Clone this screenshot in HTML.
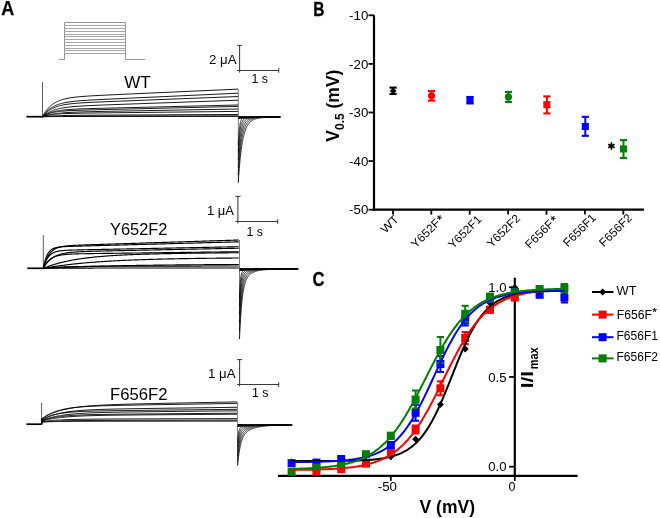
<!DOCTYPE html>
<html><head><meta charset="utf-8"><style>
html,body{margin:0;padding:0;background:#fff;}
svg{display:block;font-family:"Liberation Sans", sans-serif;will-change:transform;}
</style></head><body>
<svg width="660" height="518" viewBox="0 0 660 518">
<text x="1.30" y="15.30" font-size="19.5" font-weight="bold" textLength="13.00" lengthAdjust="spacingAndGlyphs" stroke="#000" stroke-width="0.25">A</text>
<path d="M59.00,59.50 L64.50,59.50 L64.50,22.50 L125.50,22.50 L125.50,59.50 L145.00,59.50" fill="none" stroke="#959595" stroke-width="1.0" />
<line x1="64.50" y1="25.50" x2="125.50" y2="25.50" stroke="#a8a8a8" stroke-width="1.0" />
<line x1="64.50" y1="28.50" x2="125.50" y2="28.50" stroke="#a8a8a8" stroke-width="1.0" />
<line x1="64.50" y1="31.50" x2="125.50" y2="31.50" stroke="#a8a8a8" stroke-width="1.0" />
<line x1="64.50" y1="34.50" x2="125.50" y2="34.50" stroke="#a8a8a8" stroke-width="1.0" />
<line x1="64.50" y1="36.50" x2="125.50" y2="36.50" stroke="#a8a8a8" stroke-width="1.0" />
<line x1="64.50" y1="39.50" x2="125.50" y2="39.50" stroke="#a8a8a8" stroke-width="1.0" />
<line x1="64.50" y1="42.50" x2="125.50" y2="42.50" stroke="#a8a8a8" stroke-width="1.0" />
<line x1="64.50" y1="45.50" x2="125.50" y2="45.50" stroke="#a8a8a8" stroke-width="1.0" />
<line x1="64.50" y1="48.50" x2="125.50" y2="48.50" stroke="#a8a8a8" stroke-width="1.0" />
<line x1="64.50" y1="50.50" x2="125.50" y2="50.50" stroke="#a8a8a8" stroke-width="1.0" />
<line x1="64.50" y1="53.50" x2="125.50" y2="53.50" stroke="#a8a8a8" stroke-width="1.0" />
<line x1="26.40" y1="116.70" x2="43.00" y2="116.70" stroke="#000" stroke-width="1.7" />
<line x1="42.50" y1="117.50" x2="42.50" y2="82.20" stroke="#333" stroke-width="0.8" />
<path d="M42.50,116.70 L42.50,116.70 L43.00,115.76 L43.50,114.87 L44.00,114.02 L44.50,113.21 L45.00,112.44 L45.50,111.70 L46.00,111.00 L46.50,110.33 L47.00,109.70 L47.50,109.09 L48.00,108.51 L48.50,107.96 L49.00,107.44 L49.50,106.94 L50.00,106.46 L50.50,106.00 L51.00,105.57 L51.50,105.16 L52.00,104.76 L52.50,104.39 L53.00,104.03 L53.50,103.68 L54.00,103.36 L54.50,103.04 L55.00,102.75 L55.50,102.46 L56.00,102.19 L56.50,101.93 L57.00,101.68 L57.50,101.44 L58.00,101.22 L58.50,101.00 L59.00,100.79 L59.50,100.59 L60.00,100.40 L60.50,100.22 L61.00,100.05 L61.50,99.88 L62.00,99.72 L62.50,99.57 L63.00,99.42 L64.00,99.15 L65.00,98.90 L66.00,98.66 L67.00,98.45 L68.00,98.25 L69.00,98.06 L70.00,97.89 L71.00,97.73 L72.00,97.58 L73.00,97.45 L74.00,97.32 L75.00,97.19 L76.00,97.08 L77.00,96.97 L78.00,96.87 L79.00,96.77 L80.00,96.68 L81.00,96.59 L82.00,96.51 L83.00,96.43 L84.00,96.36 L85.00,96.28 L86.00,96.21 L87.00,96.14 L88.00,96.08 L89.00,96.01 L90.00,95.95 L91.00,95.89 L92.00,95.83 L93.00,95.77 L94.00,95.72 L95.00,95.66 L96.00,95.61 L97.00,95.55 L98.00,95.50 L99.00,95.45 L100.00,95.40 L101.00,95.35 L102.00,95.30 L103.00,95.25 L104.00,95.20 L105.00,95.15 L106.00,95.10 L107.00,95.05 L108.00,95.00 L109.00,94.96 L110.00,94.91 L111.00,94.86 L112.00,94.82 L113.00,94.77 L114.00,94.72 L115.00,94.68 L116.00,94.63 L117.00,94.58 L118.00,94.54 L119.00,94.49 L120.00,94.44 L121.00,94.40 L122.00,94.35 L123.00,94.31 L124.00,94.26 L125.00,94.22 L126.00,94.17 L127.00,94.12 L128.00,94.08 L129.00,94.03 L130.00,93.99 L131.00,93.94 L132.00,93.90 L133.00,93.85 L134.00,93.81 L135.00,93.76 L136.00,93.72 L137.00,93.67 L138.00,93.63 L139.00,93.58 L140.00,93.54 L141.00,93.49 L142.00,93.44 L143.00,93.40 L144.00,93.35 L145.00,93.31 L146.00,93.26 L147.00,93.22 L148.00,93.17 L149.00,93.13 L150.00,93.08 L151.00,93.04 L152.00,92.99 L153.00,92.95 L154.00,92.90 L155.00,92.86 L156.00,92.81 L157.00,92.77 L158.00,92.72 L159.00,92.68 L160.00,92.63 L161.00,92.59 L162.00,92.54 L163.00,92.50 L164.00,92.45 L165.00,92.41 L166.00,92.36 L167.00,92.32 L168.00,92.27 L169.00,92.23 L170.00,92.18 L171.00,92.14 L172.00,92.09 L173.00,92.05 L174.00,92.00 L175.00,91.96 L176.00,91.91 L177.00,91.87 L178.00,91.82 L179.00,91.77 L180.00,91.73 L181.00,91.68 L182.00,91.64 L183.00,91.59 L184.00,91.55 L185.00,91.50 L186.00,91.46 L187.00,91.41 L188.00,91.37 L189.00,91.32 L190.00,91.28 L191.00,91.23 L192.00,91.19 L193.00,91.14 L194.00,91.10 L195.00,91.05 L196.00,91.01 L197.00,90.96 L198.00,90.92 L199.00,90.87 L200.00,90.83 L201.00,90.78 L202.00,90.74 L203.00,90.69 L204.00,90.65 L205.00,90.60 L206.00,90.56 L207.00,90.51 L208.00,90.47 L209.00,90.42 L210.00,90.38 L211.00,90.33 L212.00,90.29 L213.00,90.24 L214.00,90.20 L215.00,90.15 L216.00,90.11 L217.00,90.06 L218.00,90.02 L219.00,89.97 L220.00,89.93 L221.00,89.88 L222.00,89.84 L223.00,89.79 L224.00,89.75 L225.00,89.70 L226.00,89.65 L227.00,89.61 L228.00,89.56 L229.00,89.52 L230.00,89.47 L231.00,89.43 L232.00,89.38 L233.00,89.34 L234.00,89.29 L235.00,89.25 L236.00,89.20 L237.00,89.16 L238.00,89.11" fill="none" stroke="#000" stroke-width="0.9" />
<path d="M42.50,116.70 L42.50,116.70 L43.00,115.97 L43.50,115.27 L44.00,114.60 L44.50,113.97 L45.00,113.36 L45.50,112.79 L46.00,112.24 L46.50,111.71 L47.00,111.22 L47.50,110.74 L48.00,110.29 L48.50,109.85 L49.00,109.44 L49.50,109.05 L50.00,108.67 L50.50,108.31 L51.00,107.97 L51.50,107.64 L52.00,107.33 L52.50,107.03 L53.00,106.75 L53.50,106.48 L54.00,106.22 L54.50,105.97 L55.00,105.73 L55.50,105.51 L56.00,105.29 L56.50,105.08 L57.00,104.89 L57.50,104.70 L58.00,104.52 L58.50,104.34 L59.00,104.18 L59.50,104.02 L60.00,103.86 L60.50,103.72 L61.00,103.58 L61.50,103.44 L62.00,103.31 L62.50,103.19 L63.00,103.07 L64.00,102.85 L65.00,102.64 L66.00,102.45 L67.00,102.27 L68.00,102.10 L69.00,101.95 L70.00,101.81 L71.00,101.67 L72.00,101.55 L73.00,101.43 L74.00,101.32 L75.00,101.21 L76.00,101.11 L77.00,101.02 L78.00,100.93 L79.00,100.84 L80.00,100.76 L81.00,100.68 L82.00,100.61 L83.00,100.54 L84.00,100.47 L85.00,100.40 L86.00,100.33 L87.00,100.27 L88.00,100.21 L89.00,100.15 L90.00,100.09 L91.00,100.03 L92.00,99.98 L93.00,99.92 L94.00,99.87 L95.00,99.81 L96.00,99.76 L97.00,99.71 L98.00,99.66 L99.00,99.60 L100.00,99.55 L101.00,99.50 L102.00,99.45 L103.00,99.41 L104.00,99.36 L105.00,99.31 L106.00,99.26 L107.00,99.21 L108.00,99.16 L109.00,99.12 L110.00,99.07 L111.00,99.02 L112.00,98.97 L113.00,98.93 L114.00,98.88 L115.00,98.83 L116.00,98.79 L117.00,98.74 L118.00,98.69 L119.00,98.65 L120.00,98.60 L121.00,98.56 L122.00,98.51 L123.00,98.46 L124.00,98.42 L125.00,98.37 L126.00,98.33 L127.00,98.28 L128.00,98.23 L129.00,98.19 L130.00,98.14 L131.00,98.10 L132.00,98.05 L133.00,98.00 L134.00,97.96 L135.00,97.91 L136.00,97.87 L137.00,97.82 L138.00,97.78 L139.00,97.73 L140.00,97.68 L141.00,97.64 L142.00,97.59 L143.00,97.55 L144.00,97.50 L145.00,97.46 L146.00,97.41 L147.00,97.36 L148.00,97.32 L149.00,97.27 L150.00,97.23 L151.00,97.18 L152.00,97.14 L153.00,97.09 L154.00,97.04 L155.00,97.00 L156.00,96.95 L157.00,96.91 L158.00,96.86 L159.00,96.82 L160.00,96.77 L161.00,96.73 L162.00,96.68 L163.00,96.63 L164.00,96.59 L165.00,96.54 L166.00,96.50 L167.00,96.45 L168.00,96.41 L169.00,96.36 L170.00,96.32 L171.00,96.27 L172.00,96.22 L173.00,96.18 L174.00,96.13 L175.00,96.09 L176.00,96.04 L177.00,96.00 L178.00,95.95 L179.00,95.90 L180.00,95.86 L181.00,95.81 L182.00,95.77 L183.00,95.72 L184.00,95.68 L185.00,95.63 L186.00,95.59 L187.00,95.54 L188.00,95.49 L189.00,95.45 L190.00,95.40 L191.00,95.36 L192.00,95.31 L193.00,95.27 L194.00,95.22 L195.00,95.17 L196.00,95.13 L197.00,95.08 L198.00,95.04 L199.00,94.99 L200.00,94.95 L201.00,94.90 L202.00,94.86 L203.00,94.81 L204.00,94.76 L205.00,94.72 L206.00,94.67 L207.00,94.63 L208.00,94.58 L209.00,94.54 L210.00,94.49 L211.00,94.45 L212.00,94.40 L213.00,94.35 L214.00,94.31 L215.00,94.26 L216.00,94.22 L217.00,94.17 L218.00,94.13 L219.00,94.08 L220.00,94.03 L221.00,93.99 L222.00,93.94 L223.00,93.90 L224.00,93.85 L225.00,93.81 L226.00,93.76 L227.00,93.72 L228.00,93.67 L229.00,93.62 L230.00,93.58 L231.00,93.53 L232.00,93.49 L233.00,93.44 L234.00,93.40 L235.00,93.35 L236.00,93.30 L237.00,93.26 L238.00,93.21" fill="none" stroke="#000" stroke-width="0.9" />
<path d="M42.50,116.70 L42.50,116.70 L43.00,116.07 L43.50,115.47 L44.00,114.90 L44.50,114.35 L45.00,113.83 L45.50,113.34 L46.00,112.86 L46.50,112.41 L47.00,111.99 L47.50,111.58 L48.00,111.19 L48.50,110.81 L49.00,110.46 L49.50,110.12 L50.00,109.80 L50.50,109.49 L51.00,109.20 L51.50,108.92 L52.00,108.65 L52.50,108.39 L53.00,108.15 L53.50,107.91 L54.00,107.69 L54.50,107.48 L55.00,107.27 L55.50,107.08 L56.00,106.89 L56.50,106.72 L57.00,106.55 L57.50,106.38 L58.00,106.23 L58.50,106.08 L59.00,105.93 L59.50,105.80 L60.00,105.67 L60.50,105.54 L61.00,105.42 L61.50,105.30 L62.00,105.19 L62.50,105.09 L63.00,104.98 L64.00,104.79 L65.00,104.61 L66.00,104.45 L67.00,104.30 L68.00,104.15 L69.00,104.02 L70.00,103.90 L71.00,103.78 L72.00,103.68 L73.00,103.57 L74.00,103.48 L75.00,103.39 L76.00,103.30 L77.00,103.22 L78.00,103.14 L79.00,103.07 L80.00,103.00 L81.00,102.93 L82.00,102.87 L83.00,102.81 L84.00,102.75 L85.00,102.69 L86.00,102.63 L87.00,102.58 L88.00,102.52 L89.00,102.47 L90.00,102.42 L91.00,102.37 L92.00,102.32 L93.00,102.28 L94.00,102.23 L95.00,102.18 L96.00,102.14 L97.00,102.09 L98.00,102.05 L99.00,102.01 L100.00,101.96 L101.00,101.92 L102.00,101.88 L103.00,101.83 L104.00,101.79 L105.00,101.75 L106.00,101.71 L107.00,101.67 L108.00,101.63 L109.00,101.59 L110.00,101.54 L111.00,101.50 L112.00,101.46 L113.00,101.42 L114.00,101.38 L115.00,101.34 L116.00,101.30 L117.00,101.26 L118.00,101.22 L119.00,101.18 L120.00,101.14 L121.00,101.10 L122.00,101.06 L123.00,101.02 L124.00,100.98 L125.00,100.95 L126.00,100.91 L127.00,100.87 L128.00,100.83 L129.00,100.79 L130.00,100.75 L131.00,100.71 L132.00,100.67 L133.00,100.63 L134.00,100.59 L135.00,100.55 L136.00,100.51 L137.00,100.47 L138.00,100.43 L139.00,100.39 L140.00,100.35 L141.00,100.32 L142.00,100.28 L143.00,100.24 L144.00,100.20 L145.00,100.16 L146.00,100.12 L147.00,100.08 L148.00,100.04 L149.00,100.00 L150.00,99.96 L151.00,99.92 L152.00,99.88 L153.00,99.84 L154.00,99.81 L155.00,99.77 L156.00,99.73 L157.00,99.69 L158.00,99.65 L159.00,99.61 L160.00,99.57 L161.00,99.53 L162.00,99.49 L163.00,99.45 L164.00,99.41 L165.00,99.37 L166.00,99.33 L167.00,99.30 L168.00,99.26 L169.00,99.22 L170.00,99.18 L171.00,99.14 L172.00,99.10 L173.00,99.06 L174.00,99.02 L175.00,98.98 L176.00,98.94 L177.00,98.90 L178.00,98.86 L179.00,98.82 L180.00,98.79 L181.00,98.75 L182.00,98.71 L183.00,98.67 L184.00,98.63 L185.00,98.59 L186.00,98.55 L187.00,98.51 L188.00,98.47 L189.00,98.43 L190.00,98.39 L191.00,98.35 L192.00,98.32 L193.00,98.28 L194.00,98.24 L195.00,98.20 L196.00,98.16 L197.00,98.12 L198.00,98.08 L199.00,98.04 L200.00,98.00 L201.00,97.96 L202.00,97.92 L203.00,97.88 L204.00,97.84 L205.00,97.81 L206.00,97.77 L207.00,97.73 L208.00,97.69 L209.00,97.65 L210.00,97.61 L211.00,97.57 L212.00,97.53 L213.00,97.49 L214.00,97.45 L215.00,97.41 L216.00,97.37 L217.00,97.34 L218.00,97.30 L219.00,97.26 L220.00,97.22 L221.00,97.18 L222.00,97.14 L223.00,97.10 L224.00,97.06 L225.00,97.02 L226.00,96.98 L227.00,96.94 L228.00,96.90 L229.00,96.86 L230.00,96.83 L231.00,96.79 L232.00,96.75 L233.00,96.71 L234.00,96.67 L235.00,96.63 L236.00,96.59 L237.00,96.55 L238.00,96.51" fill="none" stroke="#000" stroke-width="0.9" />
<path d="M42.50,116.70 L42.50,116.70 L43.00,116.26 L43.50,115.83 L44.00,115.43 L44.50,115.04 L45.00,114.67 L45.50,114.31 L46.00,113.97 L46.50,113.64 L47.00,113.33 L47.50,113.03 L48.00,112.74 L48.50,112.46 L49.00,112.20 L49.50,111.95 L50.00,111.70 L50.50,111.47 L51.00,111.25 L51.50,111.03 L52.00,110.83 L52.50,110.63 L53.00,110.44 L53.50,110.26 L54.00,110.09 L54.50,109.92 L55.00,109.76 L55.50,109.61 L56.00,109.46 L56.50,109.31 L57.00,109.18 L57.50,109.05 L58.00,108.92 L58.50,108.80 L59.00,108.68 L59.50,108.57 L60.00,108.46 L60.50,108.36 L61.00,108.26 L61.50,108.16 L62.00,108.07 L62.50,107.98 L63.00,107.89 L64.00,107.72 L65.00,107.57 L66.00,107.43 L67.00,107.29 L68.00,107.17 L69.00,107.05 L70.00,106.94 L71.00,106.84 L72.00,106.74 L73.00,106.65 L74.00,106.56 L75.00,106.48 L76.00,106.40 L77.00,106.32 L78.00,106.25 L79.00,106.18 L80.00,106.12 L81.00,106.06 L82.00,106.00 L83.00,105.94 L84.00,105.88 L85.00,105.83 L86.00,105.77 L87.00,105.72 L88.00,105.67 L89.00,105.62 L90.00,105.58 L91.00,105.53 L92.00,105.48 L93.00,105.44 L94.00,105.40 L95.00,105.35 L96.00,105.31 L97.00,105.27 L98.00,105.23 L99.00,105.19 L100.00,105.15 L101.00,105.11 L102.00,105.07 L103.00,105.03 L104.00,104.99 L105.00,104.95 L106.00,104.91 L107.00,104.87 L108.00,104.84 L109.00,104.80 L110.00,104.76 L111.00,104.72 L112.00,104.69 L113.00,104.65 L114.00,104.61 L115.00,104.58 L116.00,104.54 L117.00,104.50 L118.00,104.47 L119.00,104.43 L120.00,104.40 L121.00,104.36 L122.00,104.32 L123.00,104.29 L124.00,104.25 L125.00,104.22 L126.00,104.18 L127.00,104.14 L128.00,104.11 L129.00,104.07 L130.00,104.04 L131.00,104.00 L132.00,103.97 L133.00,103.93 L134.00,103.89 L135.00,103.86 L136.00,103.82 L137.00,103.79 L138.00,103.75 L139.00,103.72 L140.00,103.68 L141.00,103.64 L142.00,103.61 L143.00,103.57 L144.00,103.54 L145.00,103.50 L146.00,103.47 L147.00,103.43 L148.00,103.40 L149.00,103.36 L150.00,103.33 L151.00,103.29 L152.00,103.25 L153.00,103.22 L154.00,103.18 L155.00,103.15 L156.00,103.11 L157.00,103.08 L158.00,103.04 L159.00,103.01 L160.00,102.97 L161.00,102.94 L162.00,102.90 L163.00,102.87 L164.00,102.83 L165.00,102.79 L166.00,102.76 L167.00,102.72 L168.00,102.69 L169.00,102.65 L170.00,102.62 L171.00,102.58 L172.00,102.55 L173.00,102.51 L174.00,102.48 L175.00,102.44 L176.00,102.41 L177.00,102.37 L178.00,102.33 L179.00,102.30 L180.00,102.26 L181.00,102.23 L182.00,102.19 L183.00,102.16 L184.00,102.12 L185.00,102.09 L186.00,102.05 L187.00,102.02 L188.00,101.98 L189.00,101.94 L190.00,101.91 L191.00,101.87 L192.00,101.84 L193.00,101.80 L194.00,101.77 L195.00,101.73 L196.00,101.70 L197.00,101.66 L198.00,101.63 L199.00,101.59 L200.00,101.56 L201.00,101.52 L202.00,101.48 L203.00,101.45 L204.00,101.41 L205.00,101.38 L206.00,101.34 L207.00,101.31 L208.00,101.27 L209.00,101.24 L210.00,101.20 L211.00,101.17 L212.00,101.13 L213.00,101.10 L214.00,101.06 L215.00,101.02 L216.00,100.99 L217.00,100.95 L218.00,100.92 L219.00,100.88 L220.00,100.85 L221.00,100.81 L222.00,100.78 L223.00,100.74 L224.00,100.71 L225.00,100.67 L226.00,100.64 L227.00,100.60 L228.00,100.56 L229.00,100.53 L230.00,100.49 L231.00,100.46 L232.00,100.42 L233.00,100.39 L234.00,100.35 L235.00,100.32 L236.00,100.28 L237.00,100.25 L238.00,100.21" fill="none" stroke="#000" stroke-width="0.9" />
<path d="M42.50,116.70 L42.50,116.70 L43.00,116.35 L43.50,116.01 L44.00,115.69 L44.50,115.38 L45.00,115.09 L45.50,114.81 L46.00,114.54 L46.50,114.29 L47.00,114.05 L47.50,113.82 L48.00,113.60 L48.50,113.39 L49.00,113.19 L49.50,113.00 L50.00,112.82 L50.50,112.64 L51.00,112.48 L51.50,112.32 L52.00,112.17 L52.50,112.02 L53.00,111.89 L53.50,111.75 L54.00,111.63 L54.50,111.51 L55.00,111.39 L55.50,111.28 L56.00,111.18 L56.50,111.08 L57.00,110.98 L57.50,110.89 L58.00,110.80 L58.50,110.71 L59.00,110.63 L59.50,110.56 L60.00,110.48 L60.50,110.41 L61.00,110.34 L61.50,110.28 L62.00,110.21 L62.50,110.15 L63.00,110.09 L64.00,109.98 L65.00,109.88 L66.00,109.79 L67.00,109.70 L68.00,109.62 L69.00,109.54 L70.00,109.47 L71.00,109.40 L72.00,109.34 L73.00,109.28 L74.00,109.23 L75.00,109.18 L76.00,109.13 L77.00,109.08 L78.00,109.03 L79.00,108.99 L80.00,108.95 L81.00,108.91 L82.00,108.87 L83.00,108.83 L84.00,108.80 L85.00,108.76 L86.00,108.73 L87.00,108.70 L88.00,108.67 L89.00,108.64 L90.00,108.61 L91.00,108.58 L92.00,108.55 L93.00,108.52 L94.00,108.49 L95.00,108.46 L96.00,108.43 L97.00,108.41 L98.00,108.38 L99.00,108.35 L100.00,108.33 L101.00,108.30 L102.00,108.28 L103.00,108.25 L104.00,108.23 L105.00,108.20 L106.00,108.17 L107.00,108.15 L108.00,108.12 L109.00,108.10 L110.00,108.07 L111.00,108.05 L112.00,108.03 L113.00,108.00 L114.00,107.98 L115.00,107.95 L116.00,107.93 L117.00,107.90 L118.00,107.88 L119.00,107.85 L120.00,107.83 L121.00,107.81 L122.00,107.78 L123.00,107.76 L124.00,107.73 L125.00,107.71 L126.00,107.69 L127.00,107.66 L128.00,107.64 L129.00,107.61 L130.00,107.59 L131.00,107.57 L132.00,107.54 L133.00,107.52 L134.00,107.49 L135.00,107.47 L136.00,107.45 L137.00,107.42 L138.00,107.40 L139.00,107.37 L140.00,107.35 L141.00,107.33 L142.00,107.30 L143.00,107.28 L144.00,107.25 L145.00,107.23 L146.00,107.21 L147.00,107.18 L148.00,107.16 L149.00,107.13 L150.00,107.11 L151.00,107.09 L152.00,107.06 L153.00,107.04 L154.00,107.02 L155.00,106.99 L156.00,106.97 L157.00,106.94 L158.00,106.92 L159.00,106.90 L160.00,106.87 L161.00,106.85 L162.00,106.82 L163.00,106.80 L164.00,106.78 L165.00,106.75 L166.00,106.73 L167.00,106.70 L168.00,106.68 L169.00,106.66 L170.00,106.63 L171.00,106.61 L172.00,106.58 L173.00,106.56 L174.00,106.54 L175.00,106.51 L176.00,106.49 L177.00,106.47 L178.00,106.44 L179.00,106.42 L180.00,106.39 L181.00,106.37 L182.00,106.35 L183.00,106.32 L184.00,106.30 L185.00,106.27 L186.00,106.25 L187.00,106.23 L188.00,106.20 L189.00,106.18 L190.00,106.15 L191.00,106.13 L192.00,106.11 L193.00,106.08 L194.00,106.06 L195.00,106.03 L196.00,106.01 L197.00,105.99 L198.00,105.96 L199.00,105.94 L200.00,105.92 L201.00,105.89 L202.00,105.87 L203.00,105.84 L204.00,105.82 L205.00,105.80 L206.00,105.77 L207.00,105.75 L208.00,105.72 L209.00,105.70 L210.00,105.68 L211.00,105.65 L212.00,105.63 L213.00,105.60 L214.00,105.58 L215.00,105.56 L216.00,105.53 L217.00,105.51 L218.00,105.49 L219.00,105.46 L220.00,105.44 L221.00,105.41 L222.00,105.39 L223.00,105.37 L224.00,105.34 L225.00,105.32 L226.00,105.29 L227.00,105.27 L228.00,105.25 L229.00,105.22 L230.00,105.20 L231.00,105.17 L232.00,105.15 L233.00,105.13 L234.00,105.10 L235.00,105.08 L236.00,105.05 L237.00,105.03 L238.00,105.01" fill="none" stroke="#000" stroke-width="0.9" />
<path d="M42.50,116.70 L42.50,116.70 L43.00,116.38 L43.50,116.08 L44.00,115.79 L44.50,115.52 L45.00,115.27 L45.50,115.02 L46.00,114.79 L46.50,114.57 L47.00,114.36 L47.50,114.17 L48.00,113.98 L48.50,113.80 L49.00,113.63 L49.50,113.47 L50.00,113.32 L50.50,113.17 L51.00,113.04 L51.50,112.91 L52.00,112.78 L52.50,112.66 L53.00,112.55 L53.50,112.44 L54.00,112.34 L54.50,112.24 L55.00,112.15 L55.50,112.06 L56.00,111.98 L56.50,111.90 L57.00,111.82 L57.50,111.75 L58.00,111.68 L58.50,111.61 L59.00,111.55 L59.50,111.49 L60.00,111.43 L60.50,111.38 L61.00,111.32 L61.50,111.27 L62.00,111.22 L62.50,111.18 L63.00,111.13 L64.00,111.05 L65.00,110.97 L66.00,110.89 L67.00,110.83 L68.00,110.76 L69.00,110.71 L70.00,110.65 L71.00,110.60 L72.00,110.55 L73.00,110.50 L74.00,110.46 L75.00,110.42 L76.00,110.38 L77.00,110.34 L78.00,110.30 L79.00,110.27 L80.00,110.24 L81.00,110.20 L82.00,110.17 L83.00,110.14 L84.00,110.11 L85.00,110.08 L86.00,110.05 L87.00,110.02 L88.00,109.99 L89.00,109.97 L90.00,109.94 L91.00,109.91 L92.00,109.89 L93.00,109.86 L94.00,109.83 L95.00,109.81 L96.00,109.78 L97.00,109.76 L98.00,109.73 L99.00,109.71 L100.00,109.68 L101.00,109.66 L102.00,109.63 L103.00,109.61 L104.00,109.59 L105.00,109.56 L106.00,109.54 L107.00,109.51 L108.00,109.49 L109.00,109.46 L110.00,109.44 L111.00,109.42 L112.00,109.39 L113.00,109.37 L114.00,109.34 L115.00,109.32 L116.00,109.30 L117.00,109.27 L118.00,109.25 L119.00,109.23 L120.00,109.20 L121.00,109.18 L122.00,109.15 L123.00,109.13 L124.00,109.11 L125.00,109.08 L126.00,109.06 L127.00,109.04 L128.00,109.01 L129.00,108.99 L130.00,108.96 L131.00,108.94 L132.00,108.92 L133.00,108.89 L134.00,108.87 L135.00,108.85 L136.00,108.82 L137.00,108.80 L138.00,108.77 L139.00,108.75 L140.00,108.73 L141.00,108.70 L142.00,108.68 L143.00,108.66 L144.00,108.63 L145.00,108.61 L146.00,108.58 L147.00,108.56 L148.00,108.54 L149.00,108.51 L150.00,108.49 L151.00,108.47 L152.00,108.44 L153.00,108.42 L154.00,108.40 L155.00,108.37 L156.00,108.35 L157.00,108.32 L158.00,108.30 L159.00,108.28 L160.00,108.25 L161.00,108.23 L162.00,108.21 L163.00,108.18 L164.00,108.16 L165.00,108.14 L166.00,108.11 L167.00,108.09 L168.00,108.06 L169.00,108.04 L170.00,108.02 L171.00,107.99 L172.00,107.97 L173.00,107.95 L174.00,107.92 L175.00,107.90 L176.00,107.87 L177.00,107.85 L178.00,107.83 L179.00,107.80 L180.00,107.78 L181.00,107.76 L182.00,107.73 L183.00,107.71 L184.00,107.69 L185.00,107.66 L186.00,107.64 L187.00,107.61 L188.00,107.59 L189.00,107.57 L190.00,107.54 L191.00,107.52 L192.00,107.50 L193.00,107.47 L194.00,107.45 L195.00,107.43 L196.00,107.40 L197.00,107.38 L198.00,107.35 L199.00,107.33 L200.00,107.31 L201.00,107.28 L202.00,107.26 L203.00,107.24 L204.00,107.21 L205.00,107.19 L206.00,107.16 L207.00,107.14 L208.00,107.12 L209.00,107.09 L210.00,107.07 L211.00,107.05 L212.00,107.02 L213.00,107.00 L214.00,106.98 L215.00,106.95 L216.00,106.93 L217.00,106.90 L218.00,106.88 L219.00,106.86 L220.00,106.83 L221.00,106.81 L222.00,106.79 L223.00,106.76 L224.00,106.74 L225.00,106.71 L226.00,106.69 L227.00,106.67 L228.00,106.64 L229.00,106.62 L230.00,106.60 L231.00,106.57 L232.00,106.55 L233.00,106.53 L234.00,106.50 L235.00,106.48 L236.00,106.45 L237.00,106.43 L238.00,106.41" fill="none" stroke="#000" stroke-width="0.9" />
<path d="M42.50,116.70 L42.50,116.70 L43.00,116.52 L43.50,116.34 L44.00,116.18 L44.50,116.01 L45.00,115.86 L45.50,115.71 L46.00,115.57 L46.50,115.43 L47.00,115.30 L47.50,115.17 L48.00,115.05 L48.50,114.93 L49.00,114.81 L49.50,114.70 L50.00,114.60 L50.50,114.50 L51.00,114.40 L51.50,114.31 L52.00,114.22 L52.50,114.13 L53.00,114.04 L53.50,113.96 L54.00,113.89 L54.50,113.81 L55.00,113.74 L55.50,113.67 L56.00,113.60 L56.50,113.54 L57.00,113.47 L57.50,113.41 L58.00,113.35 L58.50,113.30 L59.00,113.24 L59.50,113.19 L60.00,113.14 L60.50,113.09 L61.00,113.04 L61.50,113.00 L62.00,112.95 L62.50,112.91 L63.00,112.87 L64.00,112.79 L65.00,112.72 L66.00,112.65 L67.00,112.58 L68.00,112.52 L69.00,112.46 L70.00,112.41 L71.00,112.35 L72.00,112.31 L73.00,112.26 L74.00,112.21 L75.00,112.17 L76.00,112.13 L77.00,112.09 L78.00,112.06 L79.00,112.02 L80.00,111.99 L81.00,111.95 L82.00,111.92 L83.00,111.89 L84.00,111.86 L85.00,111.84 L86.00,111.81 L87.00,111.78 L88.00,111.76 L89.00,111.73 L90.00,111.71 L91.00,111.68 L92.00,111.66 L93.00,111.63 L94.00,111.61 L95.00,111.59 L96.00,111.57 L97.00,111.55 L98.00,111.52 L99.00,111.50 L100.00,111.48 L101.00,111.46 L102.00,111.44 L103.00,111.42 L104.00,111.40 L105.00,111.38 L106.00,111.36 L107.00,111.34 L108.00,111.32 L109.00,111.30 L110.00,111.29 L111.00,111.27 L112.00,111.25 L113.00,111.23 L114.00,111.21 L115.00,111.19 L116.00,111.17 L117.00,111.16 L118.00,111.14 L119.00,111.12 L120.00,111.10 L121.00,111.08 L122.00,111.06 L123.00,111.05 L124.00,111.03 L125.00,111.01 L126.00,110.99 L127.00,110.97 L128.00,110.96 L129.00,110.94 L130.00,110.92 L131.00,110.90 L132.00,110.88 L133.00,110.87 L134.00,110.85 L135.00,110.83 L136.00,110.81 L137.00,110.79 L138.00,110.78 L139.00,110.76 L140.00,110.74 L141.00,110.72 L142.00,110.71 L143.00,110.69 L144.00,110.67 L145.00,110.65 L146.00,110.63 L147.00,110.62 L148.00,110.60 L149.00,110.58 L150.00,110.56 L151.00,110.55 L152.00,110.53 L153.00,110.51 L154.00,110.49 L155.00,110.47 L156.00,110.46 L157.00,110.44 L158.00,110.42 L159.00,110.40 L160.00,110.39 L161.00,110.37 L162.00,110.35 L163.00,110.33 L164.00,110.32 L165.00,110.30 L166.00,110.28 L167.00,110.26 L168.00,110.24 L169.00,110.23 L170.00,110.21 L171.00,110.19 L172.00,110.17 L173.00,110.16 L174.00,110.14 L175.00,110.12 L176.00,110.10 L177.00,110.08 L178.00,110.07 L179.00,110.05 L180.00,110.03 L181.00,110.01 L182.00,110.00 L183.00,109.98 L184.00,109.96 L185.00,109.94 L186.00,109.93 L187.00,109.91 L188.00,109.89 L189.00,109.87 L190.00,109.85 L191.00,109.84 L192.00,109.82 L193.00,109.80 L194.00,109.78 L195.00,109.77 L196.00,109.75 L197.00,109.73 L198.00,109.71 L199.00,109.70 L200.00,109.68 L201.00,109.66 L202.00,109.64 L203.00,109.62 L204.00,109.61 L205.00,109.59 L206.00,109.57 L207.00,109.55 L208.00,109.54 L209.00,109.52 L210.00,109.50 L211.00,109.48 L212.00,109.47 L213.00,109.45 L214.00,109.43 L215.00,109.41 L216.00,109.39 L217.00,109.38 L218.00,109.36 L219.00,109.34 L220.00,109.32 L221.00,109.31 L222.00,109.29 L223.00,109.27 L224.00,109.25 L225.00,109.24 L226.00,109.22 L227.00,109.20 L228.00,109.18 L229.00,109.16 L230.00,109.15 L231.00,109.13 L232.00,109.11 L233.00,109.09 L234.00,109.08 L235.00,109.06 L236.00,109.04 L237.00,109.02 L238.00,109.01" fill="none" stroke="#000" stroke-width="0.9" />
<path d="M42.50,116.70 L42.50,116.70 L43.00,116.54 L43.50,116.39 L44.00,116.24 L44.50,116.10 L45.00,115.97 L45.50,115.84 L46.00,115.72 L46.50,115.61 L47.00,115.50 L47.50,115.39 L48.00,115.30 L48.50,115.20 L49.00,115.11 L49.50,115.02 L50.00,114.94 L50.50,114.86 L51.00,114.79 L51.50,114.72 L52.00,114.65 L52.50,114.58 L53.00,114.52 L53.50,114.46 L54.00,114.40 L54.50,114.35 L55.00,114.30 L55.50,114.25 L56.00,114.20 L56.50,114.15 L57.00,114.11 L57.50,114.07 L58.00,114.03 L58.50,113.99 L59.00,113.95 L59.50,113.92 L60.00,113.88 L60.50,113.85 L61.00,113.82 L61.50,113.79 L62.00,113.76 L62.50,113.73 L63.00,113.71 L64.00,113.66 L65.00,113.61 L66.00,113.57 L67.00,113.53 L68.00,113.49 L69.00,113.46 L70.00,113.43 L71.00,113.40 L72.00,113.37 L73.00,113.34 L74.00,113.32 L75.00,113.29 L76.00,113.27 L77.00,113.25 L78.00,113.23 L79.00,113.21 L80.00,113.19 L81.00,113.17 L82.00,113.15 L83.00,113.14 L84.00,113.12 L85.00,113.11 L86.00,113.09 L87.00,113.08 L88.00,113.06 L89.00,113.05 L90.00,113.03 L91.00,113.02 L92.00,113.01 L93.00,112.99 L94.00,112.98 L95.00,112.97 L96.00,112.96 L97.00,112.94 L98.00,112.93 L99.00,112.92 L100.00,112.91 L101.00,112.90 L102.00,112.88 L103.00,112.87 L104.00,112.86 L105.00,112.85 L106.00,112.84 L107.00,112.83 L108.00,112.82 L109.00,112.80 L110.00,112.79 L111.00,112.78 L112.00,112.77 L113.00,112.76 L114.00,112.75 L115.00,112.74 L116.00,112.73 L117.00,112.72 L118.00,112.70 L119.00,112.69 L120.00,112.68 L121.00,112.67 L122.00,112.66 L123.00,112.65 L124.00,112.64 L125.00,112.63 L126.00,112.62 L127.00,112.61 L128.00,112.59 L129.00,112.58 L130.00,112.57 L131.00,112.56 L132.00,112.55 L133.00,112.54 L134.00,112.53 L135.00,112.52 L136.00,112.51 L137.00,112.50 L138.00,112.49 L139.00,112.48 L140.00,112.46 L141.00,112.45 L142.00,112.44 L143.00,112.43 L144.00,112.42 L145.00,112.41 L146.00,112.40 L147.00,112.39 L148.00,112.38 L149.00,112.37 L150.00,112.36 L151.00,112.35 L152.00,112.33 L153.00,112.32 L154.00,112.31 L155.00,112.30 L156.00,112.29 L157.00,112.28 L158.00,112.27 L159.00,112.26 L160.00,112.25 L161.00,112.24 L162.00,112.23 L163.00,112.22 L164.00,112.20 L165.00,112.19 L166.00,112.18 L167.00,112.17 L168.00,112.16 L169.00,112.15 L170.00,112.14 L171.00,112.13 L172.00,112.12 L173.00,112.11 L174.00,112.10 L175.00,112.09 L176.00,112.07 L177.00,112.06 L178.00,112.05 L179.00,112.04 L180.00,112.03 L181.00,112.02 L182.00,112.01 L183.00,112.00 L184.00,111.99 L185.00,111.98 L186.00,111.97 L187.00,111.96 L188.00,111.94 L189.00,111.93 L190.00,111.92 L191.00,111.91 L192.00,111.90 L193.00,111.89 L194.00,111.88 L195.00,111.87 L196.00,111.86 L197.00,111.85 L198.00,111.84 L199.00,111.83 L200.00,111.81 L201.00,111.80 L202.00,111.79 L203.00,111.78 L204.00,111.77 L205.00,111.76 L206.00,111.75 L207.00,111.74 L208.00,111.73 L209.00,111.72 L210.00,111.71 L211.00,111.70 L212.00,111.68 L213.00,111.67 L214.00,111.66 L215.00,111.65 L216.00,111.64 L217.00,111.63 L218.00,111.62 L219.00,111.61 L220.00,111.60 L221.00,111.59 L222.00,111.58 L223.00,111.57 L224.00,111.55 L225.00,111.54 L226.00,111.53 L227.00,111.52 L228.00,111.51 L229.00,111.50 L230.00,111.49 L231.00,111.48 L232.00,111.47 L233.00,111.46 L234.00,111.45 L235.00,111.44 L236.00,111.42 L237.00,111.41 L238.00,111.40" fill="none" stroke="#000" stroke-width="0.9" />
<path d="M42.50,116.70 L42.50,116.70 L43.00,116.64 L43.50,116.59 L44.00,116.54 L44.50,116.49 L45.00,116.44 L45.50,116.39 L46.00,116.35 L46.50,116.31 L47.00,116.27 L47.50,116.23 L48.00,116.19 L48.50,116.15 L49.00,116.12 L49.50,116.09 L50.00,116.05 L50.50,116.02 L51.00,115.99 L51.50,115.96 L52.00,115.94 L52.50,115.91 L53.00,115.88 L53.50,115.86 L54.00,115.83 L54.50,115.81 L55.00,115.79 L55.50,115.77 L56.00,115.75 L56.50,115.73 L57.00,115.71 L57.50,115.69 L58.00,115.67 L58.50,115.66 L59.00,115.64 L59.50,115.62 L60.00,115.61 L60.50,115.59 L61.00,115.58 L61.50,115.57 L62.00,115.55 L62.50,115.54 L63.00,115.53 L64.00,115.50 L65.00,115.48 L66.00,115.46 L67.00,115.44 L68.00,115.42 L69.00,115.41 L70.00,115.39 L71.00,115.37 L72.00,115.36 L73.00,115.35 L74.00,115.33 L75.00,115.32 L76.00,115.31 L77.00,115.30 L78.00,115.29 L79.00,115.28 L80.00,115.27 L81.00,115.26 L82.00,115.25 L83.00,115.24 L84.00,115.24 L85.00,115.23 L86.00,115.22 L87.00,115.21 L88.00,115.21 L89.00,115.20 L90.00,115.19 L91.00,115.19 L92.00,115.18 L93.00,115.17 L94.00,115.17 L95.00,115.16 L96.00,115.15 L97.00,115.15 L98.00,115.14 L99.00,115.14 L100.00,115.13 L101.00,115.13 L102.00,115.12 L103.00,115.12 L104.00,115.11 L105.00,115.11 L106.00,115.10 L107.00,115.10 L108.00,115.09 L109.00,115.09 L110.00,115.08 L111.00,115.08 L112.00,115.07 L113.00,115.07 L114.00,115.06 L115.00,115.06 L116.00,115.05 L117.00,115.05 L118.00,115.04 L119.00,115.04 L120.00,115.03 L121.00,115.03 L122.00,115.02 L123.00,115.02 L124.00,115.02 L125.00,115.01 L126.00,115.01 L127.00,115.00 L128.00,115.00 L129.00,114.99 L130.00,114.99 L131.00,114.98 L132.00,114.98 L133.00,114.97 L134.00,114.97 L135.00,114.96 L136.00,114.96 L137.00,114.96 L138.00,114.95 L139.00,114.95 L140.00,114.94 L141.00,114.94 L142.00,114.93 L143.00,114.93 L144.00,114.92 L145.00,114.92 L146.00,114.92 L147.00,114.91 L148.00,114.91 L149.00,114.90 L150.00,114.90 L151.00,114.89 L152.00,114.89 L153.00,114.88 L154.00,114.88 L155.00,114.87 L156.00,114.87 L157.00,114.87 L158.00,114.86 L159.00,114.86 L160.00,114.85 L161.00,114.85 L162.00,114.84 L163.00,114.84 L164.00,114.83 L165.00,114.83 L166.00,114.82 L167.00,114.82 L168.00,114.82 L169.00,114.81 L170.00,114.81 L171.00,114.80 L172.00,114.80 L173.00,114.79 L174.00,114.79 L175.00,114.78 L176.00,114.78 L177.00,114.78 L178.00,114.77 L179.00,114.77 L180.00,114.76 L181.00,114.76 L182.00,114.75 L183.00,114.75 L184.00,114.74 L185.00,114.74 L186.00,114.74 L187.00,114.73 L188.00,114.73 L189.00,114.72 L190.00,114.72 L191.00,114.71 L192.00,114.71 L193.00,114.70 L194.00,114.70 L195.00,114.69 L196.00,114.69 L197.00,114.69 L198.00,114.68 L199.00,114.68 L200.00,114.67 L201.00,114.67 L202.00,114.66 L203.00,114.66 L204.00,114.65 L205.00,114.65 L206.00,114.65 L207.00,114.64 L208.00,114.64 L209.00,114.63 L210.00,114.63 L211.00,114.62 L212.00,114.62 L213.00,114.61 L214.00,114.61 L215.00,114.60 L216.00,114.60 L217.00,114.60 L218.00,114.59 L219.00,114.59 L220.00,114.58 L221.00,114.58 L222.00,114.57 L223.00,114.57 L224.00,114.56 L225.00,114.56 L226.00,114.56 L227.00,114.55 L228.00,114.55 L229.00,114.54 L230.00,114.54 L231.00,114.53 L232.00,114.53 L233.00,114.52 L234.00,114.52 L235.00,114.51 L236.00,114.51 L237.00,114.51 L238.00,114.50" fill="none" stroke="#000" stroke-width="0.9" />
<path d="M42.50,116.70 L42.50,116.70 L43.00,116.68 L43.50,116.66 L44.00,116.64 L44.50,116.63 L45.00,116.61 L45.50,116.59 L46.00,116.58 L46.50,116.56 L47.00,116.55 L47.50,116.54 L48.00,116.52 L48.50,116.51 L49.00,116.50 L49.50,116.48 L50.00,116.47 L50.50,116.46 L51.00,116.45 L51.50,116.44 L52.00,116.43 L52.50,116.42 L53.00,116.41 L53.50,116.40 L54.00,116.39 L54.50,116.38 L55.00,116.37 L55.50,116.36 L56.00,116.35 L56.50,116.34 L57.00,116.34 L57.50,116.33 L58.00,116.32 L58.50,116.31 L59.00,116.31 L59.50,116.30 L60.00,116.29 L60.50,116.29 L61.00,116.28 L61.50,116.27 L62.00,116.27 L62.50,116.26 L63.00,116.26 L64.00,116.25 L65.00,116.24 L66.00,116.23 L67.00,116.22 L68.00,116.21 L69.00,116.20 L70.00,116.20 L71.00,116.19 L72.00,116.18 L73.00,116.18 L74.00,116.17 L75.00,116.16 L76.00,116.16 L77.00,116.15 L78.00,116.15 L79.00,116.14 L80.00,116.14 L81.00,116.14 L82.00,116.13 L83.00,116.13 L84.00,116.12 L85.00,116.12 L86.00,116.12 L87.00,116.11 L88.00,116.11 L89.00,116.11 L90.00,116.11 L91.00,116.10 L92.00,116.10 L93.00,116.10 L94.00,116.09 L95.00,116.09 L96.00,116.09 L97.00,116.09 L98.00,116.09 L99.00,116.08 L100.00,116.08 L101.00,116.08 L102.00,116.08 L103.00,116.08 L104.00,116.07 L105.00,116.07 L106.00,116.07 L107.00,116.07 L108.00,116.07 L109.00,116.07 L110.00,116.06 L111.00,116.06 L112.00,116.06 L113.00,116.06 L114.00,116.06 L115.00,116.06 L116.00,116.05 L117.00,116.05 L118.00,116.05 L119.00,116.05 L120.00,116.05 L121.00,116.05 L122.00,116.05 L123.00,116.04 L124.00,116.04 L125.00,116.04 L126.00,116.04 L127.00,116.04 L128.00,116.04 L129.00,116.04 L130.00,116.03 L131.00,116.03 L132.00,116.03 L133.00,116.03 L134.00,116.03 L135.00,116.03 L136.00,116.03 L137.00,116.03 L138.00,116.02 L139.00,116.02 L140.00,116.02 L141.00,116.02 L142.00,116.02 L143.00,116.02 L144.00,116.02 L145.00,116.01 L146.00,116.01 L147.00,116.01 L148.00,116.01 L149.00,116.01 L150.00,116.01 L151.00,116.01 L152.00,116.01 L153.00,116.00 L154.00,116.00 L155.00,116.00 L156.00,116.00 L157.00,116.00 L158.00,116.00 L159.00,116.00 L160.00,116.00 L161.00,115.99 L162.00,115.99 L163.00,115.99 L164.00,115.99 L165.00,115.99 L166.00,115.99 L167.00,115.99 L168.00,115.99 L169.00,115.99 L170.00,115.98 L171.00,115.98 L172.00,115.98 L173.00,115.98 L174.00,115.98 L175.00,115.98 L176.00,115.98 L177.00,115.98 L178.00,115.97 L179.00,115.97 L180.00,115.97 L181.00,115.97 L182.00,115.97 L183.00,115.97 L184.00,115.97 L185.00,115.97 L186.00,115.96 L187.00,115.96 L188.00,115.96 L189.00,115.96 L190.00,115.96 L191.00,115.96 L192.00,115.96 L193.00,115.96 L194.00,115.95 L195.00,115.95 L196.00,115.95 L197.00,115.95 L198.00,115.95 L199.00,115.95 L200.00,115.95 L201.00,115.95 L202.00,115.94 L203.00,115.94 L204.00,115.94 L205.00,115.94 L206.00,115.94 L207.00,115.94 L208.00,115.94 L209.00,115.94 L210.00,115.93 L211.00,115.93 L212.00,115.93 L213.00,115.93 L214.00,115.93 L215.00,115.93 L216.00,115.93 L217.00,115.93 L218.00,115.92 L219.00,115.92 L220.00,115.92 L221.00,115.92 L222.00,115.92 L223.00,115.92 L224.00,115.92 L225.00,115.92 L226.00,115.92 L227.00,115.91 L228.00,115.91 L229.00,115.91 L230.00,115.91 L231.00,115.91 L232.00,115.91 L233.00,115.91 L234.00,115.91 L235.00,115.90 L236.00,115.90 L237.00,115.90 L238.00,115.90" fill="none" stroke="#000" stroke-width="0.9" />
<path d="M42.50,116.70 L42.50,116.70 L43.00,116.69 L43.50,116.69 L44.00,116.68 L44.50,116.67 L45.00,116.67 L45.50,116.66 L46.00,116.66 L46.50,116.65 L47.00,116.64 L47.50,116.64 L48.00,116.63 L48.50,116.63 L49.00,116.62 L49.50,116.62 L50.00,116.61 L50.50,116.61 L51.00,116.61 L51.50,116.60 L52.00,116.60 L52.50,116.59 L53.00,116.59 L53.50,116.58 L54.00,116.58 L54.50,116.58 L55.00,116.57 L55.50,116.57 L56.00,116.57 L56.50,116.56 L57.00,116.56 L57.50,116.56 L58.00,116.55 L58.50,116.55 L59.00,116.55 L59.50,116.54 L60.00,116.54 L60.50,116.54 L61.00,116.53 L61.50,116.53 L62.00,116.53 L62.50,116.53 L63.00,116.52 L64.00,116.52 L65.00,116.51 L66.00,116.51 L67.00,116.51 L68.00,116.50 L69.00,116.50 L70.00,116.49 L71.00,116.49 L72.00,116.49 L73.00,116.48 L74.00,116.48 L75.00,116.48 L76.00,116.48 L77.00,116.47 L78.00,116.47 L79.00,116.47 L80.00,116.47 L81.00,116.46 L82.00,116.46 L83.00,116.46 L84.00,116.46 L85.00,116.46 L86.00,116.45 L87.00,116.45 L88.00,116.45 L89.00,116.45 L90.00,116.45 L91.00,116.45 L92.00,116.45 L93.00,116.44 L94.00,116.44 L95.00,116.44 L96.00,116.44 L97.00,116.44 L98.00,116.44 L99.00,116.44 L100.00,116.44 L101.00,116.44 L102.00,116.43 L103.00,116.43 L104.00,116.43 L105.00,116.43 L106.00,116.43 L107.00,116.43 L108.00,116.43 L109.00,116.43 L110.00,116.43 L111.00,116.43 L112.00,116.43 L113.00,116.43 L114.00,116.43 L115.00,116.43 L116.00,116.43 L117.00,116.43 L118.00,116.42 L119.00,116.42 L120.00,116.42 L121.00,116.42 L122.00,116.42 L123.00,116.42 L124.00,116.42 L125.00,116.42 L126.00,116.42 L127.00,116.42 L128.00,116.42 L129.00,116.42 L130.00,116.42 L131.00,116.42 L132.00,116.42 L133.00,116.42 L134.00,116.42 L135.00,116.42 L136.00,116.42 L137.00,116.42 L138.00,116.42 L139.00,116.42 L140.00,116.42 L141.00,116.42 L142.00,116.42 L143.00,116.42 L144.00,116.42 L145.00,116.42 L146.00,116.42 L147.00,116.42 L148.00,116.42 L149.00,116.41 L150.00,116.41 L151.00,116.41 L152.00,116.41 L153.00,116.41 L154.00,116.41 L155.00,116.41 L156.00,116.41 L157.00,116.41 L158.00,116.41 L159.00,116.41 L160.00,116.41 L161.00,116.41 L162.00,116.41 L163.00,116.41 L164.00,116.41 L165.00,116.41 L166.00,116.41 L167.00,116.41 L168.00,116.41 L169.00,116.41 L170.00,116.41 L171.00,116.41 L172.00,116.41 L173.00,116.41 L174.00,116.41 L175.00,116.41 L176.00,116.41 L177.00,116.41 L178.00,116.41 L179.00,116.41 L180.00,116.41 L181.00,116.41 L182.00,116.41 L183.00,116.41 L184.00,116.41 L185.00,116.41 L186.00,116.41 L187.00,116.41 L188.00,116.41 L189.00,116.41 L190.00,116.41 L191.00,116.41 L192.00,116.41 L193.00,116.41 L194.00,116.41 L195.00,116.41 L196.00,116.41 L197.00,116.41 L198.00,116.41 L199.00,116.41 L200.00,116.41 L201.00,116.41 L202.00,116.41 L203.00,116.41 L204.00,116.41 L205.00,116.41 L206.00,116.41 L207.00,116.40 L208.00,116.40 L209.00,116.40 L210.00,116.40 L211.00,116.40 L212.00,116.40 L213.00,116.40 L214.00,116.40 L215.00,116.40 L216.00,116.40 L217.00,116.40 L218.00,116.40 L219.00,116.40 L220.00,116.40 L221.00,116.40 L222.00,116.40 L223.00,116.40 L224.00,116.40 L225.00,116.40 L226.00,116.40 L227.00,116.40 L228.00,116.40 L229.00,116.40 L230.00,116.40 L231.00,116.40 L232.00,116.40 L233.00,116.40 L234.00,116.40 L235.00,116.40 L236.00,116.40 L237.00,116.40 L238.00,116.40" fill="none" stroke="#000" stroke-width="0.9" />
<line x1="238.30" y1="89.10" x2="238.30" y2="182.50" stroke="#444" stroke-width="0.7" />
<path d="M238.30,145.11 L238.50,140.95 L238.70,137.43 L238.90,134.45 L239.10,131.93 L239.30,129.79 L239.50,127.98 L239.70,126.44 L239.90,125.13 L240.10,124.02 L240.30,123.07 L240.50,122.25 L240.70,121.56 L240.90,120.97 L241.10,120.46 L241.30,120.02 L241.50,119.64 L241.70,119.32 L241.90,119.03 L242.10,118.79 L242.30,118.58 L242.50,118.40 L242.70,118.23 L242.90,118.09 L243.10,117.97 L243.30,117.86 L243.50,117.77 L243.70,117.68 L243.90,117.61 L244.10,117.54 L244.30,117.48 L244.80,117.36 L245.30,117.27 L245.80,117.20 L246.30,117.14 L246.80,117.10 L247.30,117.06 L247.80,117.03 L248.30,117.01 L248.80,116.99 L249.30,116.97 L249.80,116.96 L250.30,116.95 L250.80,116.94 L251.30,116.93 L251.80,116.93 L252.30,116.92 L252.80,116.92 L253.30,116.92 L253.80,116.91 L254.30,116.91 L254.80,116.91 L255.30,116.91 L255.80,116.91 L256.30,116.91 L256.80,116.90 L257.30,116.90 L257.80,116.90 L258.30,116.90 L260.30,116.90 L262.30,116.90 L264.30,116.90 L266.30,116.90 L268.30,116.90 L270.30,116.90 L272.30,116.90 L274.30,116.90 L276.30,116.90 L278.30,116.90 L280.30,116.90" fill="none" stroke="#000" stroke-width="0.8" />
<path d="M238.30,152.59 L238.50,148.90 L238.70,145.62 L238.90,142.69 L239.10,140.07 L239.30,137.74 L239.50,135.65 L239.70,133.79 L239.90,132.12 L240.10,130.63 L240.30,129.30 L240.50,128.11 L240.70,127.04 L240.90,126.08 L241.10,125.22 L241.30,124.45 L241.50,123.76 L241.70,123.14 L241.90,122.58 L242.10,122.08 L242.30,121.62 L242.50,121.21 L242.70,120.85 L242.90,120.51 L243.10,120.21 L243.30,119.94 L243.50,119.69 L243.70,119.47 L243.90,119.27 L244.10,119.08 L244.30,118.91 L244.80,118.56 L245.30,118.27 L245.80,118.05 L246.30,117.86 L246.80,117.71 L247.30,117.59 L247.80,117.49 L248.30,117.41 L248.80,117.33 L249.30,117.27 L249.80,117.22 L250.30,117.18 L250.80,117.15 L251.30,117.11 L251.80,117.09 L252.30,117.06 L252.80,117.04 L253.30,117.03 L253.80,117.01 L254.30,117.00 L254.80,116.98 L255.30,116.97 L255.80,116.97 L256.30,116.96 L256.80,116.95 L257.30,116.94 L257.80,116.94 L258.30,116.93 L260.30,116.92 L262.30,116.91 L264.30,116.91 L266.30,116.90 L268.30,116.90 L270.30,116.90 L272.30,116.90 L274.30,116.90 L276.30,116.90 L278.30,116.90 L280.30,116.90" fill="none" stroke="#000" stroke-width="0.8" />
<path d="M238.30,160.06 L238.50,156.64 L238.70,153.50 L238.90,150.62 L239.10,147.98 L239.30,145.55 L239.50,143.33 L239.70,141.29 L239.90,139.42 L240.10,137.70 L240.30,136.12 L240.50,134.67 L240.70,133.34 L240.90,132.11 L241.10,130.99 L241.30,129.95 L241.50,129.00 L241.70,128.12 L241.90,127.31 L242.10,126.57 L242.30,125.88 L242.50,125.25 L242.70,124.67 L242.90,124.13 L243.10,123.64 L243.30,123.18 L243.50,122.76 L243.70,122.37 L243.90,122.01 L244.10,121.67 L244.30,121.36 L244.80,120.69 L245.30,120.13 L245.80,119.66 L246.30,119.27 L246.80,118.95 L247.30,118.67 L247.80,118.44 L248.30,118.25 L248.80,118.08 L249.30,117.94 L249.80,117.81 L250.30,117.71 L250.80,117.62 L251.30,117.54 L251.80,117.47 L252.30,117.41 L252.80,117.35 L253.30,117.31 L253.80,117.26 L254.30,117.23 L254.80,117.20 L255.30,117.17 L255.80,117.14 L256.30,117.12 L256.80,117.10 L257.30,117.08 L257.80,117.06 L258.30,117.04 L260.30,117.00 L262.30,116.97 L264.30,116.94 L266.30,116.93 L268.30,116.92 L270.30,116.91 L272.30,116.91 L274.30,116.91 L276.30,116.90 L278.30,116.90 L280.30,116.90" fill="none" stroke="#000" stroke-width="0.8" />
<path d="M238.30,167.54 L238.50,164.28 L238.70,161.23 L238.90,158.39 L239.10,155.75 L239.30,153.28 L239.50,150.97 L239.70,148.83 L239.90,146.82 L240.10,144.95 L240.30,143.20 L240.50,141.57 L240.70,140.05 L240.90,138.63 L241.10,137.30 L241.30,136.06 L241.50,134.90 L241.70,133.82 L241.90,132.81 L242.10,131.86 L242.30,130.97 L242.50,130.15 L242.70,129.37 L242.90,128.65 L243.10,127.97 L243.30,127.33 L243.50,126.74 L243.70,126.18 L243.90,125.66 L244.10,125.17 L244.30,124.71 L244.80,123.69 L245.30,122.81 L245.80,122.06 L246.30,121.42 L246.80,120.87 L247.30,120.40 L247.80,119.99 L248.30,119.64 L248.80,119.33 L249.30,119.06 L249.80,118.83 L250.30,118.63 L250.80,118.45 L251.30,118.29 L251.80,118.16 L252.30,118.03 L252.80,117.93 L253.30,117.83 L253.80,117.74 L254.30,117.67 L254.80,117.60 L255.30,117.54 L255.80,117.48 L256.30,117.43 L256.80,117.39 L257.30,117.35 L257.80,117.31 L258.30,117.28 L260.30,117.17 L262.30,117.09 L264.30,117.04 L266.30,117.00 L268.30,116.97 L270.30,116.95 L272.30,116.94 L274.30,116.93 L276.30,116.92 L278.30,116.92 L280.30,116.91" fill="none" stroke="#000" stroke-width="0.8" />
<path d="M238.30,175.02 L238.50,171.87 L238.70,168.89 L238.90,166.08 L239.10,163.44 L239.30,160.94 L239.50,158.59 L239.70,156.36 L239.90,154.27 L240.10,152.29 L240.30,150.42 L240.50,148.66 L240.70,147.00 L240.90,145.43 L241.10,143.94 L241.30,142.54 L241.50,141.22 L241.70,139.97 L241.90,138.79 L242.10,137.68 L242.30,136.63 L242.50,135.63 L242.70,134.69 L242.90,133.80 L243.10,132.96 L243.30,132.17 L243.50,131.42 L243.70,130.70 L243.90,130.03 L244.10,129.40 L244.30,128.79 L244.80,127.42 L245.30,126.23 L245.80,125.19 L246.30,124.27 L246.80,123.47 L247.30,122.77 L247.80,122.15 L248.30,121.61 L248.80,121.13 L249.30,120.71 L249.80,120.34 L250.30,120.01 L250.80,119.71 L251.30,119.45 L251.80,119.22 L252.30,119.01 L252.80,118.82 L253.30,118.66 L253.80,118.51 L254.30,118.37 L254.80,118.25 L255.30,118.14 L255.80,118.04 L256.30,117.95 L256.80,117.87 L257.30,117.80 L257.80,117.73 L258.30,117.67 L260.30,117.47 L262.30,117.32 L264.30,117.22 L266.30,117.14 L268.30,117.09 L270.30,117.04 L272.30,117.01 L274.30,116.98 L276.30,116.96 L278.30,116.95 L280.30,116.94" fill="none" stroke="#000" stroke-width="0.8" />
<path d="M238.30,182.50 L238.50,179.42 L238.70,176.50 L238.90,173.72 L239.10,171.08 L239.30,168.56 L239.50,166.17 L239.70,163.90 L239.90,161.74 L240.10,159.68 L240.30,157.72 L240.50,155.86 L240.70,154.09 L240.90,152.40 L241.10,150.80 L241.30,149.27 L241.50,147.82 L241.70,146.43 L241.90,145.12 L242.10,143.86 L242.30,142.67 L242.50,141.53 L242.70,140.45 L242.90,139.42 L243.10,138.44 L243.30,137.50 L243.50,136.61 L243.70,135.76 L243.90,134.96 L244.10,134.18 L244.30,133.45 L244.80,131.76 L245.30,130.26 L245.80,128.92 L246.30,127.74 L246.80,126.68 L247.30,125.74 L247.80,124.90 L248.30,124.15 L248.80,123.48 L249.30,122.88 L249.80,122.35 L250.30,121.86 L250.80,121.43 L251.30,121.04 L251.80,120.69 L252.30,120.38 L252.80,120.09 L253.30,119.84 L253.80,119.60 L254.30,119.39 L254.80,119.20 L255.30,119.02 L255.80,118.87 L256.30,118.72 L256.80,118.59 L257.30,118.47 L257.80,118.36 L258.30,118.26 L260.30,117.92 L262.30,117.68 L264.30,117.51 L266.30,117.37 L268.30,117.27 L270.30,117.19 L272.30,117.13 L274.30,117.08 L276.30,117.05 L278.30,117.02 L280.30,116.99" fill="none" stroke="#000" stroke-width="0.8" />
<path d="M238.30,116.10 L280.40,116.20 L280.40,117.60 L263.30,117.70 L246.30,118.40 L238.30,118.90 Z" fill="#000"/>
<line x1="239.60" y1="45.40" x2="239.60" y2="72.50" stroke="#3a3a3a" stroke-width="1.05" />
<line x1="237.10" y1="70.50" x2="278.70" y2="70.50" stroke="#3a3a3a" stroke-width="1.05" />
<line x1="237.10" y1="45.40" x2="242.10" y2="45.40" stroke="#3a3a3a" stroke-width="1.05" />
<line x1="278.70" y1="68.20" x2="278.70" y2="72.80" stroke="#3a3a3a" stroke-width="1.05" />
<text x="124.20" y="87.90" font-size="16.5" textLength="26.50" lengthAdjust="spacingAndGlyphs" >WT</text>
<text x="209.00" y="64.00" font-size="12.5" textLength="27.50" lengthAdjust="spacingAndGlyphs" >2 μA</text>
<text x="251.50" y="82.70" font-size="12.5" textLength="16.50" lengthAdjust="spacingAndGlyphs" >1 s</text>
<line x1="27.30" y1="268.30" x2="43.80" y2="268.30" stroke="#000" stroke-width="1.7" />
<line x1="43.30" y1="269.10" x2="43.30" y2="235.10" stroke="#333" stroke-width="0.8" />
<path d="M43.30,268.30 L43.30,268.30 L43.80,266.52 L44.30,264.88 L44.80,263.37 L45.30,261.98 L45.80,260.70 L46.30,259.52 L46.80,258.43 L47.30,257.43 L47.80,256.51 L48.30,255.66 L48.80,254.88 L49.30,254.16 L49.80,253.49 L50.30,252.88 L50.80,252.31 L51.30,251.79 L51.80,251.31 L52.30,250.87 L52.80,250.46 L53.30,250.08 L53.80,249.73 L54.30,249.41 L54.80,249.11 L55.30,248.83 L55.80,248.58 L56.30,248.34 L56.80,248.12 L57.30,247.92 L57.80,247.74 L58.30,247.56 L58.80,247.40 L59.30,247.25 L59.80,247.11 L60.30,246.98 L60.80,246.87 L61.30,246.75 L61.80,246.65 L62.30,246.55 L62.80,246.46 L63.30,246.38 L63.80,246.30 L64.80,246.16 L65.80,246.03 L66.80,245.92 L67.80,245.82 L68.80,245.73 L69.80,245.65 L70.80,245.58 L71.80,245.51 L72.80,245.45 L73.80,245.39 L74.80,245.34 L75.80,245.29 L76.80,245.25 L77.80,245.20 L78.80,245.16 L79.80,245.12 L80.80,245.08 L81.80,245.04 L82.80,245.00 L83.80,244.97 L84.80,244.93 L85.80,244.90 L86.80,244.86 L87.80,244.83 L88.80,244.79 L89.80,244.76 L90.80,244.73 L91.80,244.69 L92.80,244.66 L93.80,244.63 L94.80,244.60 L95.80,244.56 L96.80,244.53 L97.80,244.50 L98.80,244.47 L99.80,244.43 L100.80,244.40 L101.80,244.37 L102.80,244.34 L103.80,244.31 L104.80,244.28 L105.80,244.24 L106.80,244.21 L107.80,244.18 L108.80,244.15 L109.80,244.12 L110.80,244.08 L111.80,244.05 L112.80,244.02 L113.80,243.99 L114.80,243.96 L115.80,243.93 L116.80,243.89 L117.80,243.86 L118.80,243.83 L119.80,243.80 L120.80,243.77 L121.80,243.74 L122.80,243.70 L123.80,243.67 L124.80,243.64 L125.80,243.61 L126.80,243.58 L127.80,243.54 L128.80,243.51 L129.80,243.48 L130.80,243.45 L131.80,243.42 L132.80,243.39 L133.80,243.35 L134.80,243.32 L135.80,243.29 L136.80,243.26 L137.80,243.23 L138.80,243.20 L139.80,243.16 L140.80,243.13 L141.80,243.10 L142.80,243.07 L143.80,243.04 L144.80,243.01 L145.80,242.97 L146.80,242.94 L147.80,242.91 L148.80,242.88 L149.80,242.85 L150.80,242.81 L151.80,242.78 L152.80,242.75 L153.80,242.72 L154.80,242.69 L155.80,242.66 L156.80,242.62 L157.80,242.59 L158.80,242.56 L159.80,242.53 L160.80,242.50 L161.80,242.47 L162.80,242.43 L163.80,242.40 L164.80,242.37 L165.80,242.34 L166.80,242.31 L167.80,242.28 L168.80,242.24 L169.80,242.21 L170.80,242.18 L171.80,242.15 L172.80,242.12 L173.80,242.08 L174.80,242.05 L175.80,242.02 L176.80,241.99 L177.80,241.96 L178.80,241.93 L179.80,241.89 L180.80,241.86 L181.80,241.83 L182.80,241.80 L183.80,241.77 L184.80,241.74 L185.80,241.70 L186.80,241.67 L187.80,241.64 L188.80,241.61 L189.80,241.58 L190.80,241.55 L191.80,241.51 L192.80,241.48 L193.80,241.45 L194.80,241.42 L195.80,241.39 L196.80,241.35 L197.80,241.32 L198.80,241.29 L199.80,241.26 L200.80,241.23 L201.80,241.20 L202.80,241.16 L203.80,241.13 L204.80,241.10 L205.80,241.07 L206.80,241.04 L207.80,241.01 L208.80,240.97 L209.80,240.94 L210.80,240.91 L211.80,240.88 L212.80,240.85 L213.80,240.82 L214.80,240.78 L215.80,240.75 L216.80,240.72 L217.80,240.69 L218.80,240.66 L219.80,240.63 L220.80,240.59 L221.80,240.56 L222.80,240.53 L223.80,240.50 L224.80,240.47 L225.80,240.43 L226.80,240.40 L227.80,240.37 L228.80,240.34 L229.80,240.31 L230.80,240.28 L231.80,240.24 L232.80,240.21 L233.80,240.18 L234.80,240.15 L235.80,240.12 L236.80,240.09 L237.80,240.05 L238.80,240.02" fill="none" stroke="#000" stroke-width="1.15" />
<path d="M43.30,268.30 L43.30,268.30 L43.80,265.80 L44.30,263.58 L44.80,261.63 L45.30,259.90 L45.80,258.38 L46.30,257.03 L46.80,255.84 L47.30,254.79 L47.80,253.86 L48.30,253.04 L48.80,252.31 L49.30,251.67 L49.80,251.10 L50.30,250.59 L50.80,250.15 L51.30,249.75 L51.80,249.40 L52.30,249.09 L52.80,248.82 L53.30,248.57 L53.80,248.35 L54.30,248.16 L54.80,247.99 L55.30,247.83 L55.80,247.69 L56.30,247.57 L56.80,247.46 L57.30,247.36 L57.80,247.27 L58.30,247.19 L58.80,247.12 L59.30,247.06 L59.80,247.00 L60.30,246.94 L60.80,246.89 L61.30,246.85 L61.80,246.81 L62.30,246.77 L62.80,246.74 L63.30,246.70 L63.80,246.67 L64.80,246.62 L65.80,246.57 L66.80,246.52 L67.80,246.48 L68.80,246.45 L69.80,246.41 L70.80,246.38 L71.80,246.35 L72.80,246.32 L73.80,246.29 L74.80,246.26 L75.80,246.23 L76.80,246.20 L77.80,246.17 L78.80,246.14 L79.80,246.12 L80.80,246.09 L81.80,246.06 L82.80,246.03 L83.80,246.01 L84.80,245.98 L85.80,245.95 L86.80,245.93 L87.80,245.90 L88.80,245.87 L89.80,245.84 L90.80,245.82 L91.80,245.79 L92.80,245.76 L93.80,245.74 L94.80,245.71 L95.80,245.68 L96.80,245.65 L97.80,245.63 L98.80,245.60 L99.80,245.57 L100.80,245.55 L101.80,245.52 L102.80,245.49 L103.80,245.47 L104.80,245.44 L105.80,245.41 L106.80,245.38 L107.80,245.36 L108.80,245.33 L109.80,245.30 L110.80,245.28 L111.80,245.25 L112.80,245.22 L113.80,245.20 L114.80,245.17 L115.80,245.14 L116.80,245.11 L117.80,245.09 L118.80,245.06 L119.80,245.03 L120.80,245.01 L121.80,244.98 L122.80,244.95 L123.80,244.93 L124.80,244.90 L125.80,244.87 L126.80,244.84 L127.80,244.82 L128.80,244.79 L129.80,244.76 L130.80,244.74 L131.80,244.71 L132.80,244.68 L133.80,244.66 L134.80,244.63 L135.80,244.60 L136.80,244.57 L137.80,244.55 L138.80,244.52 L139.80,244.49 L140.80,244.47 L141.80,244.44 L142.80,244.41 L143.80,244.39 L144.80,244.36 L145.80,244.33 L146.80,244.30 L147.80,244.28 L148.80,244.25 L149.80,244.22 L150.80,244.20 L151.80,244.17 L152.80,244.14 L153.80,244.12 L154.80,244.09 L155.80,244.06 L156.80,244.03 L157.80,244.01 L158.80,243.98 L159.80,243.95 L160.80,243.93 L161.80,243.90 L162.80,243.87 L163.80,243.84 L164.80,243.82 L165.80,243.79 L166.80,243.76 L167.80,243.74 L168.80,243.71 L169.80,243.68 L170.80,243.66 L171.80,243.63 L172.80,243.60 L173.80,243.57 L174.80,243.55 L175.80,243.52 L176.80,243.49 L177.80,243.47 L178.80,243.44 L179.80,243.41 L180.80,243.39 L181.80,243.36 L182.80,243.33 L183.80,243.30 L184.80,243.28 L185.80,243.25 L186.80,243.22 L187.80,243.20 L188.80,243.17 L189.80,243.14 L190.80,243.12 L191.80,243.09 L192.80,243.06 L193.80,243.03 L194.80,243.01 L195.80,242.98 L196.80,242.95 L197.80,242.93 L198.80,242.90 L199.80,242.87 L200.80,242.85 L201.80,242.82 L202.80,242.79 L203.80,242.76 L204.80,242.74 L205.80,242.71 L206.80,242.68 L207.80,242.66 L208.80,242.63 L209.80,242.60 L210.80,242.58 L211.80,242.55 L212.80,242.52 L213.80,242.49 L214.80,242.47 L215.80,242.44 L216.80,242.41 L217.80,242.39 L218.80,242.36 L219.80,242.33 L220.80,242.31 L221.80,242.28 L222.80,242.25 L223.80,242.22 L224.80,242.20 L225.80,242.17 L226.80,242.14 L227.80,242.12 L228.80,242.09 L229.80,242.06 L230.80,242.04 L231.80,242.01 L232.80,241.98 L233.80,241.95 L234.80,241.93 L235.80,241.90 L236.80,241.87 L237.80,241.85 L238.80,241.82" fill="none" stroke="#000" stroke-width="1.15" />
<path d="M43.30,268.30 L43.30,268.30 L43.80,266.60 L44.30,265.07 L44.80,263.68 L45.30,262.42 L45.80,261.28 L46.30,260.25 L46.80,259.31 L47.30,258.47 L47.80,257.70 L48.30,257.00 L48.80,256.37 L49.30,255.80 L49.80,255.29 L50.30,254.82 L50.80,254.39 L51.30,254.01 L51.80,253.66 L52.30,253.34 L52.80,253.05 L53.30,252.79 L53.80,252.55 L54.30,252.33 L54.80,252.14 L55.30,251.96 L55.80,251.79 L56.30,251.65 L56.80,251.51 L57.30,251.39 L57.80,251.28 L58.30,251.17 L58.80,251.08 L59.30,250.99 L59.80,250.91 L60.30,250.84 L60.80,250.78 L61.30,250.72 L61.80,250.66 L62.30,250.61 L62.80,250.56 L63.30,250.52 L63.80,250.48 L64.80,250.40 L65.80,250.34 L66.80,250.28 L67.80,250.23 L68.80,250.19 L69.80,250.15 L70.80,250.12 L71.80,250.08 L72.80,250.05 L73.80,250.02 L74.80,250.00 L75.80,249.97 L76.80,249.95 L77.80,249.92 L78.80,249.90 L79.80,249.88 L80.80,249.85 L81.80,249.83 L82.80,249.81 L83.80,249.79 L84.80,249.77 L85.80,249.75 L86.80,249.73 L87.80,249.71 L88.80,249.69 L89.80,249.67 L90.80,249.65 L91.80,249.63 L92.80,249.61 L93.80,249.59 L94.80,249.57 L95.80,249.55 L96.80,249.53 L97.80,249.51 L98.80,249.49 L99.80,249.47 L100.80,249.45 L101.80,249.43 L102.80,249.41 L103.80,249.39 L104.80,249.37 L105.80,249.35 L106.80,249.33 L107.80,249.31 L108.80,249.29 L109.80,249.27 L110.80,249.25 L111.80,249.23 L112.80,249.21 L113.80,249.19 L114.80,249.17 L115.80,249.15 L116.80,249.13 L117.80,249.11 L118.80,249.09 L119.80,249.07 L120.80,249.05 L121.80,249.03 L122.80,249.01 L123.80,248.99 L124.80,248.97 L125.80,248.95 L126.80,248.93 L127.80,248.91 L128.80,248.89 L129.80,248.87 L130.80,248.85 L131.80,248.83 L132.80,248.81 L133.80,248.79 L134.80,248.77 L135.80,248.75 L136.80,248.74 L137.80,248.72 L138.80,248.70 L139.80,248.68 L140.80,248.66 L141.80,248.64 L142.80,248.62 L143.80,248.60 L144.80,248.58 L145.80,248.56 L146.80,248.54 L147.80,248.52 L148.80,248.50 L149.80,248.48 L150.80,248.46 L151.80,248.44 L152.80,248.42 L153.80,248.40 L154.80,248.38 L155.80,248.36 L156.80,248.34 L157.80,248.32 L158.80,248.30 L159.80,248.28 L160.80,248.26 L161.80,248.24 L162.80,248.22 L163.80,248.20 L164.80,248.18 L165.80,248.16 L166.80,248.14 L167.80,248.12 L168.80,248.10 L169.80,248.08 L170.80,248.06 L171.80,248.04 L172.80,248.02 L173.80,248.00 L174.80,247.98 L175.80,247.96 L176.80,247.94 L177.80,247.92 L178.80,247.90 L179.80,247.88 L180.80,247.86 L181.80,247.84 L182.80,247.82 L183.80,247.80 L184.80,247.78 L185.80,247.76 L186.80,247.74 L187.80,247.72 L188.80,247.70 L189.80,247.68 L190.80,247.67 L191.80,247.65 L192.80,247.63 L193.80,247.61 L194.80,247.59 L195.80,247.57 L196.80,247.55 L197.80,247.53 L198.80,247.51 L199.80,247.49 L200.80,247.47 L201.80,247.45 L202.80,247.43 L203.80,247.41 L204.80,247.39 L205.80,247.37 L206.80,247.35 L207.80,247.33 L208.80,247.31 L209.80,247.29 L210.80,247.27 L211.80,247.25 L212.80,247.23 L213.80,247.21 L214.80,247.19 L215.80,247.17 L216.80,247.15 L217.80,247.13 L218.80,247.11 L219.80,247.09 L220.80,247.07 L221.80,247.05 L222.80,247.03 L223.80,247.01 L224.80,246.99 L225.80,246.97 L226.80,246.95 L227.80,246.93 L228.80,246.91 L229.80,246.89 L230.80,246.87 L231.80,246.85 L232.80,246.83 L233.80,246.81 L234.80,246.79 L235.80,246.77 L236.80,246.75 L237.80,246.73 L238.80,246.71" fill="none" stroke="#000" stroke-width="1.15" />
<path d="M43.30,268.30 L43.30,268.30 L43.80,267.42 L44.30,266.59 L44.80,265.80 L45.30,265.05 L45.80,264.35 L46.30,263.68 L46.80,263.05 L47.30,262.45 L47.80,261.88 L48.30,261.34 L48.80,260.83 L49.30,260.35 L49.80,259.90 L50.30,259.46 L50.80,259.05 L51.30,258.67 L51.80,258.30 L52.30,257.95 L52.80,257.62 L53.30,257.31 L53.80,257.01 L54.30,256.73 L54.80,256.47 L55.30,256.21 L55.80,255.97 L56.30,255.75 L56.80,255.53 L57.30,255.33 L57.80,255.13 L58.30,254.95 L58.80,254.78 L59.30,254.61 L59.80,254.45 L60.30,254.30 L60.80,254.16 L61.30,254.03 L61.80,253.90 L62.30,253.78 L62.80,253.66 L63.30,253.55 L63.80,253.45 L64.80,253.25 L65.80,253.08 L66.80,252.92 L67.80,252.77 L68.80,252.64 L69.80,252.52 L70.80,252.41 L71.80,252.31 L72.80,252.22 L73.80,252.14 L74.80,252.06 L75.80,251.99 L76.80,251.92 L77.80,251.86 L78.80,251.80 L79.80,251.75 L80.80,251.70 L81.80,251.65 L82.80,251.61 L83.80,251.57 L84.80,251.53 L85.80,251.49 L86.80,251.46 L87.80,251.42 L88.80,251.39 L89.80,251.36 L90.80,251.33 L91.80,251.30 L92.80,251.27 L93.80,251.24 L94.80,251.22 L95.80,251.19 L96.80,251.17 L97.80,251.14 L98.80,251.12 L99.80,251.09 L100.80,251.07 L101.80,251.05 L102.80,251.02 L103.80,251.00 L104.80,250.98 L105.80,250.95 L106.80,250.93 L107.80,250.91 L108.80,250.89 L109.80,250.87 L110.80,250.85 L111.80,250.82 L112.80,250.80 L113.80,250.78 L114.80,250.76 L115.80,250.74 L116.80,250.72 L117.80,250.70 L118.80,250.68 L119.80,250.66 L120.80,250.64 L121.80,250.61 L122.80,250.59 L123.80,250.57 L124.80,250.55 L125.80,250.53 L126.80,250.51 L127.80,250.49 L128.80,250.47 L129.80,250.45 L130.80,250.43 L131.80,250.41 L132.80,250.39 L133.80,250.37 L134.80,250.35 L135.80,250.33 L136.80,250.30 L137.80,250.28 L138.80,250.26 L139.80,250.24 L140.80,250.22 L141.80,250.20 L142.80,250.18 L143.80,250.16 L144.80,250.14 L145.80,250.12 L146.80,250.10 L147.80,250.08 L148.80,250.06 L149.80,250.04 L150.80,250.02 L151.80,250.00 L152.80,249.98 L153.80,249.96 L154.80,249.94 L155.80,249.92 L156.80,249.89 L157.80,249.87 L158.80,249.85 L159.80,249.83 L160.80,249.81 L161.80,249.79 L162.80,249.77 L163.80,249.75 L164.80,249.73 L165.80,249.71 L166.80,249.69 L167.80,249.67 L168.80,249.65 L169.80,249.63 L170.80,249.61 L171.80,249.59 L172.80,249.57 L173.80,249.55 L174.80,249.53 L175.80,249.51 L176.80,249.48 L177.80,249.46 L178.80,249.44 L179.80,249.42 L180.80,249.40 L181.80,249.38 L182.80,249.36 L183.80,249.34 L184.80,249.32 L185.80,249.30 L186.80,249.28 L187.80,249.26 L188.80,249.24 L189.80,249.22 L190.80,249.20 L191.80,249.18 L192.80,249.16 L193.80,249.14 L194.80,249.12 L195.80,249.10 L196.80,249.07 L197.80,249.05 L198.80,249.03 L199.80,249.01 L200.80,248.99 L201.80,248.97 L202.80,248.95 L203.80,248.93 L204.80,248.91 L205.80,248.89 L206.80,248.87 L207.80,248.85 L208.80,248.83 L209.80,248.81 L210.80,248.79 L211.80,248.77 L212.80,248.75 L213.80,248.73 L214.80,248.71 L215.80,248.69 L216.80,248.67 L217.80,248.64 L218.80,248.62 L219.80,248.60 L220.80,248.58 L221.80,248.56 L222.80,248.54 L223.80,248.52 L224.80,248.50 L225.80,248.48 L226.80,248.46 L227.80,248.44 L228.80,248.42 L229.80,248.40 L230.80,248.38 L231.80,248.36 L232.80,248.34 L233.80,248.32 L234.80,248.30 L235.80,248.28 L236.80,248.26 L237.80,248.23 L238.80,248.21" fill="none" stroke="#000" stroke-width="1.15" />
<path d="M43.30,268.30 L43.30,268.30 L43.80,267.32 L44.30,266.41 L44.80,265.56 L45.30,264.77 L45.80,264.03 L46.30,263.34 L46.80,262.70 L47.30,262.11 L47.80,261.55 L48.30,261.03 L48.80,260.55 L49.30,260.10 L49.80,259.68 L50.30,259.29 L50.80,258.93 L51.30,258.59 L51.80,258.27 L52.30,257.98 L52.80,257.70 L53.30,257.44 L53.80,257.21 L54.30,256.98 L54.80,256.77 L55.30,256.58 L55.80,256.40 L56.30,256.23 L56.80,256.07 L57.30,255.92 L57.80,255.78 L58.30,255.66 L58.80,255.53 L59.30,255.42 L59.80,255.32 L60.30,255.22 L60.80,255.13 L61.30,255.04 L61.80,254.96 L62.30,254.88 L62.80,254.81 L63.30,254.75 L63.80,254.68 L64.80,254.57 L65.80,254.47 L66.80,254.38 L67.80,254.31 L68.80,254.24 L69.80,254.17 L70.80,254.12 L71.80,254.07 L72.80,254.02 L73.80,253.98 L74.80,253.95 L75.80,253.91 L76.80,253.88 L77.80,253.85 L78.80,253.83 L79.80,253.80 L80.80,253.78 L81.80,253.76 L82.80,253.74 L83.80,253.72 L84.80,253.70 L85.80,253.68 L86.80,253.67 L87.80,253.65 L88.80,253.63 L89.80,253.62 L90.80,253.60 L91.80,253.59 L92.80,253.57 L93.80,253.56 L94.80,253.55 L95.80,253.53 L96.80,253.52 L97.80,253.50 L98.80,253.49 L99.80,253.48 L100.80,253.46 L101.80,253.45 L102.80,253.44 L103.80,253.42 L104.80,253.41 L105.80,253.40 L106.80,253.39 L107.80,253.37 L108.80,253.36 L109.80,253.35 L110.80,253.33 L111.80,253.32 L112.80,253.31 L113.80,253.30 L114.80,253.28 L115.80,253.27 L116.80,253.26 L117.80,253.24 L118.80,253.23 L119.80,253.22 L120.80,253.21 L121.80,253.19 L122.80,253.18 L123.80,253.17 L124.80,253.16 L125.80,253.14 L126.80,253.13 L127.80,253.12 L128.80,253.10 L129.80,253.09 L130.80,253.08 L131.80,253.07 L132.80,253.05 L133.80,253.04 L134.80,253.03 L135.80,253.02 L136.80,253.00 L137.80,252.99 L138.80,252.98 L139.80,252.97 L140.80,252.95 L141.80,252.94 L142.80,252.93 L143.80,252.91 L144.80,252.90 L145.80,252.89 L146.80,252.88 L147.80,252.86 L148.80,252.85 L149.80,252.84 L150.80,252.83 L151.80,252.81 L152.80,252.80 L153.80,252.79 L154.80,252.77 L155.80,252.76 L156.80,252.75 L157.80,252.74 L158.80,252.72 L159.80,252.71 L160.80,252.70 L161.80,252.69 L162.80,252.67 L163.80,252.66 L164.80,252.65 L165.80,252.64 L166.80,252.62 L167.80,252.61 L168.80,252.60 L169.80,252.58 L170.80,252.57 L171.80,252.56 L172.80,252.55 L173.80,252.53 L174.80,252.52 L175.80,252.51 L176.80,252.50 L177.80,252.48 L178.80,252.47 L179.80,252.46 L180.80,252.44 L181.80,252.43 L182.80,252.42 L183.80,252.41 L184.80,252.39 L185.80,252.38 L186.80,252.37 L187.80,252.36 L188.80,252.34 L189.80,252.33 L190.80,252.32 L191.80,252.31 L192.80,252.29 L193.80,252.28 L194.80,252.27 L195.80,252.25 L196.80,252.24 L197.80,252.23 L198.80,252.22 L199.80,252.20 L200.80,252.19 L201.80,252.18 L202.80,252.17 L203.80,252.15 L204.80,252.14 L205.80,252.13 L206.80,252.12 L207.80,252.10 L208.80,252.09 L209.80,252.08 L210.80,252.06 L211.80,252.05 L212.80,252.04 L213.80,252.03 L214.80,252.01 L215.80,252.00 L216.80,251.99 L217.80,251.98 L218.80,251.96 L219.80,251.95 L220.80,251.94 L221.80,251.92 L222.80,251.91 L223.80,251.90 L224.80,251.89 L225.80,251.87 L226.80,251.86 L227.80,251.85 L228.80,251.84 L229.80,251.82 L230.80,251.81 L231.80,251.80 L232.80,251.79 L233.80,251.77 L234.80,251.76 L235.80,251.75 L236.80,251.73 L237.80,251.72 L238.80,251.71" fill="none" stroke="#000" stroke-width="1.15" />
<path d="M43.30,268.30 L43.30,268.30 L43.80,268.10 L44.30,267.90 L44.80,267.70 L45.30,267.50 L45.80,267.31 L46.30,267.12 L46.80,266.93 L47.30,266.75 L47.80,266.56 L48.30,266.38 L48.80,266.21 L49.30,266.03 L49.80,265.86 L50.30,265.69 L50.80,265.52 L51.30,265.36 L51.80,265.19 L52.30,265.03 L52.80,264.88 L53.30,264.72 L53.80,264.57 L54.30,264.41 L54.80,264.26 L55.30,264.12 L55.80,263.97 L56.30,263.83 L56.80,263.68 L57.30,263.54 L57.80,263.41 L58.30,263.27 L58.80,263.14 L59.30,263.00 L59.80,262.87 L60.30,262.74 L60.80,262.62 L61.30,262.49 L61.80,262.37 L62.30,262.25 L62.80,262.13 L63.30,262.01 L63.80,261.89 L64.80,261.66 L65.80,261.44 L66.80,261.22 L67.80,261.01 L68.80,260.81 L69.80,260.61 L70.80,260.41 L71.80,260.23 L72.80,260.04 L73.80,259.86 L74.80,259.69 L75.80,259.52 L76.80,259.36 L77.80,259.19 L78.80,259.04 L79.80,258.89 L80.80,258.74 L81.80,258.60 L82.80,258.46 L83.80,258.32 L84.80,258.19 L85.80,258.06 L86.80,257.93 L87.80,257.81 L88.80,257.69 L89.80,257.57 L90.80,257.46 L91.80,257.35 L92.80,257.24 L93.80,257.14 L94.80,257.04 L95.80,256.94 L96.80,256.84 L97.80,256.75 L98.80,256.66 L99.80,256.57 L100.80,256.48 L101.80,256.39 L102.80,256.31 L103.80,256.23 L104.80,256.15 L105.80,256.08 L106.80,256.00 L107.80,255.93 L108.80,255.86 L109.80,255.79 L110.80,255.72 L111.80,255.66 L112.80,255.59 L113.80,255.53 L114.80,255.47 L115.80,255.41 L116.80,255.35 L117.80,255.30 L118.80,255.24 L119.80,255.19 L120.80,255.13 L121.80,255.08 L122.80,255.03 L123.80,254.98 L124.80,254.94 L125.80,254.89 L126.80,254.84 L127.80,254.80 L128.80,254.76 L129.80,254.71 L130.80,254.67 L131.80,254.63 L132.80,254.59 L133.80,254.55 L134.80,254.51 L135.80,254.48 L136.80,254.44 L137.80,254.41 L138.80,254.37 L139.80,254.34 L140.80,254.30 L141.80,254.27 L142.80,254.24 L143.80,254.21 L144.80,254.18 L145.80,254.15 L146.80,254.12 L147.80,254.09 L148.80,254.06 L149.80,254.04 L150.80,254.01 L151.80,253.98 L152.80,253.96 L153.80,253.93 L154.80,253.91 L155.80,253.88 L156.80,253.86 L157.80,253.83 L158.80,253.81 L159.80,253.79 L160.80,253.77 L161.80,253.74 L162.80,253.72 L163.80,253.70 L164.80,253.68 L165.80,253.66 L166.80,253.64 L167.80,253.62 L168.80,253.60 L169.80,253.58 L170.80,253.57 L171.80,253.55 L172.80,253.53 L173.80,253.51 L174.80,253.49 L175.80,253.48 L176.80,253.46 L177.80,253.44 L178.80,253.43 L179.80,253.41 L180.80,253.39 L181.80,253.38 L182.80,253.36 L183.80,253.35 L184.80,253.33 L185.80,253.32 L186.80,253.30 L187.80,253.29 L188.80,253.27 L189.80,253.26 L190.80,253.24 L191.80,253.23 L192.80,253.22 L193.80,253.20 L194.80,253.19 L195.80,253.18 L196.80,253.16 L197.80,253.15 L198.80,253.14 L199.80,253.13 L200.80,253.11 L201.80,253.10 L202.80,253.09 L203.80,253.08 L204.80,253.06 L205.80,253.05 L206.80,253.04 L207.80,253.03 L208.80,253.02 L209.80,253.01 L210.80,252.99 L211.80,252.98 L212.80,252.97 L213.80,252.96 L214.80,252.95 L215.80,252.94 L216.80,252.93 L217.80,252.92 L218.80,252.91 L219.80,252.90 L220.80,252.89 L221.80,252.88 L222.80,252.86 L223.80,252.85 L224.80,252.84 L225.80,252.83 L226.80,252.82 L227.80,252.81 L228.80,252.80 L229.80,252.79 L230.80,252.78 L231.80,252.77 L232.80,252.76 L233.80,252.75 L234.80,252.74 L235.80,252.74 L236.80,252.73 L237.80,252.72 L238.80,252.71" fill="none" stroke="#000" stroke-width="1.15" />
<path d="M43.30,268.30 L43.30,268.30 L43.80,268.21 L44.30,268.12 L44.80,268.04 L45.30,267.95 L45.80,267.86 L46.30,267.78 L46.80,267.69 L47.30,267.61 L47.80,267.53 L48.30,267.44 L48.80,267.36 L49.30,267.28 L49.80,267.20 L50.30,267.12 L50.80,267.04 L51.30,266.96 L51.80,266.89 L52.30,266.81 L52.80,266.73 L53.30,266.66 L53.80,266.58 L54.30,266.51 L54.80,266.43 L55.30,266.36 L55.80,266.29 L56.30,266.21 L56.80,266.14 L57.30,266.07 L57.80,266.00 L58.30,265.93 L58.80,265.86 L59.30,265.79 L59.80,265.73 L60.30,265.66 L60.80,265.59 L61.30,265.52 L61.80,265.46 L62.30,265.39 L62.80,265.33 L63.30,265.26 L63.80,265.20 L64.80,265.08 L65.80,264.95 L66.80,264.83 L67.80,264.71 L68.80,264.59 L69.80,264.48 L70.80,264.36 L71.80,264.25 L72.80,264.14 L73.80,264.03 L74.80,263.93 L75.80,263.82 L76.80,263.72 L77.80,263.62 L78.80,263.52 L79.80,263.42 L80.80,263.32 L81.80,263.23 L82.80,263.14 L83.80,263.04 L84.80,262.95 L85.80,262.87 L86.80,262.78 L87.80,262.69 L88.80,262.61 L89.80,262.53 L90.80,262.44 L91.80,262.36 L92.80,262.29 L93.80,262.21 L94.80,262.13 L95.80,262.06 L96.80,261.98 L97.80,261.91 L98.80,261.84 L99.80,261.77 L100.80,261.70 L101.80,261.63 L102.80,261.56 L103.80,261.50 L104.80,261.43 L105.80,261.37 L106.80,261.31 L107.80,261.25 L108.80,261.19 L109.80,261.13 L110.80,261.07 L111.80,261.01 L112.80,260.96 L113.80,260.90 L114.80,260.84 L115.80,260.79 L116.80,260.74 L117.80,260.69 L118.80,260.64 L119.80,260.58 L120.80,260.54 L121.80,260.49 L122.80,260.44 L123.80,260.39 L124.80,260.35 L125.80,260.30 L126.80,260.26 L127.80,260.21 L128.80,260.17 L129.80,260.13 L130.80,260.08 L131.80,260.04 L132.80,260.00 L133.80,259.96 L134.80,259.92 L135.80,259.88 L136.80,259.85 L137.80,259.81 L138.80,259.77 L139.80,259.74 L140.80,259.70 L141.80,259.67 L142.80,259.63 L143.80,259.60 L144.80,259.57 L145.80,259.53 L146.80,259.50 L147.80,259.47 L148.80,259.44 L149.80,259.41 L150.80,259.38 L151.80,259.35 L152.80,259.32 L153.80,259.29 L154.80,259.26 L155.80,259.24 L156.80,259.21 L157.80,259.18 L158.80,259.15 L159.80,259.13 L160.80,259.10 L161.80,259.08 L162.80,259.05 L163.80,259.03 L164.80,259.01 L165.80,258.98 L166.80,258.96 L167.80,258.94 L168.80,258.92 L169.80,258.89 L170.80,258.87 L171.80,258.85 L172.80,258.83 L173.80,258.81 L174.80,258.79 L175.80,258.77 L176.80,258.75 L177.80,258.73 L178.80,258.71 L179.80,258.69 L180.80,258.68 L181.80,258.66 L182.80,258.64 L183.80,258.62 L184.80,258.61 L185.80,258.59 L186.80,258.57 L187.80,258.56 L188.80,258.54 L189.80,258.52 L190.80,258.51 L191.80,258.49 L192.80,258.48 L193.80,258.46 L194.80,258.45 L195.80,258.44 L196.80,258.42 L197.80,258.41 L198.80,258.39 L199.80,258.38 L200.80,258.37 L201.80,258.36 L202.80,258.34 L203.80,258.33 L204.80,258.32 L205.80,258.31 L206.80,258.29 L207.80,258.28 L208.80,258.27 L209.80,258.26 L210.80,258.25 L211.80,258.24 L212.80,258.23 L213.80,258.22 L214.80,258.21 L215.80,258.20 L216.80,258.19 L217.80,258.18 L218.80,258.17 L219.80,258.16 L220.80,258.15 L221.80,258.14 L222.80,258.13 L223.80,258.12 L224.80,258.11 L225.80,258.10 L226.80,258.10 L227.80,258.09 L228.80,258.08 L229.80,258.07 L230.80,258.06 L231.80,258.06 L232.80,258.05 L233.80,258.04 L234.80,258.03 L235.80,258.03 L236.80,258.02 L237.80,258.01 L238.80,258.00" fill="none" stroke="#000" stroke-width="1.15" />
<path d="M43.30,268.30 L43.30,268.30 L43.80,268.27 L44.30,268.25 L44.80,268.22 L45.30,268.20 L45.80,268.17 L46.30,268.15 L46.80,268.12 L47.30,268.10 L47.80,268.07 L48.30,268.05 L48.80,268.02 L49.30,268.00 L49.80,267.98 L50.30,267.95 L50.80,267.93 L51.30,267.90 L51.80,267.88 L52.30,267.86 L52.80,267.83 L53.30,267.81 L53.80,267.79 L54.30,267.77 L54.80,267.74 L55.30,267.72 L55.80,267.70 L56.30,267.68 L56.80,267.65 L57.30,267.63 L57.80,267.61 L58.30,267.59 L58.80,267.57 L59.30,267.55 L59.80,267.53 L60.30,267.50 L60.80,267.48 L61.30,267.46 L61.80,267.44 L62.30,267.42 L62.80,267.40 L63.30,267.38 L63.80,267.36 L64.80,267.32 L65.80,267.28 L66.80,267.24 L67.80,267.20 L68.80,267.17 L69.80,267.13 L70.80,267.09 L71.80,267.05 L72.80,267.02 L73.80,266.98 L74.80,266.95 L75.80,266.91 L76.80,266.88 L77.80,266.84 L78.80,266.81 L79.80,266.78 L80.80,266.74 L81.80,266.71 L82.80,266.68 L83.80,266.65 L84.80,266.62 L85.80,266.59 L86.80,266.56 L87.80,266.53 L88.80,266.50 L89.80,266.47 L90.80,266.44 L91.80,266.41 L92.80,266.38 L93.80,266.35 L94.80,266.33 L95.80,266.30 L96.80,266.27 L97.80,266.25 L98.80,266.22 L99.80,266.19 L100.80,266.17 L101.80,266.14 L102.80,266.12 L103.80,266.09 L104.80,266.07 L105.80,266.05 L106.80,266.02 L107.80,266.00 L108.80,265.98 L109.80,265.95 L110.80,265.93 L111.80,265.91 L112.80,265.89 L113.80,265.86 L114.80,265.84 L115.80,265.82 L116.80,265.80 L117.80,265.78 L118.80,265.76 L119.80,265.74 L120.80,265.72 L121.80,265.70 L122.80,265.68 L123.80,265.66 L124.80,265.64 L125.80,265.62 L126.80,265.61 L127.80,265.59 L128.80,265.57 L129.80,265.55 L130.80,265.53 L131.80,265.52 L132.80,265.50 L133.80,265.48 L134.80,265.47 L135.80,265.45 L136.80,265.43 L137.80,265.42 L138.80,265.40 L139.80,265.39 L140.80,265.37 L141.80,265.36 L142.80,265.34 L143.80,265.33 L144.80,265.31 L145.80,265.30 L146.80,265.28 L147.80,265.27 L148.80,265.25 L149.80,265.24 L150.80,265.23 L151.80,265.21 L152.80,265.20 L153.80,265.19 L154.80,265.17 L155.80,265.16 L156.80,265.15 L157.80,265.14 L158.80,265.12 L159.80,265.11 L160.80,265.10 L161.80,265.09 L162.80,265.08 L163.80,265.06 L164.80,265.05 L165.80,265.04 L166.80,265.03 L167.80,265.02 L168.80,265.01 L169.80,265.00 L170.80,264.99 L171.80,264.98 L172.80,264.97 L173.80,264.96 L174.80,264.95 L175.80,264.94 L176.80,264.93 L177.80,264.92 L178.80,264.91 L179.80,264.90 L180.80,264.89 L181.80,264.88 L182.80,264.87 L183.80,264.86 L184.80,264.85 L185.80,264.84 L186.80,264.83 L187.80,264.83 L188.80,264.82 L189.80,264.81 L190.80,264.80 L191.80,264.79 L192.80,264.78 L193.80,264.78 L194.80,264.77 L195.80,264.76 L196.80,264.75 L197.80,264.74 L198.80,264.74 L199.80,264.73 L200.80,264.72 L201.80,264.72 L202.80,264.71 L203.80,264.70 L204.80,264.69 L205.80,264.69 L206.80,264.68 L207.80,264.67 L208.80,264.67 L209.80,264.66 L210.80,264.65 L211.80,264.65 L212.80,264.64 L213.80,264.64 L214.80,264.63 L215.80,264.62 L216.80,264.62 L217.80,264.61 L218.80,264.61 L219.80,264.60 L220.80,264.59 L221.80,264.59 L222.80,264.58 L223.80,264.58 L224.80,264.57 L225.80,264.57 L226.80,264.56 L227.80,264.56 L228.80,264.55 L229.80,264.55 L230.80,264.54 L231.80,264.54 L232.80,264.53 L233.80,264.53 L234.80,264.52 L235.80,264.52 L236.80,264.51 L237.80,264.51 L238.80,264.50" fill="none" stroke="#000" stroke-width="1.15" />
<path d="M43.30,268.30 L43.30,268.30 L43.80,268.25 L44.30,268.20 L44.80,268.15 L45.30,268.10 L45.80,268.05 L46.30,268.01 L46.80,267.96 L47.30,267.92 L47.80,267.88 L48.30,267.84 L48.80,267.80 L49.30,267.76 L49.80,267.72 L50.30,267.68 L50.80,267.64 L51.30,267.61 L51.80,267.57 L52.30,267.54 L52.80,267.51 L53.30,267.47 L53.80,267.44 L54.30,267.41 L54.80,267.38 L55.30,267.35 L55.80,267.32 L56.30,267.30 L56.80,267.27 L57.30,267.24 L57.80,267.22 L58.30,267.19 L58.80,267.17 L59.30,267.14 L59.80,267.12 L60.30,267.09 L60.80,267.07 L61.30,267.05 L61.80,267.03 L62.30,267.01 L62.80,266.99 L63.30,266.97 L63.80,266.95 L64.80,266.91 L65.80,266.88 L66.80,266.84 L67.80,266.81 L68.80,266.78 L69.80,266.75 L70.80,266.72 L71.80,266.69 L72.80,266.67 L73.80,266.64 L74.80,266.62 L75.80,266.60 L76.80,266.58 L77.80,266.56 L78.80,266.54 L79.80,266.52 L80.80,266.50 L81.80,266.49 L82.80,266.47 L83.80,266.46 L84.80,266.44 L85.80,266.43 L86.80,266.41 L87.80,266.40 L88.80,266.39 L89.80,266.38 L90.80,266.37 L91.80,266.36 L92.80,266.35 L93.80,266.34 L94.80,266.33 L95.80,266.32 L96.80,266.31 L97.80,266.30 L98.80,266.29 L99.80,266.29 L100.80,266.28 L101.80,266.27 L102.80,266.27 L103.80,266.26 L104.80,266.25 L105.80,266.25 L106.80,266.24 L107.80,266.24 L108.80,266.23 L109.80,266.23 L110.80,266.22 L111.80,266.22 L112.80,266.21 L113.80,266.21 L114.80,266.20 L115.80,266.20 L116.80,266.20 L117.80,266.19 L118.80,266.19 L119.80,266.19 L120.80,266.18 L121.80,266.18 L122.80,266.18 L123.80,266.17 L124.80,266.17 L125.80,266.17 L126.80,266.16 L127.80,266.16 L128.80,266.16 L129.80,266.16 L130.80,266.15 L131.80,266.15 L132.80,266.15 L133.80,266.15 L134.80,266.14 L135.80,266.14 L136.80,266.14 L137.80,266.14 L138.80,266.14 L139.80,266.13 L140.80,266.13 L141.80,266.13 L142.80,266.13 L143.80,266.13 L144.80,266.12 L145.80,266.12 L146.80,266.12 L147.80,266.12 L148.80,266.12 L149.80,266.12 L150.80,266.11 L151.80,266.11 L152.80,266.11 L153.80,266.11 L154.80,266.11 L155.80,266.11 L156.80,266.10 L157.80,266.10 L158.80,266.10 L159.80,266.10 L160.80,266.10 L161.80,266.10 L162.80,266.10 L163.80,266.09 L164.80,266.09 L165.80,266.09 L166.80,266.09 L167.80,266.09 L168.80,266.09 L169.80,266.09 L170.80,266.08 L171.80,266.08 L172.80,266.08 L173.80,266.08 L174.80,266.08 L175.80,266.08 L176.80,266.08 L177.80,266.07 L178.80,266.07 L179.80,266.07 L180.80,266.07 L181.80,266.07 L182.80,266.07 L183.80,266.07 L184.80,266.07 L185.80,266.06 L186.80,266.06 L187.80,266.06 L188.80,266.06 L189.80,266.06 L190.80,266.06 L191.80,266.06 L192.80,266.06 L193.80,266.05 L194.80,266.05 L195.80,266.05 L196.80,266.05 L197.80,266.05 L198.80,266.05 L199.80,266.05 L200.80,266.05 L201.80,266.04 L202.80,266.04 L203.80,266.04 L204.80,266.04 L205.80,266.04 L206.80,266.04 L207.80,266.04 L208.80,266.04 L209.80,266.04 L210.80,266.03 L211.80,266.03 L212.80,266.03 L213.80,266.03 L214.80,266.03 L215.80,266.03 L216.80,266.03 L217.80,266.03 L218.80,266.02 L219.80,266.02 L220.80,266.02 L221.80,266.02 L222.80,266.02 L223.80,266.02 L224.80,266.02 L225.80,266.02 L226.80,266.01 L227.80,266.01 L228.80,266.01 L229.80,266.01 L230.80,266.01 L231.80,266.01 L232.80,266.01 L233.80,266.01 L234.80,266.01 L235.80,266.00 L236.80,266.00 L237.80,266.00 L238.80,266.00" fill="none" stroke="#000" stroke-width="1.15" />
<path d="M43.30,268.30 L43.30,268.30 L43.80,268.29 L44.30,268.29 L44.80,268.28 L45.30,268.27 L45.80,268.27 L46.30,268.26 L46.80,268.26 L47.30,268.25 L47.80,268.24 L48.30,268.24 L48.80,268.23 L49.30,268.23 L49.80,268.22 L50.30,268.22 L50.80,268.21 L51.30,268.21 L51.80,268.21 L52.30,268.20 L52.80,268.20 L53.30,268.19 L53.80,268.19 L54.30,268.18 L54.80,268.18 L55.30,268.18 L55.80,268.17 L56.30,268.17 L56.80,268.17 L57.30,268.16 L57.80,268.16 L58.30,268.16 L58.80,268.15 L59.30,268.15 L59.80,268.15 L60.30,268.14 L60.80,268.14 L61.30,268.14 L61.80,268.13 L62.30,268.13 L62.80,268.13 L63.30,268.13 L63.80,268.12 L64.80,268.12 L65.80,268.11 L66.80,268.11 L67.80,268.11 L68.80,268.10 L69.80,268.10 L70.80,268.09 L71.80,268.09 L72.80,268.09 L73.80,268.08 L74.80,268.08 L75.80,268.08 L76.80,268.08 L77.80,268.07 L78.80,268.07 L79.80,268.07 L80.80,268.07 L81.80,268.06 L82.80,268.06 L83.80,268.06 L84.80,268.06 L85.80,268.06 L86.80,268.05 L87.80,268.05 L88.80,268.05 L89.80,268.05 L90.80,268.05 L91.80,268.05 L92.80,268.05 L93.80,268.04 L94.80,268.04 L95.80,268.04 L96.80,268.04 L97.80,268.04 L98.80,268.04 L99.80,268.04 L100.80,268.04 L101.80,268.04 L102.80,268.03 L103.80,268.03 L104.80,268.03 L105.80,268.03 L106.80,268.03 L107.80,268.03 L108.80,268.03 L109.80,268.03 L110.80,268.03 L111.80,268.03 L112.80,268.03 L113.80,268.03 L114.80,268.03 L115.80,268.03 L116.80,268.03 L117.80,268.03 L118.80,268.02 L119.80,268.02 L120.80,268.02 L121.80,268.02 L122.80,268.02 L123.80,268.02 L124.80,268.02 L125.80,268.02 L126.80,268.02 L127.80,268.02 L128.80,268.02 L129.80,268.02 L130.80,268.02 L131.80,268.02 L132.80,268.02 L133.80,268.02 L134.80,268.02 L135.80,268.02 L136.80,268.02 L137.80,268.02 L138.80,268.02 L139.80,268.02 L140.80,268.02 L141.80,268.02 L142.80,268.02 L143.80,268.02 L144.80,268.02 L145.80,268.02 L146.80,268.02 L147.80,268.02 L148.80,268.02 L149.80,268.02 L150.80,268.01 L151.80,268.01 L152.80,268.01 L153.80,268.01 L154.80,268.01 L155.80,268.01 L156.80,268.01 L157.80,268.01 L158.80,268.01 L159.80,268.01 L160.80,268.01 L161.80,268.01 L162.80,268.01 L163.80,268.01 L164.80,268.01 L165.80,268.01 L166.80,268.01 L167.80,268.01 L168.80,268.01 L169.80,268.01 L170.80,268.01 L171.80,268.01 L172.80,268.01 L173.80,268.01 L174.80,268.01 L175.80,268.01 L176.80,268.01 L177.80,268.01 L178.80,268.01 L179.80,268.01 L180.80,268.01 L181.80,268.01 L182.80,268.01 L183.80,268.01 L184.80,268.01 L185.80,268.01 L186.80,268.01 L187.80,268.01 L188.80,268.01 L189.80,268.01 L190.80,268.01 L191.80,268.01 L192.80,268.01 L193.80,268.01 L194.80,268.01 L195.80,268.01 L196.80,268.01 L197.80,268.01 L198.80,268.01 L199.80,268.01 L200.80,268.01 L201.80,268.01 L202.80,268.01 L203.80,268.01 L204.80,268.01 L205.80,268.01 L206.80,268.01 L207.80,268.00 L208.80,268.00 L209.80,268.00 L210.80,268.00 L211.80,268.00 L212.80,268.00 L213.80,268.00 L214.80,268.00 L215.80,268.00 L216.80,268.00 L217.80,268.00 L218.80,268.00 L219.80,268.00 L220.80,268.00 L221.80,268.00 L222.80,268.00 L223.80,268.00 L224.80,268.00 L225.80,268.00 L226.80,268.00 L227.80,268.00 L228.80,268.00 L229.80,268.00 L230.80,268.00 L231.80,268.00 L232.80,268.00 L233.80,268.00 L234.80,268.00 L235.80,268.00 L236.80,268.00 L237.80,268.00 L238.80,268.00" fill="none" stroke="#000" stroke-width="1.15" />
<line x1="239.50" y1="240.00" x2="239.50" y2="339.00" stroke="#444" stroke-width="0.7" />
<path d="M239.50,299.04 L239.70,293.16 L239.90,288.54 L240.10,284.90 L240.30,282.03 L240.50,279.75 L240.70,277.94 L240.90,276.50 L241.10,275.33 L241.30,274.39 L241.50,273.63 L241.70,273.01 L241.90,272.49 L242.10,272.06 L242.30,271.70 L242.50,271.40 L242.70,271.14 L242.90,270.92 L243.10,270.73 L243.30,270.56 L243.50,270.41 L243.70,270.28 L243.90,270.17 L244.10,270.06 L244.30,269.97 L244.50,269.89 L244.70,269.81 L244.90,269.74 L245.10,269.68 L245.30,269.62 L245.50,269.56 L246.00,269.45 L246.50,269.35 L247.00,269.28 L247.50,269.21 L248.00,269.16 L248.50,269.12 L249.00,269.08 L249.50,269.05 L250.00,269.02 L250.50,269.00 L251.00,268.99 L251.50,268.97 L252.00,268.96 L252.50,268.95 L253.00,268.94 L253.50,268.93 L254.00,268.93 L254.50,268.92 L255.00,268.92 L255.50,268.92 L256.00,268.91 L256.50,268.91 L257.00,268.91 L257.50,268.91 L258.00,268.91 L258.50,268.91 L259.00,268.90 L259.50,268.90 L261.50,268.90 L263.50,268.90 L265.50,268.90 L267.50,268.90 L269.50,268.90 L271.50,268.90 L273.50,268.90 L275.50,268.90 L277.50,268.90 L279.50,268.90 L281.50,268.90 L283.50,268.90 L285.50,268.90 L287.50,268.90 L289.50,268.90 L291.50,268.90 L293.50,268.90 L295.50,268.90 L297.50,268.90" fill="none" stroke="#000" stroke-width="0.8" />
<path d="M239.50,307.03 L239.70,301.77 L239.90,297.30 L240.10,293.51 L240.30,290.29 L240.50,287.55 L240.70,285.22 L240.90,283.23 L241.10,281.53 L241.30,280.07 L241.50,278.81 L241.70,277.73 L241.90,276.80 L242.10,276.00 L242.30,275.30 L242.50,274.69 L242.70,274.16 L242.90,273.69 L243.10,273.28 L243.30,272.92 L243.50,272.60 L243.70,272.32 L243.90,272.06 L244.10,271.83 L244.30,271.63 L244.50,271.44 L244.70,271.28 L244.90,271.12 L245.10,270.98 L245.30,270.85 L245.50,270.74 L246.00,270.48 L246.50,270.27 L247.00,270.09 L247.50,269.94 L248.00,269.81 L248.50,269.70 L249.00,269.60 L249.50,269.52 L250.00,269.44 L250.50,269.38 L251.00,269.32 L251.50,269.27 L252.00,269.23 L252.50,269.19 L253.00,269.15 L253.50,269.12 L254.00,269.10 L254.50,269.07 L255.00,269.05 L255.50,269.03 L256.00,269.02 L256.50,269.00 L257.00,268.99 L257.50,268.98 L258.00,268.97 L258.50,268.96 L259.00,268.96 L259.50,268.95 L261.50,268.93 L263.50,268.92 L265.50,268.91 L267.50,268.91 L269.50,268.90 L271.50,268.90 L273.50,268.90 L275.50,268.90 L277.50,268.90 L279.50,268.90 L281.50,268.90 L283.50,268.90 L285.50,268.90 L287.50,268.90 L289.50,268.90 L291.50,268.90 L293.50,268.90 L295.50,268.90 L297.50,268.90" fill="none" stroke="#000" stroke-width="0.8" />
<path d="M239.50,315.03 L239.70,310.10 L239.90,305.75 L240.10,301.91 L240.30,298.52 L240.50,295.53 L240.70,292.88 L240.90,290.54 L241.10,288.46 L241.30,286.62 L241.50,284.98 L241.70,283.53 L241.90,282.24 L242.10,281.09 L242.30,280.06 L242.50,279.14 L242.70,278.32 L242.90,277.58 L243.10,276.92 L243.30,276.32 L243.50,275.79 L243.70,275.30 L243.90,274.87 L244.10,274.47 L244.30,274.11 L244.50,273.78 L244.70,273.48 L244.90,273.21 L245.10,272.96 L245.30,272.73 L245.50,272.51 L246.00,272.05 L246.50,271.67 L247.00,271.35 L247.50,271.08 L248.00,270.84 L248.50,270.64 L249.00,270.46 L249.50,270.31 L250.00,270.17 L250.50,270.05 L251.00,269.94 L251.50,269.84 L252.00,269.75 L252.50,269.67 L253.00,269.60 L253.50,269.53 L254.00,269.48 L254.50,269.42 L255.00,269.37 L255.50,269.33 L256.00,269.29 L256.50,269.26 L257.00,269.22 L257.50,269.19 L258.00,269.17 L258.50,269.14 L259.00,269.12 L259.50,269.10 L261.50,269.04 L263.50,268.99 L265.50,268.96 L267.50,268.94 L269.50,268.93 L271.50,268.92 L273.50,268.91 L275.50,268.91 L277.50,268.91 L279.50,268.90 L281.50,268.90 L283.50,268.90 L285.50,268.90 L287.50,268.90 L289.50,268.90 L291.50,268.90 L293.50,268.90 L295.50,268.90 L297.50,268.90" fill="none" stroke="#000" stroke-width="0.8" />
<path d="M239.50,323.02 L239.70,318.30 L239.90,314.04 L240.10,310.19 L240.30,306.70 L240.50,303.55 L240.70,300.70 L240.90,298.11 L241.10,295.77 L241.30,293.65 L241.50,291.72 L241.70,289.97 L241.90,288.39 L242.10,286.94 L242.30,285.63 L242.50,284.43 L242.70,283.34 L242.90,282.35 L243.10,281.44 L243.30,280.61 L243.50,279.85 L243.70,279.15 L243.90,278.52 L244.10,277.93 L244.30,277.39 L244.50,276.90 L244.70,276.44 L244.90,276.02 L245.10,275.63 L245.30,275.28 L245.50,274.94 L246.00,274.21 L246.50,273.60 L247.00,273.09 L247.50,272.65 L248.00,272.28 L248.50,271.95 L249.00,271.67 L249.50,271.42 L250.00,271.20 L250.50,271.00 L251.00,270.83 L251.50,270.67 L252.00,270.53 L252.50,270.40 L253.00,270.28 L253.50,270.17 L254.00,270.07 L254.50,269.98 L255.00,269.90 L255.50,269.82 L256.00,269.75 L256.50,269.69 L257.00,269.63 L257.50,269.58 L258.00,269.53 L258.50,269.48 L259.00,269.44 L259.50,269.40 L261.50,269.26 L263.50,269.17 L265.50,269.10 L267.50,269.04 L269.50,269.01 L271.50,268.98 L273.50,268.96 L275.50,268.94 L277.50,268.93 L279.50,268.92 L281.50,268.92 L283.50,268.91 L285.50,268.91 L287.50,268.91 L289.50,268.90 L291.50,268.90 L293.50,268.90 L295.50,268.90 L297.50,268.90" fill="none" stroke="#000" stroke-width="0.8" />
<path d="M239.50,331.01 L239.70,326.44 L239.90,322.24 L240.10,318.39 L240.30,314.84 L240.50,311.59 L240.70,308.59 L240.90,305.83 L241.10,303.29 L241.30,300.96 L241.50,298.81 L241.70,296.82 L241.90,295.00 L242.10,293.31 L242.30,291.75 L242.50,290.32 L242.70,288.99 L242.90,287.77 L243.10,286.63 L243.30,285.58 L243.50,284.61 L243.70,283.71 L243.90,282.88 L244.10,282.11 L244.30,281.39 L244.50,280.72 L244.70,280.10 L244.90,279.52 L245.10,278.99 L245.30,278.48 L245.50,278.02 L246.00,276.98 L246.50,276.10 L247.00,275.35 L247.50,274.71 L248.00,274.15 L248.50,273.67 L249.00,273.25 L249.50,272.88 L250.00,272.55 L250.50,272.26 L251.00,272.00 L251.50,271.77 L252.00,271.56 L252.50,271.36 L253.00,271.19 L253.50,271.03 L254.00,270.88 L254.50,270.75 L255.00,270.63 L255.50,270.51 L256.00,270.40 L256.50,270.31 L257.00,270.21 L257.50,270.13 L258.00,270.05 L258.50,269.98 L259.00,269.91 L259.50,269.84 L261.50,269.63 L263.50,269.46 L265.50,269.33 L267.50,269.23 L269.50,269.16 L271.50,269.10 L273.50,269.05 L275.50,269.02 L277.50,268.99 L279.50,268.97 L281.50,268.95 L283.50,268.94 L285.50,268.93 L287.50,268.93 L289.50,268.92 L291.50,268.92 L293.50,268.91 L295.50,268.91 L297.50,268.91" fill="none" stroke="#000" stroke-width="0.8" />
<path d="M239.50,339.00 L239.70,334.54 L239.90,330.39 L240.10,326.54 L240.30,322.95 L240.50,319.62 L240.70,316.52 L240.90,313.63 L241.10,310.94 L241.30,308.44 L241.50,306.11 L241.70,303.94 L241.90,301.92 L242.10,300.03 L242.30,298.27 L242.50,296.63 L242.70,295.10 L242.90,293.68 L243.10,292.34 L243.30,291.10 L243.50,289.93 L243.70,288.84 L243.90,287.82 L244.10,286.87 L244.30,285.98 L244.50,285.14 L244.70,284.36 L244.90,283.62 L245.10,282.93 L245.30,282.29 L245.50,281.68 L246.00,280.31 L246.50,279.14 L247.00,278.13 L247.50,277.25 L248.00,276.49 L248.50,275.82 L249.00,275.23 L249.50,274.71 L250.00,274.25 L250.50,273.85 L251.00,273.48 L251.50,273.15 L252.00,272.85 L252.50,272.58 L253.00,272.34 L253.50,272.12 L254.00,271.91 L254.50,271.72 L255.00,271.55 L255.50,271.39 L256.00,271.24 L256.50,271.10 L257.00,270.97 L257.50,270.85 L258.00,270.74 L258.50,270.64 L259.00,270.54 L259.50,270.44 L261.50,270.13 L263.50,269.88 L265.50,269.68 L267.50,269.53 L269.50,269.40 L271.50,269.30 L273.50,269.22 L275.50,269.16 L277.50,269.11 L279.50,269.06 L281.50,269.03 L283.50,269.01 L285.50,268.98 L287.50,268.97 L289.50,268.95 L291.50,268.94 L293.50,268.93 L295.50,268.93 L297.50,268.92" fill="none" stroke="#000" stroke-width="0.8" />
<path d="M239.50,268.10 L298.70,268.20 L298.70,269.60 L264.50,269.70 L247.50,270.40 L239.50,270.90 Z" fill="#000"/>
<line x1="237.90" y1="196.40" x2="237.90" y2="223.50" stroke="#3a3a3a" stroke-width="1.05" />
<line x1="235.40" y1="221.50" x2="277.70" y2="221.50" stroke="#3a3a3a" stroke-width="1.05" />
<line x1="235.40" y1="196.40" x2="240.40" y2="196.40" stroke="#3a3a3a" stroke-width="1.05" />
<line x1="277.70" y1="219.20" x2="277.70" y2="223.80" stroke="#3a3a3a" stroke-width="1.05" />
<text x="110.00" y="235.00" font-size="16.5" textLength="57.50" lengthAdjust="spacingAndGlyphs" >Y652F2</text>
<text x="207.00" y="215.20" font-size="12.5" textLength="27.00" lengthAdjust="spacingAndGlyphs" >1 μA</text>
<text x="246.50" y="235.50" font-size="12.5" textLength="16.50" lengthAdjust="spacingAndGlyphs" >1 s</text>
<line x1="26.40" y1="424.20" x2="42.10" y2="424.20" stroke="#000" stroke-width="1.7" />
<line x1="41.60" y1="425.00" x2="41.60" y2="402.90" stroke="#333" stroke-width="0.8" />
<path d="M41.60,424.20 L41.60,419.00 L42.10,418.66 L42.60,418.33 L43.10,418.01 L43.60,417.69 L44.10,417.38 L44.60,417.08 L45.10,416.79 L45.60,416.51 L46.10,416.23 L46.60,415.95 L47.10,415.69 L47.60,415.43 L48.10,415.17 L48.60,414.93 L49.10,414.68 L49.60,414.45 L50.10,414.22 L50.60,413.99 L51.10,413.77 L51.60,413.56 L52.10,413.35 L52.60,413.15 L53.10,412.95 L53.60,412.75 L54.10,412.56 L54.60,412.38 L55.10,412.19 L55.60,412.02 L56.10,411.84 L56.60,411.67 L57.10,411.51 L57.60,411.35 L58.10,411.19 L58.60,411.04 L59.10,410.89 L59.60,410.74 L60.10,410.60 L60.60,410.46 L61.10,410.32 L61.60,410.18 L62.10,410.05 L63.10,409.80 L64.10,409.56 L65.10,409.33 L66.10,409.11 L67.10,408.90 L68.10,408.70 L69.10,408.51 L70.10,408.32 L71.10,408.15 L72.10,407.98 L73.10,407.82 L74.10,407.66 L75.10,407.52 L76.10,407.38 L77.10,407.24 L78.10,407.11 L79.10,406.99 L80.10,406.87 L81.10,406.75 L82.10,406.64 L83.10,406.54 L84.10,406.44 L85.10,406.34 L86.10,406.25 L87.10,406.16 L88.10,406.07 L89.10,405.99 L90.10,405.91 L91.10,405.83 L92.10,405.76 L93.10,405.69 L94.10,405.62 L95.10,405.55 L96.10,405.49 L97.10,405.43 L98.10,405.37 L99.10,405.31 L100.10,405.25 L101.10,405.20 L102.10,405.15 L103.10,405.10 L104.10,405.05 L105.10,405.00 L106.10,404.95 L107.10,404.91 L108.10,404.86 L109.10,404.82 L110.10,404.78 L111.10,404.74 L112.10,404.70 L113.10,404.66 L114.10,404.63 L115.10,404.59 L116.10,404.55 L117.10,404.52 L118.10,404.48 L119.10,404.45 L120.10,404.42 L121.10,404.39 L122.10,404.35 L123.10,404.32 L124.10,404.29 L125.10,404.26 L126.10,404.23 L127.10,404.21 L128.10,404.18 L129.10,404.15 L130.10,404.12 L131.10,404.10 L132.10,404.07 L133.10,404.04 L134.10,404.02 L135.10,403.99 L136.10,403.97 L137.10,403.94 L138.10,403.92 L139.10,403.89 L140.10,403.87 L141.10,403.84 L142.10,403.82 L143.10,403.80 L144.10,403.77 L145.10,403.75 L146.10,403.73 L147.10,403.70 L148.10,403.68 L149.10,403.66 L150.10,403.64 L151.10,403.62 L152.10,403.59 L153.10,403.57 L154.10,403.55 L155.10,403.53 L156.10,403.51 L157.10,403.49 L158.10,403.46 L159.10,403.44 L160.10,403.42 L161.10,403.40 L162.10,403.38 L163.10,403.36 L164.10,403.34 L165.10,403.32 L166.10,403.30 L167.10,403.28 L168.10,403.26 L169.10,403.24 L170.10,403.22 L171.10,403.20 L172.10,403.18 L173.10,403.16 L174.10,403.14 L175.10,403.12 L176.10,403.10 L177.10,403.08 L178.10,403.06 L179.10,403.04 L180.10,403.02 L181.10,403.00 L182.10,402.98 L183.10,402.96 L184.10,402.94 L185.10,402.92 L186.10,402.90 L187.10,402.88 L188.10,402.86 L189.10,402.84 L190.10,402.82 L191.10,402.80 L192.10,402.78 L193.10,402.76 L194.10,402.74 L195.10,402.72 L196.10,402.70 L197.10,402.68 L198.10,402.66 L199.10,402.64 L200.10,402.62 L201.10,402.60 L202.10,402.59 L203.10,402.57 L204.10,402.55 L205.10,402.53 L206.10,402.51 L207.10,402.49 L208.10,402.47 L209.10,402.45 L210.10,402.43 L211.10,402.41 L212.10,402.39 L213.10,402.37 L214.10,402.35 L215.10,402.33 L216.10,402.31 L217.10,402.29 L218.10,402.28 L219.10,402.26 L220.10,402.24 L221.10,402.22 L222.10,402.20 L223.10,402.18 L224.10,402.16 L225.10,402.14 L226.10,402.12 L227.10,402.10 L228.10,402.08 L229.10,402.06 L230.10,402.04 L231.10,402.03 L232.10,402.01 L233.10,401.99 L234.10,401.97 L235.10,401.95 L236.10,401.93 L237.10,401.91" fill="none" stroke="#000" stroke-width="0.95" />
<path d="M41.60,424.20 L41.60,419.00 L42.10,418.61 L42.60,418.23 L43.10,417.86 L43.60,417.50 L44.10,417.15 L44.60,416.82 L45.10,416.49 L45.60,416.18 L46.10,415.87 L46.60,415.57 L47.10,415.28 L47.60,415.00 L48.10,414.73 L48.60,414.47 L49.10,414.21 L49.60,413.96 L50.10,413.72 L50.60,413.49 L51.10,413.26 L51.60,413.04 L52.10,412.83 L52.60,412.62 L53.10,412.42 L53.60,412.22 L54.10,412.03 L54.60,411.85 L55.10,411.67 L55.60,411.50 L56.10,411.33 L56.60,411.17 L57.10,411.01 L57.60,410.86 L58.10,410.71 L58.60,410.56 L59.10,410.42 L59.60,410.29 L60.10,410.15 L60.60,410.02 L61.10,409.90 L61.60,409.78 L62.10,409.66 L63.10,409.43 L64.10,409.22 L65.10,409.02 L66.10,408.83 L67.10,408.65 L68.10,408.48 L69.10,408.32 L70.10,408.17 L71.10,408.02 L72.10,407.89 L73.10,407.76 L74.10,407.64 L75.10,407.52 L76.10,407.42 L77.10,407.31 L78.10,407.21 L79.10,407.12 L80.10,407.03 L81.10,406.95 L82.10,406.87 L83.10,406.79 L84.10,406.72 L85.10,406.65 L86.10,406.58 L87.10,406.52 L88.10,406.46 L89.10,406.40 L90.10,406.35 L91.10,406.30 L92.10,406.25 L93.10,406.20 L94.10,406.15 L95.10,406.11 L96.10,406.07 L97.10,406.03 L98.10,405.99 L99.10,405.95 L100.10,405.91 L101.10,405.88 L102.10,405.84 L103.10,405.81 L104.10,405.78 L105.10,405.74 L106.10,405.71 L107.10,405.69 L108.10,405.66 L109.10,405.63 L110.10,405.60 L111.10,405.58 L112.10,405.55 L113.10,405.52 L114.10,405.50 L115.10,405.48 L116.10,405.45 L117.10,405.43 L118.10,405.41 L119.10,405.38 L120.10,405.36 L121.10,405.34 L122.10,405.32 L123.10,405.30 L124.10,405.28 L125.10,405.26 L126.10,405.24 L127.10,405.22 L128.10,405.20 L129.10,405.18 L130.10,405.16 L131.10,405.14 L132.10,405.12 L133.10,405.10 L134.10,405.09 L135.10,405.07 L136.10,405.05 L137.10,405.03 L138.10,405.01 L139.10,405.00 L140.10,404.98 L141.10,404.96 L142.10,404.94 L143.10,404.93 L144.10,404.91 L145.10,404.89 L146.10,404.87 L147.10,404.86 L148.10,404.84 L149.10,404.82 L150.10,404.81 L151.10,404.79 L152.10,404.77 L153.10,404.76 L154.10,404.74 L155.10,404.72 L156.10,404.71 L157.10,404.69 L158.10,404.67 L159.10,404.66 L160.10,404.64 L161.10,404.62 L162.10,404.61 L163.10,404.59 L164.10,404.58 L165.10,404.56 L166.10,404.54 L167.10,404.53 L168.10,404.51 L169.10,404.49 L170.10,404.48 L171.10,404.46 L172.10,404.45 L173.10,404.43 L174.10,404.41 L175.10,404.40 L176.10,404.38 L177.10,404.37 L178.10,404.35 L179.10,404.33 L180.10,404.32 L181.10,404.30 L182.10,404.29 L183.10,404.27 L184.10,404.25 L185.10,404.24 L186.10,404.22 L187.10,404.21 L188.10,404.19 L189.10,404.17 L190.10,404.16 L191.10,404.14 L192.10,404.13 L193.10,404.11 L194.10,404.09 L195.10,404.08 L196.10,404.06 L197.10,404.05 L198.10,404.03 L199.10,404.01 L200.10,404.00 L201.10,403.98 L202.10,403.97 L203.10,403.95 L204.10,403.93 L205.10,403.92 L206.10,403.90 L207.10,403.89 L208.10,403.87 L209.10,403.85 L210.10,403.84 L211.10,403.82 L212.10,403.81 L213.10,403.79 L214.10,403.77 L215.10,403.76 L216.10,403.74 L217.10,403.73 L218.10,403.71 L219.10,403.69 L220.10,403.68 L221.10,403.66 L222.10,403.65 L223.10,403.63 L224.10,403.61 L225.10,403.60 L226.10,403.58 L227.10,403.57 L228.10,403.55 L229.10,403.54 L230.10,403.52 L231.10,403.50 L232.10,403.49 L233.10,403.47 L234.10,403.46 L235.10,403.44 L236.10,403.42 L237.10,403.41" fill="none" stroke="#000" stroke-width="0.95" />
<path d="M41.60,424.20 L41.60,420.00 L42.10,419.72 L42.60,419.44 L43.10,419.17 L43.60,418.91 L44.10,418.65 L44.60,418.40 L45.10,418.16 L45.60,417.92 L46.10,417.69 L46.60,417.47 L47.10,417.25 L47.60,417.04 L48.10,416.84 L48.60,416.64 L49.10,416.44 L49.60,416.25 L50.10,416.07 L50.60,415.89 L51.10,415.71 L51.60,415.54 L52.10,415.37 L52.60,415.21 L53.10,415.05 L53.60,414.90 L54.10,414.75 L54.60,414.61 L55.10,414.46 L55.60,414.33 L56.10,414.19 L56.60,414.06 L57.10,413.93 L57.60,413.81 L58.10,413.69 L58.60,413.57 L59.10,413.46 L59.60,413.34 L60.10,413.24 L60.60,413.13 L61.10,413.03 L61.60,412.93 L62.10,412.83 L63.10,412.64 L64.10,412.46 L65.10,412.29 L66.10,412.13 L67.10,411.97 L68.10,411.83 L69.10,411.69 L70.10,411.56 L71.10,411.43 L72.10,411.31 L73.10,411.20 L74.10,411.09 L75.10,410.99 L76.10,410.89 L77.10,410.79 L78.10,410.70 L79.10,410.62 L80.10,410.54 L81.10,410.46 L82.10,410.39 L83.10,410.32 L84.10,410.25 L85.10,410.18 L86.10,410.12 L87.10,410.06 L88.10,410.00 L89.10,409.95 L90.10,409.90 L91.10,409.85 L92.10,409.80 L93.10,409.75 L94.10,409.71 L95.10,409.67 L96.10,409.63 L97.10,409.59 L98.10,409.55 L99.10,409.51 L100.10,409.48 L101.10,409.44 L102.10,409.41 L103.10,409.38 L104.10,409.35 L105.10,409.32 L106.10,409.29 L107.10,409.26 L108.10,409.23 L109.10,409.20 L110.10,409.18 L111.10,409.15 L112.10,409.13 L113.10,409.10 L114.10,409.08 L115.10,409.06 L116.10,409.04 L117.10,409.01 L118.10,408.99 L119.10,408.97 L120.10,408.95 L121.10,408.93 L122.10,408.91 L123.10,408.89 L124.10,408.87 L125.10,408.86 L126.10,408.84 L127.10,408.82 L128.10,408.80 L129.10,408.78 L130.10,408.77 L131.10,408.75 L132.10,408.73 L133.10,408.72 L134.10,408.70 L135.10,408.68 L136.10,408.67 L137.10,408.65 L138.10,408.64 L139.10,408.62 L140.10,408.61 L141.10,408.59 L142.10,408.58 L143.10,408.56 L144.10,408.55 L145.10,408.53 L146.10,408.52 L147.10,408.50 L148.10,408.49 L149.10,408.47 L150.10,408.46 L151.10,408.44 L152.10,408.43 L153.10,408.42 L154.10,408.40 L155.10,408.39 L156.10,408.37 L157.10,408.36 L158.10,408.35 L159.10,408.33 L160.10,408.32 L161.10,408.30 L162.10,408.29 L163.10,408.28 L164.10,408.26 L165.10,408.25 L166.10,408.24 L167.10,408.22 L168.10,408.21 L169.10,408.20 L170.10,408.18 L171.10,408.17 L172.10,408.16 L173.10,408.14 L174.10,408.13 L175.10,408.12 L176.10,408.10 L177.10,408.09 L178.10,408.08 L179.10,408.06 L180.10,408.05 L181.10,408.04 L182.10,408.02 L183.10,408.01 L184.10,408.00 L185.10,407.98 L186.10,407.97 L187.10,407.96 L188.10,407.94 L189.10,407.93 L190.10,407.92 L191.10,407.90 L192.10,407.89 L193.10,407.88 L194.10,407.87 L195.10,407.85 L196.10,407.84 L197.10,407.83 L198.10,407.81 L199.10,407.80 L200.10,407.79 L201.10,407.77 L202.10,407.76 L203.10,407.75 L204.10,407.74 L205.10,407.72 L206.10,407.71 L207.10,407.70 L208.10,407.68 L209.10,407.67 L210.10,407.66 L211.10,407.64 L212.10,407.63 L213.10,407.62 L214.10,407.61 L215.10,407.59 L216.10,407.58 L217.10,407.57 L218.10,407.55 L219.10,407.54 L220.10,407.53 L221.10,407.51 L222.10,407.50 L223.10,407.49 L224.10,407.48 L225.10,407.46 L226.10,407.45 L227.10,407.44 L228.10,407.42 L229.10,407.41 L230.10,407.40 L231.10,407.38 L232.10,407.37 L233.10,407.36 L234.10,407.35 L235.10,407.33 L236.10,407.32 L237.10,407.31" fill="none" stroke="#000" stroke-width="0.95" />
<path d="M41.60,424.20 L41.60,420.00 L42.10,419.69 L42.60,419.40 L43.10,419.11 L43.60,418.84 L44.10,418.57 L44.60,418.32 L45.10,418.07 L45.60,417.83 L46.10,417.60 L46.60,417.37 L47.10,417.16 L47.60,416.95 L48.10,416.75 L48.60,416.56 L49.10,416.37 L49.60,416.19 L50.10,416.01 L50.60,415.84 L51.10,415.68 L51.60,415.52 L52.10,415.37 L52.60,415.22 L53.10,415.08 L53.60,414.94 L54.10,414.81 L54.60,414.68 L55.10,414.56 L55.60,414.44 L56.10,414.32 L56.60,414.21 L57.10,414.10 L57.60,414.00 L58.10,413.89 L58.60,413.80 L59.10,413.70 L59.60,413.61 L60.10,413.52 L60.60,413.44 L61.10,413.35 L61.60,413.27 L62.10,413.20 L63.10,413.05 L64.10,412.91 L65.10,412.78 L66.10,412.66 L67.10,412.55 L68.10,412.44 L69.10,412.34 L70.10,412.25 L71.10,412.16 L72.10,412.08 L73.10,412.00 L74.10,411.93 L75.10,411.86 L76.10,411.79 L77.10,411.73 L78.10,411.67 L79.10,411.62 L80.10,411.57 L81.10,411.52 L82.10,411.47 L83.10,411.43 L84.10,411.39 L85.10,411.35 L86.10,411.31 L87.10,411.28 L88.10,411.24 L89.10,411.21 L90.10,411.18 L91.10,411.15 L92.10,411.12 L93.10,411.09 L94.10,411.07 L95.10,411.04 L96.10,411.02 L97.10,411.00 L98.10,410.97 L99.10,410.95 L100.10,410.93 L101.10,410.91 L102.10,410.89 L103.10,410.87 L104.10,410.86 L105.10,410.84 L106.10,410.82 L107.10,410.80 L108.10,410.79 L109.10,410.77 L110.10,410.76 L111.10,410.74 L112.10,410.73 L113.10,410.71 L114.10,410.70 L115.10,410.68 L116.10,410.67 L117.10,410.65 L118.10,410.64 L119.10,410.63 L120.10,410.61 L121.10,410.60 L122.10,410.59 L123.10,410.58 L124.10,410.56 L125.10,410.55 L126.10,410.54 L127.10,410.53 L128.10,410.51 L129.10,410.50 L130.10,410.49 L131.10,410.48 L132.10,410.47 L133.10,410.45 L134.10,410.44 L135.10,410.43 L136.10,410.42 L137.10,410.41 L138.10,410.40 L139.10,410.38 L140.10,410.37 L141.10,410.36 L142.10,410.35 L143.10,410.34 L144.10,410.33 L145.10,410.32 L146.10,410.30 L147.10,410.29 L148.10,410.28 L149.10,410.27 L150.10,410.26 L151.10,410.25 L152.10,410.24 L153.10,410.23 L154.10,410.21 L155.10,410.20 L156.10,410.19 L157.10,410.18 L158.10,410.17 L159.10,410.16 L160.10,410.15 L161.10,410.14 L162.10,410.13 L163.10,410.11 L164.10,410.10 L165.10,410.09 L166.10,410.08 L167.10,410.07 L168.10,410.06 L169.10,410.05 L170.10,410.04 L171.10,410.03 L172.10,410.02 L173.10,410.00 L174.10,409.99 L175.10,409.98 L176.10,409.97 L177.10,409.96 L178.10,409.95 L179.10,409.94 L180.10,409.93 L181.10,409.92 L182.10,409.91 L183.10,409.90 L184.10,409.88 L185.10,409.87 L186.10,409.86 L187.10,409.85 L188.10,409.84 L189.10,409.83 L190.10,409.82 L191.10,409.81 L192.10,409.80 L193.10,409.79 L194.10,409.78 L195.10,409.76 L196.10,409.75 L197.10,409.74 L198.10,409.73 L199.10,409.72 L200.10,409.71 L201.10,409.70 L202.10,409.69 L203.10,409.68 L204.10,409.67 L205.10,409.65 L206.10,409.64 L207.10,409.63 L208.10,409.62 L209.10,409.61 L210.10,409.60 L211.10,409.59 L212.10,409.58 L213.10,409.57 L214.10,409.56 L215.10,409.55 L216.10,409.53 L217.10,409.52 L218.10,409.51 L219.10,409.50 L220.10,409.49 L221.10,409.48 L222.10,409.47 L223.10,409.46 L224.10,409.45 L225.10,409.44 L226.10,409.43 L227.10,409.41 L228.10,409.40 L229.10,409.39 L230.10,409.38 L231.10,409.37 L232.10,409.36 L233.10,409.35 L234.10,409.34 L235.10,409.33 L236.10,409.32 L237.10,409.31" fill="none" stroke="#000" stroke-width="0.95" />
<path d="M41.60,424.20 L41.60,420.50 L42.10,420.30 L42.60,420.11 L43.10,419.92 L43.60,419.74 L44.10,419.56 L44.60,419.39 L45.10,419.22 L45.60,419.05 L46.10,418.89 L46.60,418.73 L47.10,418.58 L47.60,418.43 L48.10,418.28 L48.60,418.14 L49.10,418.00 L49.60,417.86 L50.10,417.73 L50.60,417.60 L51.10,417.47 L51.60,417.35 L52.10,417.23 L52.60,417.11 L53.10,416.99 L53.60,416.88 L54.10,416.77 L54.60,416.66 L55.10,416.56 L55.60,416.45 L56.10,416.35 L56.60,416.26 L57.10,416.16 L57.60,416.07 L58.10,415.98 L58.60,415.89 L59.10,415.80 L59.60,415.72 L60.10,415.63 L60.60,415.55 L61.10,415.47 L61.60,415.40 L62.10,415.32 L63.10,415.18 L64.10,415.04 L65.10,414.90 L66.10,414.78 L67.10,414.66 L68.10,414.54 L69.10,414.43 L70.10,414.32 L71.10,414.22 L72.10,414.13 L73.10,414.03 L74.10,413.95 L75.10,413.86 L76.10,413.78 L77.10,413.70 L78.10,413.63 L79.10,413.56 L80.10,413.49 L81.10,413.43 L82.10,413.36 L83.10,413.30 L84.10,413.25 L85.10,413.19 L86.10,413.14 L87.10,413.09 L88.10,413.04 L89.10,412.99 L90.10,412.95 L91.10,412.90 L92.10,412.86 L93.10,412.82 L94.10,412.78 L95.10,412.74 L96.10,412.71 L97.10,412.67 L98.10,412.64 L99.10,412.61 L100.10,412.58 L101.10,412.55 L102.10,412.52 L103.10,412.49 L104.10,412.46 L105.10,412.44 L106.10,412.41 L107.10,412.38 L108.10,412.36 L109.10,412.34 L110.10,412.31 L111.10,412.29 L112.10,412.27 L113.10,412.25 L114.10,412.23 L115.10,412.21 L116.10,412.19 L117.10,412.17 L118.10,412.15 L119.10,412.13 L120.10,412.12 L121.10,412.10 L122.10,412.08 L123.10,412.06 L124.10,412.05 L125.10,412.03 L126.10,412.02 L127.10,412.00 L128.10,411.99 L129.10,411.97 L130.10,411.96 L131.10,411.94 L132.10,411.93 L133.10,411.91 L134.10,411.90 L135.10,411.89 L136.10,411.87 L137.10,411.86 L138.10,411.85 L139.10,411.83 L140.10,411.82 L141.10,411.81 L142.10,411.80 L143.10,411.78 L144.10,411.77 L145.10,411.76 L146.10,411.75 L147.10,411.74 L148.10,411.72 L149.10,411.71 L150.10,411.70 L151.10,411.69 L152.10,411.68 L153.10,411.67 L154.10,411.65 L155.10,411.64 L156.10,411.63 L157.10,411.62 L158.10,411.61 L159.10,411.60 L160.10,411.59 L161.10,411.58 L162.10,411.57 L163.10,411.55 L164.10,411.54 L165.10,411.53 L166.10,411.52 L167.10,411.51 L168.10,411.50 L169.10,411.49 L170.10,411.48 L171.10,411.47 L172.10,411.46 L173.10,411.45 L174.10,411.44 L175.10,411.43 L176.10,411.42 L177.10,411.41 L178.10,411.40 L179.10,411.39 L180.10,411.38 L181.10,411.37 L182.10,411.36 L183.10,411.35 L184.10,411.34 L185.10,411.33 L186.10,411.31 L187.10,411.30 L188.10,411.29 L189.10,411.28 L190.10,411.27 L191.10,411.26 L192.10,411.25 L193.10,411.24 L194.10,411.23 L195.10,411.22 L196.10,411.21 L197.10,411.20 L198.10,411.19 L199.10,411.18 L200.10,411.17 L201.10,411.16 L202.10,411.15 L203.10,411.14 L204.10,411.13 L205.10,411.12 L206.10,411.11 L207.10,411.10 L208.10,411.09 L209.10,411.08 L210.10,411.07 L211.10,411.06 L212.10,411.05 L213.10,411.04 L214.10,411.03 L215.10,411.02 L216.10,411.01 L217.10,411.00 L218.10,410.99 L219.10,410.98 L220.10,410.97 L221.10,410.96 L222.10,410.95 L223.10,410.94 L224.10,410.93 L225.10,410.92 L226.10,410.91 L227.10,410.90 L228.10,410.89 L229.10,410.88 L230.10,410.87 L231.10,410.86 L232.10,410.85 L233.10,410.84 L234.10,410.83 L235.10,410.82 L236.10,410.81 L237.10,410.80" fill="none" stroke="#000" stroke-width="0.95" />
<path d="M41.60,424.20 L41.60,421.00 L42.10,420.80 L42.60,420.61 L43.10,420.43 L43.60,420.25 L44.10,420.08 L44.60,419.91 L45.10,419.75 L45.60,419.59 L46.10,419.43 L46.60,419.29 L47.10,419.14 L47.60,419.00 L48.10,418.86 L48.60,418.73 L49.10,418.61 L49.60,418.48 L50.10,418.36 L50.60,418.24 L51.10,418.13 L51.60,418.02 L52.10,417.91 L52.60,417.81 L53.10,417.71 L53.60,417.61 L54.10,417.52 L54.60,417.43 L55.10,417.34 L55.60,417.25 L56.10,417.17 L56.60,417.08 L57.10,417.01 L57.60,416.93 L58.10,416.85 L58.60,416.78 L59.10,416.71 L59.60,416.64 L60.10,416.58 L60.60,416.51 L61.10,416.45 L61.60,416.39 L62.10,416.33 L63.10,416.22 L64.10,416.11 L65.10,416.01 L66.10,415.91 L67.10,415.82 L68.10,415.74 L69.10,415.66 L70.10,415.58 L71.10,415.51 L72.10,415.44 L73.10,415.38 L74.10,415.32 L75.10,415.26 L76.10,415.21 L77.10,415.16 L78.10,415.11 L79.10,415.06 L80.10,415.02 L81.10,414.97 L82.10,414.93 L83.10,414.90 L84.10,414.86 L85.10,414.83 L86.10,414.79 L87.10,414.76 L88.10,414.73 L89.10,414.70 L90.10,414.68 L91.10,414.65 L92.10,414.62 L93.10,414.60 L94.10,414.58 L95.10,414.55 L96.10,414.53 L97.10,414.51 L98.10,414.49 L99.10,414.47 L100.10,414.46 L101.10,414.44 L102.10,414.42 L103.10,414.40 L104.10,414.39 L105.10,414.37 L106.10,414.36 L107.10,414.34 L108.10,414.33 L109.10,414.31 L110.10,414.30 L111.10,414.29 L112.10,414.27 L113.10,414.26 L114.10,414.25 L115.10,414.24 L116.10,414.23 L117.10,414.21 L118.10,414.20 L119.10,414.19 L120.10,414.18 L121.10,414.17 L122.10,414.16 L123.10,414.15 L124.10,414.14 L125.10,414.13 L126.10,414.12 L127.10,414.11 L128.10,414.10 L129.10,414.09 L130.10,414.08 L131.10,414.07 L132.10,414.06 L133.10,414.05 L134.10,414.04 L135.10,414.03 L136.10,414.02 L137.10,414.02 L138.10,414.01 L139.10,414.00 L140.10,413.99 L141.10,413.98 L142.10,413.97 L143.10,413.96 L144.10,413.95 L145.10,413.95 L146.10,413.94 L147.10,413.93 L148.10,413.92 L149.10,413.91 L150.10,413.90 L151.10,413.90 L152.10,413.89 L153.10,413.88 L154.10,413.87 L155.10,413.86 L156.10,413.85 L157.10,413.85 L158.10,413.84 L159.10,413.83 L160.10,413.82 L161.10,413.81 L162.10,413.80 L163.10,413.80 L164.10,413.79 L165.10,413.78 L166.10,413.77 L167.10,413.76 L168.10,413.76 L169.10,413.75 L170.10,413.74 L171.10,413.73 L172.10,413.72 L173.10,413.72 L174.10,413.71 L175.10,413.70 L176.10,413.69 L177.10,413.68 L178.10,413.67 L179.10,413.67 L180.10,413.66 L181.10,413.65 L182.10,413.64 L183.10,413.63 L184.10,413.63 L185.10,413.62 L186.10,413.61 L187.10,413.60 L188.10,413.59 L189.10,413.59 L190.10,413.58 L191.10,413.57 L192.10,413.56 L193.10,413.55 L194.10,413.55 L195.10,413.54 L196.10,413.53 L197.10,413.52 L198.10,413.51 L199.10,413.51 L200.10,413.50 L201.10,413.49 L202.10,413.48 L203.10,413.47 L204.10,413.47 L205.10,413.46 L206.10,413.45 L207.10,413.44 L208.10,413.43 L209.10,413.43 L210.10,413.42 L211.10,413.41 L212.10,413.40 L213.10,413.40 L214.10,413.39 L215.10,413.38 L216.10,413.37 L217.10,413.36 L218.10,413.36 L219.10,413.35 L220.10,413.34 L221.10,413.33 L222.10,413.32 L223.10,413.32 L224.10,413.31 L225.10,413.30 L226.10,413.29 L227.10,413.28 L228.10,413.28 L229.10,413.27 L230.10,413.26 L231.10,413.25 L232.10,413.24 L233.10,413.24 L234.10,413.23 L235.10,413.22 L236.10,413.21 L237.10,413.20" fill="none" stroke="#000" stroke-width="0.95" />
<path d="M41.60,424.20 L41.60,421.00 L42.10,420.86 L42.60,420.73 L43.10,420.60 L43.60,420.47 L44.10,420.34 L44.60,420.22 L45.10,420.10 L45.60,419.99 L46.10,419.87 L46.60,419.76 L47.10,419.65 L47.60,419.55 L48.10,419.45 L48.60,419.34 L49.10,419.25 L49.60,419.15 L50.10,419.06 L50.60,418.97 L51.10,418.88 L51.60,418.79 L52.10,418.71 L52.60,418.62 L53.10,418.54 L53.60,418.46 L54.10,418.38 L54.60,418.31 L55.10,418.24 L55.60,418.16 L56.10,418.09 L56.60,418.03 L57.10,417.96 L57.60,417.89 L58.10,417.83 L58.60,417.77 L59.10,417.71 L59.60,417.65 L60.10,417.59 L60.60,417.53 L61.10,417.48 L61.60,417.42 L62.10,417.37 L63.10,417.27 L64.10,417.17 L65.10,417.08 L66.10,416.99 L67.10,416.90 L68.10,416.82 L69.10,416.74 L70.10,416.67 L71.10,416.60 L72.10,416.53 L73.10,416.47 L74.10,416.41 L75.10,416.35 L76.10,416.29 L77.10,416.24 L78.10,416.18 L79.10,416.13 L80.10,416.09 L81.10,416.04 L82.10,416.00 L83.10,415.95 L84.10,415.91 L85.10,415.88 L86.10,415.84 L87.10,415.80 L88.10,415.77 L89.10,415.74 L90.10,415.70 L91.10,415.67 L92.10,415.64 L93.10,415.62 L94.10,415.59 L95.10,415.56 L96.10,415.54 L97.10,415.51 L98.10,415.49 L99.10,415.47 L100.10,415.45 L101.10,415.42 L102.10,415.40 L103.10,415.38 L104.10,415.37 L105.10,415.35 L106.10,415.33 L107.10,415.31 L108.10,415.29 L109.10,415.28 L110.10,415.26 L111.10,415.25 L112.10,415.23 L113.10,415.22 L114.10,415.20 L115.10,415.19 L116.10,415.17 L117.10,415.16 L118.10,415.15 L119.10,415.13 L120.10,415.12 L121.10,415.11 L122.10,415.10 L123.10,415.09 L124.10,415.08 L125.10,415.06 L126.10,415.05 L127.10,415.04 L128.10,415.03 L129.10,415.02 L130.10,415.01 L131.10,415.00 L132.10,414.99 L133.10,414.98 L134.10,414.97 L135.10,414.96 L136.10,414.95 L137.10,414.94 L138.10,414.93 L139.10,414.92 L140.10,414.92 L141.10,414.91 L142.10,414.90 L143.10,414.89 L144.10,414.88 L145.10,414.87 L146.10,414.86 L147.10,414.86 L148.10,414.85 L149.10,414.84 L150.10,414.83 L151.10,414.82 L152.10,414.81 L153.10,414.81 L154.10,414.80 L155.10,414.79 L156.10,414.78 L157.10,414.78 L158.10,414.77 L159.10,414.76 L160.10,414.75 L161.10,414.74 L162.10,414.74 L163.10,414.73 L164.10,414.72 L165.10,414.71 L166.10,414.71 L167.10,414.70 L168.10,414.69 L169.10,414.68 L170.10,414.68 L171.10,414.67 L172.10,414.66 L173.10,414.65 L174.10,414.65 L175.10,414.64 L176.10,414.63 L177.10,414.63 L178.10,414.62 L179.10,414.61 L180.10,414.60 L181.10,414.60 L182.10,414.59 L183.10,414.58 L184.10,414.58 L185.10,414.57 L186.10,414.56 L187.10,414.55 L188.10,414.55 L189.10,414.54 L190.10,414.53 L191.10,414.53 L192.10,414.52 L193.10,414.51 L194.10,414.50 L195.10,414.50 L196.10,414.49 L197.10,414.48 L198.10,414.48 L199.10,414.47 L200.10,414.46 L201.10,414.45 L202.10,414.45 L203.10,414.44 L204.10,414.43 L205.10,414.43 L206.10,414.42 L207.10,414.41 L208.10,414.41 L209.10,414.40 L210.10,414.39 L211.10,414.38 L212.10,414.38 L213.10,414.37 L214.10,414.36 L215.10,414.36 L216.10,414.35 L217.10,414.34 L218.10,414.34 L219.10,414.33 L220.10,414.32 L221.10,414.31 L222.10,414.31 L223.10,414.30 L224.10,414.29 L225.10,414.29 L226.10,414.28 L227.10,414.27 L228.10,414.27 L229.10,414.26 L230.10,414.25 L231.10,414.25 L232.10,414.24 L233.10,414.23 L234.10,414.22 L235.10,414.22 L236.10,414.21 L237.10,414.20" fill="none" stroke="#000" stroke-width="0.95" />
<path d="M41.60,424.20 L41.60,421.50 L42.10,421.43 L42.60,421.37 L43.10,421.31 L43.60,421.25 L44.10,421.19 L44.60,421.13 L45.10,421.08 L45.60,421.03 L46.10,420.97 L46.60,420.92 L47.10,420.87 L47.60,420.82 L48.10,420.78 L48.60,420.73 L49.10,420.69 L49.60,420.64 L50.10,420.60 L50.60,420.56 L51.10,420.52 L51.60,420.48 L52.10,420.44 L52.60,420.41 L53.10,420.37 L53.60,420.34 L54.10,420.30 L54.60,420.27 L55.10,420.24 L55.60,420.20 L56.10,420.17 L56.60,420.14 L57.10,420.11 L57.60,420.09 L58.10,420.06 L58.60,420.03 L59.10,420.01 L59.60,419.98 L60.10,419.96 L60.60,419.93 L61.10,419.91 L61.60,419.88 L62.10,419.86 L63.10,419.82 L64.10,419.78 L65.10,419.74 L66.10,419.70 L67.10,419.67 L68.10,419.63 L69.10,419.60 L70.10,419.57 L71.10,419.54 L72.10,419.52 L73.10,419.49 L74.10,419.47 L75.10,419.44 L76.10,419.42 L77.10,419.40 L78.10,419.38 L79.10,419.36 L80.10,419.34 L81.10,419.32 L82.10,419.30 L83.10,419.29 L84.10,419.27 L85.10,419.26 L86.10,419.24 L87.10,419.23 L88.10,419.22 L89.10,419.21 L90.10,419.19 L91.10,419.18 L92.10,419.17 L93.10,419.16 L94.10,419.15 L95.10,419.14 L96.10,419.13 L97.10,419.12 L98.10,419.11 L99.10,419.10 L100.10,419.10 L101.10,419.09 L102.10,419.08 L103.10,419.07 L104.10,419.07 L105.10,419.06 L106.10,419.05 L107.10,419.05 L108.10,419.04 L109.10,419.03 L110.10,419.03 L111.10,419.02 L112.10,419.02 L113.10,419.01 L114.10,419.01 L115.10,419.00 L116.10,419.00 L117.10,418.99 L118.10,418.99 L119.10,418.98 L120.10,418.98 L121.10,418.97 L122.10,418.97 L123.10,418.96 L124.10,418.96 L125.10,418.96 L126.10,418.95 L127.10,418.95 L128.10,418.94 L129.10,418.94 L130.10,418.94 L131.10,418.93 L132.10,418.93 L133.10,418.92 L134.10,418.92 L135.10,418.92 L136.10,418.91 L137.10,418.91 L138.10,418.91 L139.10,418.90 L140.10,418.90 L141.10,418.89 L142.10,418.89 L143.10,418.89 L144.10,418.88 L145.10,418.88 L146.10,418.88 L147.10,418.87 L148.10,418.87 L149.10,418.87 L150.10,418.86 L151.10,418.86 L152.10,418.86 L153.10,418.85 L154.10,418.85 L155.10,418.85 L156.10,418.85 L157.10,418.84 L158.10,418.84 L159.10,418.84 L160.10,418.83 L161.10,418.83 L162.10,418.83 L163.10,418.82 L164.10,418.82 L165.10,418.82 L166.10,418.81 L167.10,418.81 L168.10,418.81 L169.10,418.80 L170.10,418.80 L171.10,418.80 L172.10,418.80 L173.10,418.79 L174.10,418.79 L175.10,418.79 L176.10,418.78 L177.10,418.78 L178.10,418.78 L179.10,418.77 L180.10,418.77 L181.10,418.77 L182.10,418.77 L183.10,418.76 L184.10,418.76 L185.10,418.76 L186.10,418.75 L187.10,418.75 L188.10,418.75 L189.10,418.74 L190.10,418.74 L191.10,418.74 L192.10,418.74 L193.10,418.73 L194.10,418.73 L195.10,418.73 L196.10,418.72 L197.10,418.72 L198.10,418.72 L199.10,418.71 L200.10,418.71 L201.10,418.71 L202.10,418.71 L203.10,418.70 L204.10,418.70 L205.10,418.70 L206.10,418.69 L207.10,418.69 L208.10,418.69 L209.10,418.68 L210.10,418.68 L211.10,418.68 L212.10,418.68 L213.10,418.67 L214.10,418.67 L215.10,418.67 L216.10,418.66 L217.10,418.66 L218.10,418.66 L219.10,418.65 L220.10,418.65 L221.10,418.65 L222.10,418.65 L223.10,418.64 L224.10,418.64 L225.10,418.64 L226.10,418.63 L227.10,418.63 L228.10,418.63 L229.10,418.63 L230.10,418.62 L231.10,418.62 L232.10,418.62 L233.10,418.61 L234.10,418.61 L235.10,418.61 L236.10,418.60 L237.10,418.60" fill="none" stroke="#000" stroke-width="0.95" />
<path d="M41.60,424.20 L41.60,422.00 L42.10,421.96 L42.60,421.92 L43.10,421.88 L43.60,421.84 L44.10,421.80 L44.60,421.76 L45.10,421.72 L45.60,421.69 L46.10,421.66 L46.60,421.62 L47.10,421.59 L47.60,421.56 L48.10,421.53 L48.60,421.50 L49.10,421.47 L49.60,421.44 L50.10,421.41 L50.60,421.38 L51.10,421.36 L51.60,421.33 L52.10,421.31 L52.60,421.28 L53.10,421.26 L53.60,421.24 L54.10,421.21 L54.60,421.19 L55.10,421.17 L55.60,421.15 L56.10,421.13 L56.60,421.11 L57.10,421.09 L57.60,421.07 L58.10,421.06 L58.60,421.04 L59.10,421.02 L59.60,421.00 L60.10,420.99 L60.60,420.97 L61.10,420.96 L61.60,420.94 L62.10,420.93 L63.10,420.90 L64.10,420.87 L65.10,420.85 L66.10,420.82 L67.10,420.80 L68.10,420.78 L69.10,420.76 L70.10,420.74 L71.10,420.72 L72.10,420.70 L73.10,420.68 L74.10,420.67 L75.10,420.65 L76.10,420.64 L77.10,420.62 L78.10,420.61 L79.10,420.60 L80.10,420.58 L81.10,420.57 L82.10,420.56 L83.10,420.55 L84.10,420.54 L85.10,420.53 L86.10,420.52 L87.10,420.51 L88.10,420.50 L89.10,420.50 L90.10,420.49 L91.10,420.48 L92.10,420.47 L93.10,420.47 L94.10,420.46 L95.10,420.45 L96.10,420.45 L97.10,420.44 L98.10,420.44 L99.10,420.43 L100.10,420.43 L101.10,420.42 L102.10,420.42 L103.10,420.41 L104.10,420.41 L105.10,420.40 L106.10,420.40 L107.10,420.39 L108.10,420.39 L109.10,420.38 L110.10,420.38 L111.10,420.38 L112.10,420.37 L113.10,420.37 L114.10,420.37 L115.10,420.36 L116.10,420.36 L117.10,420.36 L118.10,420.35 L119.10,420.35 L120.10,420.35 L121.10,420.34 L122.10,420.34 L123.10,420.34 L124.10,420.34 L125.10,420.33 L126.10,420.33 L127.10,420.33 L128.10,420.32 L129.10,420.32 L130.10,420.32 L131.10,420.32 L132.10,420.31 L133.10,420.31 L134.10,420.31 L135.10,420.31 L136.10,420.30 L137.10,420.30 L138.10,420.30 L139.10,420.30 L140.10,420.30 L141.10,420.29 L142.10,420.29 L143.10,420.29 L144.10,420.29 L145.10,420.28 L146.10,420.28 L147.10,420.28 L148.10,420.28 L149.10,420.28 L150.10,420.27 L151.10,420.27 L152.10,420.27 L153.10,420.27 L154.10,420.26 L155.10,420.26 L156.10,420.26 L157.10,420.26 L158.10,420.26 L159.10,420.25 L160.10,420.25 L161.10,420.25 L162.10,420.25 L163.10,420.25 L164.10,420.24 L165.10,420.24 L166.10,420.24 L167.10,420.24 L168.10,420.24 L169.10,420.23 L170.10,420.23 L171.10,420.23 L172.10,420.23 L173.10,420.23 L174.10,420.22 L175.10,420.22 L176.10,420.22 L177.10,420.22 L178.10,420.22 L179.10,420.21 L180.10,420.21 L181.10,420.21 L182.10,420.21 L183.10,420.21 L184.10,420.20 L185.10,420.20 L186.10,420.20 L187.10,420.20 L188.10,420.20 L189.10,420.19 L190.10,420.19 L191.10,420.19 L192.10,420.19 L193.10,420.19 L194.10,420.18 L195.10,420.18 L196.10,420.18 L197.10,420.18 L198.10,420.18 L199.10,420.17 L200.10,420.17 L201.10,420.17 L202.10,420.17 L203.10,420.17 L204.10,420.17 L205.10,420.16 L206.10,420.16 L207.10,420.16 L208.10,420.16 L209.10,420.16 L210.10,420.15 L211.10,420.15 L212.10,420.15 L213.10,420.15 L214.10,420.15 L215.10,420.14 L216.10,420.14 L217.10,420.14 L218.10,420.14 L219.10,420.14 L220.10,420.13 L221.10,420.13 L222.10,420.13 L223.10,420.13 L224.10,420.13 L225.10,420.12 L226.10,420.12 L227.10,420.12 L228.10,420.12 L229.10,420.12 L230.10,420.11 L231.10,420.11 L232.10,420.11 L233.10,420.11 L234.10,420.11 L235.10,420.10 L236.10,420.10 L237.10,420.10" fill="none" stroke="#000" stroke-width="0.95" />
<path d="M41.60,424.20 L41.60,422.00 L42.10,421.98 L42.60,421.95 L43.10,421.93 L43.60,421.91 L44.10,421.89 L44.60,421.87 L45.10,421.85 L45.60,421.83 L46.10,421.81 L46.60,421.79 L47.10,421.77 L47.60,421.76 L48.10,421.74 L48.60,421.73 L49.10,421.71 L49.60,421.70 L50.10,421.68 L50.60,421.67 L51.10,421.65 L51.60,421.64 L52.10,421.63 L52.60,421.62 L53.10,421.60 L53.60,421.59 L54.10,421.58 L54.60,421.57 L55.10,421.56 L55.60,421.55 L56.10,421.54 L56.60,421.53 L57.10,421.52 L57.60,421.51 L58.10,421.50 L58.60,421.50 L59.10,421.49 L59.60,421.48 L60.10,421.47 L60.60,421.47 L61.10,421.46 L61.60,421.45 L62.10,421.44 L63.10,421.43 L64.10,421.42 L65.10,421.41 L66.10,421.40 L67.10,421.39 L68.10,421.38 L69.10,421.37 L70.10,421.36 L71.10,421.35 L72.10,421.35 L73.10,421.34 L74.10,421.33 L75.10,421.33 L76.10,421.32 L77.10,421.31 L78.10,421.31 L79.10,421.30 L80.10,421.30 L81.10,421.30 L82.10,421.29 L83.10,421.29 L84.10,421.28 L85.10,421.28 L86.10,421.28 L87.10,421.27 L88.10,421.27 L89.10,421.27 L90.10,421.26 L91.10,421.26 L92.10,421.26 L93.10,421.26 L94.10,421.25 L95.10,421.25 L96.10,421.25 L97.10,421.25 L98.10,421.24 L99.10,421.24 L100.10,421.24 L101.10,421.24 L102.10,421.24 L103.10,421.24 L104.10,421.23 L105.10,421.23 L106.10,421.23 L107.10,421.23 L108.10,421.23 L109.10,421.23 L110.10,421.22 L111.10,421.22 L112.10,421.22 L113.10,421.22 L114.10,421.22 L115.10,421.22 L116.10,421.22 L117.10,421.22 L118.10,421.21 L119.10,421.21 L120.10,421.21 L121.10,421.21 L122.10,421.21 L123.10,421.21 L124.10,421.21 L125.10,421.21 L126.10,421.20 L127.10,421.20 L128.10,421.20 L129.10,421.20 L130.10,421.20 L131.10,421.20 L132.10,421.20 L133.10,421.20 L134.10,421.20 L135.10,421.20 L136.10,421.19 L137.10,421.19 L138.10,421.19 L139.10,421.19 L140.10,421.19 L141.10,421.19 L142.10,421.19 L143.10,421.19 L144.10,421.19 L145.10,421.19 L146.10,421.18 L147.10,421.18 L148.10,421.18 L149.10,421.18 L150.10,421.18 L151.10,421.18 L152.10,421.18 L153.10,421.18 L154.10,421.18 L155.10,421.18 L156.10,421.18 L157.10,421.17 L158.10,421.17 L159.10,421.17 L160.10,421.17 L161.10,421.17 L162.10,421.17 L163.10,421.17 L164.10,421.17 L165.10,421.17 L166.10,421.17 L167.10,421.16 L168.10,421.16 L169.10,421.16 L170.10,421.16 L171.10,421.16 L172.10,421.16 L173.10,421.16 L174.10,421.16 L175.10,421.16 L176.10,421.16 L177.10,421.16 L178.10,421.15 L179.10,421.15 L180.10,421.15 L181.10,421.15 L182.10,421.15 L183.10,421.15 L184.10,421.15 L185.10,421.15 L186.10,421.15 L187.10,421.15 L188.10,421.15 L189.10,421.14 L190.10,421.14 L191.10,421.14 L192.10,421.14 L193.10,421.14 L194.10,421.14 L195.10,421.14 L196.10,421.14 L197.10,421.14 L198.10,421.14 L199.10,421.14 L200.10,421.13 L201.10,421.13 L202.10,421.13 L203.10,421.13 L204.10,421.13 L205.10,421.13 L206.10,421.13 L207.10,421.13 L208.10,421.13 L209.10,421.13 L210.10,421.13 L211.10,421.12 L212.10,421.12 L213.10,421.12 L214.10,421.12 L215.10,421.12 L216.10,421.12 L217.10,421.12 L218.10,421.12 L219.10,421.12 L220.10,421.12 L221.10,421.12 L222.10,421.11 L223.10,421.11 L224.10,421.11 L225.10,421.11 L226.10,421.11 L227.10,421.11 L228.10,421.11 L229.10,421.11 L230.10,421.11 L231.10,421.11 L232.10,421.11 L233.10,421.10 L234.10,421.10 L235.10,421.10 L236.10,421.10 L237.10,421.10" fill="none" stroke="#000" stroke-width="0.95" />
<line x1="237.60" y1="401.90" x2="237.60" y2="465.50" stroke="#444" stroke-width="0.7" />
<path d="M237.60,442.36 L237.80,439.59 L238.00,437.36 L238.20,435.55 L238.40,434.07 L238.60,432.86 L238.80,431.87 L239.00,431.04 L239.20,430.35 L239.40,429.77 L239.60,429.28 L239.80,428.86 L240.00,428.50 L240.20,428.19 L240.40,427.92 L240.60,427.68 L240.80,427.47 L241.00,427.28 L241.20,427.11 L241.40,426.95 L241.60,426.82 L241.80,426.69 L242.00,426.57 L242.20,426.46 L242.40,426.36 L242.60,426.27 L242.80,426.19 L243.00,426.11 L243.20,426.03 L243.40,425.97 L243.60,425.90 L244.10,425.76 L244.60,425.64 L245.10,425.53 L245.60,425.44 L246.10,425.37 L246.60,425.30 L247.10,425.24 L247.60,425.20 L248.10,425.15 L248.60,425.12 L249.10,425.09 L249.60,425.06 L250.10,425.04 L250.60,425.02 L251.10,425.00 L251.60,424.99 L252.10,424.98 L252.60,424.96 L253.10,424.96 L253.60,424.95 L254.10,424.94 L254.60,424.94 L255.10,424.93 L255.60,424.93 L256.10,424.92 L256.60,424.92 L257.10,424.92 L257.60,424.91 L259.60,424.91 L261.60,424.90 L263.60,424.90 L265.60,424.90 L267.60,424.90 L269.60,424.90 L271.60,424.90 L273.60,424.90 L275.60,424.90 L277.60,424.90 L279.60,424.90 L281.60,424.90 L283.60,424.90 L285.60,424.90 L287.60,424.90 L289.60,424.90 L291.60,424.90" fill="none" stroke="#000" stroke-width="0.8" />
<path d="M237.60,446.99 L237.80,444.52 L238.00,442.39 L238.20,440.55 L238.40,438.95 L238.60,437.56 L238.80,436.35 L239.00,435.30 L239.20,434.37 L239.40,433.56 L239.60,432.85 L239.80,432.21 L240.00,431.65 L240.20,431.16 L240.40,430.71 L240.60,430.32 L240.80,429.96 L241.00,429.64 L241.20,429.35 L241.40,429.08 L241.60,428.84 L241.80,428.62 L242.00,428.42 L242.20,428.23 L242.40,428.06 L242.60,427.90 L242.80,427.75 L243.00,427.61 L243.20,427.48 L243.40,427.36 L243.60,427.25 L244.10,426.99 L244.60,426.77 L245.10,426.57 L245.60,426.40 L246.10,426.25 L246.60,426.11 L247.10,425.99 L247.60,425.88 L248.10,425.79 L248.60,425.70 L249.10,425.62 L249.60,425.55 L250.10,425.48 L250.60,425.43 L251.10,425.38 L251.60,425.33 L252.10,425.29 L252.60,425.25 L253.10,425.21 L253.60,425.18 L254.10,425.16 L254.60,425.13 L255.10,425.11 L255.60,425.09 L256.10,425.07 L256.60,425.05 L257.10,425.04 L257.60,425.02 L259.60,424.98 L261.60,424.95 L263.60,424.94 L265.60,424.92 L267.60,424.92 L269.60,424.91 L271.60,424.91 L273.60,424.90 L275.60,424.90 L277.60,424.90 L279.60,424.90 L281.60,424.90 L283.60,424.90 L285.60,424.90 L287.60,424.90 L289.60,424.90 L291.60,424.90" fill="none" stroke="#000" stroke-width="0.8" />
<path d="M237.60,451.61 L237.80,449.31 L238.00,447.26 L238.20,445.41 L238.40,443.76 L238.60,442.27 L238.80,440.94 L239.00,439.74 L239.20,438.66 L239.40,437.68 L239.60,436.80 L239.80,436.00 L240.00,435.28 L240.20,434.62 L240.40,434.03 L240.60,433.48 L240.80,432.98 L241.00,432.53 L241.20,432.11 L241.40,431.73 L241.60,431.37 L241.80,431.05 L242.00,430.75 L242.20,430.47 L242.40,430.21 L242.60,429.97 L242.80,429.74 L243.00,429.54 L243.20,429.34 L243.40,429.16 L243.60,428.98 L244.10,428.59 L244.60,428.25 L245.10,427.96 L245.60,427.69 L246.10,427.46 L246.60,427.25 L247.10,427.06 L247.60,426.89 L248.10,426.73 L248.60,426.59 L249.10,426.46 L249.60,426.34 L250.10,426.23 L250.60,426.12 L251.10,426.03 L251.60,425.95 L252.10,425.87 L252.60,425.79 L253.10,425.72 L253.60,425.66 L254.10,425.60 L254.60,425.55 L255.10,425.50 L255.60,425.46 L256.10,425.41 L256.60,425.38 L257.10,425.34 L257.60,425.31 L259.60,425.20 L261.60,425.12 L263.60,425.06 L265.60,425.02 L267.60,424.98 L269.60,424.96 L271.60,424.95 L273.60,424.93 L275.60,424.92 L277.60,424.92 L279.60,424.91 L281.60,424.91 L283.60,424.91 L285.60,424.91 L287.60,424.90 L289.60,424.90 L291.60,424.90" fill="none" stroke="#000" stroke-width="0.8" />
<path d="M237.60,456.24 L237.80,454.05 L238.00,452.04 L238.20,450.20 L238.40,448.52 L238.60,446.97 L238.80,445.56 L239.00,444.27 L239.20,443.08 L239.40,441.98 L239.60,440.98 L239.80,440.05 L240.00,439.20 L240.20,438.41 L240.40,437.68 L240.60,437.01 L240.80,436.39 L241.00,435.81 L241.20,435.28 L241.40,434.78 L241.60,434.32 L241.80,433.89 L242.00,433.49 L242.20,433.12 L242.40,432.77 L242.60,432.44 L242.80,432.13 L243.00,431.85 L243.20,431.58 L243.40,431.32 L243.60,431.08 L244.10,430.54 L244.60,430.07 L245.10,429.65 L245.60,429.28 L246.10,428.95 L246.60,428.66 L247.10,428.39 L247.60,428.15 L248.10,427.93 L248.60,427.72 L249.10,427.54 L249.60,427.36 L250.10,427.20 L250.60,427.06 L251.10,426.92 L251.60,426.79 L252.10,426.67 L252.60,426.56 L253.10,426.46 L253.60,426.36 L254.10,426.27 L254.60,426.19 L255.10,426.11 L255.60,426.03 L256.10,425.96 L256.60,425.90 L257.10,425.84 L257.60,425.78 L259.60,425.58 L261.60,425.43 L263.60,425.31 L265.60,425.22 L267.60,425.15 L269.60,425.09 L271.60,425.05 L273.60,425.02 L275.60,424.99 L277.60,424.97 L279.60,424.95 L281.60,424.94 L283.60,424.93 L285.60,424.93 L287.60,424.92 L289.60,424.92 L291.60,424.91" fill="none" stroke="#000" stroke-width="0.8" />
<path d="M237.60,460.87 L237.80,458.74 L238.00,456.77 L238.20,454.94 L238.40,453.24 L238.60,451.66 L238.80,450.20 L239.00,448.83 L239.20,447.56 L239.40,446.38 L239.60,445.28 L239.80,444.26 L240.00,443.30 L240.20,442.41 L240.40,441.57 L240.60,440.80 L240.80,440.07 L241.00,439.39 L241.20,438.75 L241.40,438.15 L241.60,437.59 L241.80,437.06 L242.00,436.57 L242.20,436.10 L242.40,435.67 L242.60,435.25 L242.80,434.86 L243.00,434.50 L243.20,434.15 L243.40,433.82 L243.60,433.51 L244.10,432.81 L244.60,432.18 L245.10,431.64 L245.60,431.15 L246.10,430.71 L246.60,430.32 L247.10,429.96 L247.60,429.64 L248.10,429.35 L248.60,429.08 L249.10,428.83 L249.60,428.60 L250.10,428.39 L250.60,428.19 L251.10,428.01 L251.60,427.84 L252.10,427.68 L252.60,427.52 L253.10,427.38 L253.60,427.25 L254.10,427.13 L254.60,427.01 L255.10,426.90 L255.60,426.79 L256.10,426.69 L256.60,426.60 L257.10,426.51 L257.60,426.43 L259.60,426.13 L261.60,425.90 L263.60,425.71 L265.60,425.55 L267.60,425.43 L269.60,425.33 L271.60,425.25 L273.60,425.18 L275.60,425.13 L277.60,425.08 L279.60,425.05 L281.60,425.02 L283.60,425.00 L285.60,424.98 L287.60,424.96 L289.60,424.95 L291.60,424.94" fill="none" stroke="#000" stroke-width="0.8" />
<path d="M237.60,465.50 L237.80,463.42 L238.00,461.48 L238.20,459.66 L238.40,457.94 L238.60,456.34 L238.80,454.83 L239.00,453.42 L239.20,452.09 L239.40,450.84 L239.60,449.67 L239.80,448.56 L240.00,447.52 L240.20,446.55 L240.40,445.62 L240.60,444.76 L240.80,443.94 L241.00,443.17 L241.20,442.44 L241.40,441.75 L241.60,441.10 L241.80,440.49 L242.00,439.91 L242.20,439.36 L242.40,438.84 L242.60,438.34 L242.80,437.88 L243.00,437.43 L243.20,437.01 L243.40,436.61 L243.60,436.23 L244.10,435.36 L244.60,434.59 L245.10,433.90 L245.60,433.28 L246.10,432.73 L246.60,432.23 L247.10,431.78 L247.60,431.37 L248.10,430.99 L248.60,430.65 L249.10,430.33 L249.60,430.04 L250.10,429.77 L250.60,429.51 L251.10,429.28 L251.60,429.06 L252.10,428.85 L252.60,428.66 L253.10,428.48 L253.60,428.31 L254.10,428.14 L254.60,427.99 L255.10,427.85 L255.60,427.71 L256.10,427.58 L256.60,427.46 L257.10,427.34 L257.60,427.23 L259.60,426.83 L261.60,426.51 L263.60,426.24 L265.60,426.02 L267.60,425.83 L269.60,425.68 L271.60,425.55 L273.60,425.44 L275.60,425.35 L277.60,425.27 L279.60,425.21 L281.60,425.16 L283.60,425.12 L285.60,425.08 L287.60,425.05 L289.60,425.03 L291.60,425.00" fill="none" stroke="#000" stroke-width="0.8" />
<path d="M237.60,424.10 L292.50,424.20 L292.50,425.60 L262.60,425.70 L245.60,426.40 L237.60,426.90 Z" fill="#000"/>
<line x1="239.60" y1="359.60" x2="239.60" y2="386.50" stroke="#3a3a3a" stroke-width="1.05" />
<line x1="237.10" y1="384.50" x2="278.70" y2="384.50" stroke="#3a3a3a" stroke-width="1.05" />
<line x1="237.10" y1="359.60" x2="242.10" y2="359.60" stroke="#3a3a3a" stroke-width="1.05" />
<line x1="278.70" y1="382.20" x2="278.70" y2="386.80" stroke="#3a3a3a" stroke-width="1.05" />
<text x="110.00" y="399.90" font-size="16.5" textLength="57.50" lengthAdjust="spacingAndGlyphs" >F656F2</text>
<text x="208.00" y="378.30" font-size="12.5" textLength="27.50" lengthAdjust="spacingAndGlyphs" >1 μA</text>
<text x="252.00" y="396.90" font-size="12.5" textLength="16.50" lengthAdjust="spacingAndGlyphs" >1 s</text>
<text x="313.20" y="15.50" font-size="19.5" font-weight="bold" textLength="11.20" lengthAdjust="spacingAndGlyphs" stroke="#000" stroke-width="0.3">B</text>
<line x1="374.00" y1="15.30" x2="374.00" y2="210.50" stroke="#000" stroke-width="2.2" />
<line x1="372.90" y1="209.60" x2="644.00" y2="209.60" stroke="#000" stroke-width="2.2" />
<line x1="368.50" y1="15.30" x2="374.00" y2="15.30" stroke="#000" stroke-width="1.8" />
<text x="368.30" y="19.90" font-size="12.5" textLength="19.20" lengthAdjust="spacingAndGlyphs" text-anchor="end" >-10</text>
<line x1="368.50" y1="63.90" x2="374.00" y2="63.90" stroke="#000" stroke-width="1.8" />
<text x="368.30" y="68.50" font-size="12.5" textLength="19.20" lengthAdjust="spacingAndGlyphs" text-anchor="end" >-20</text>
<line x1="368.50" y1="112.50" x2="374.00" y2="112.50" stroke="#000" stroke-width="1.8" />
<text x="368.30" y="117.10" font-size="12.5" textLength="19.20" lengthAdjust="spacingAndGlyphs" text-anchor="end" >-30</text>
<line x1="368.50" y1="161.10" x2="374.00" y2="161.10" stroke="#000" stroke-width="1.8" />
<text x="368.30" y="165.70" font-size="12.5" textLength="19.20" lengthAdjust="spacingAndGlyphs" text-anchor="end" >-40</text>
<line x1="368.50" y1="209.70" x2="374.00" y2="209.70" stroke="#000" stroke-width="1.8" />
<text x="368.30" y="214.30" font-size="12.5" textLength="19.20" lengthAdjust="spacingAndGlyphs" text-anchor="end" >-50</text>
<line x1="393.00" y1="209.60" x2="393.00" y2="214.60" stroke="#000" stroke-width="1.8" />
<line x1="431.30" y1="209.60" x2="431.30" y2="214.60" stroke="#000" stroke-width="1.8" />
<line x1="469.70" y1="209.60" x2="469.70" y2="214.60" stroke="#000" stroke-width="1.8" />
<line x1="508.10" y1="209.60" x2="508.10" y2="214.60" stroke="#000" stroke-width="1.8" />
<line x1="546.50" y1="209.60" x2="546.50" y2="214.60" stroke="#000" stroke-width="1.8" />
<line x1="584.90" y1="209.60" x2="584.90" y2="214.60" stroke="#000" stroke-width="1.8" />
<line x1="623.30" y1="209.60" x2="623.30" y2="214.60" stroke="#000" stroke-width="1.8" />
<g transform="translate(399.60,219.90) rotate(-45)"><text x="-20.00" y="0" font-size="11.7" textLength="20.0" lengthAdjust="spacingAndGlyphs">WT</text></g>
<g transform="translate(440.90,223.60) rotate(-45)"><text x="-35.50" y="0" font-size="11.7" textLength="35.5" lengthAdjust="spacingAndGlyphs">Y652F</text><text x="0.9" y="0.8" font-size="12" stroke="#000" stroke-width="0.3">*</text></g>
<g transform="translate(482.30,220.00) rotate(-45)"><text x="-41.50" y="0" font-size="11.7" textLength="41.5" lengthAdjust="spacingAndGlyphs">Y652F1</text></g>
<g transform="translate(521.00,219.00) rotate(-45)"><text x="-41.50" y="0" font-size="11.7" textLength="41.5" lengthAdjust="spacingAndGlyphs">Y652F2</text></g>
<g transform="translate(554.60,224.40) rotate(-45)"><text x="-35.00" y="0" font-size="11.7" textLength="35.0" lengthAdjust="spacingAndGlyphs">F656F</text><text x="0.9" y="0.8" font-size="12" stroke="#000" stroke-width="0.3">*</text></g>
<g transform="translate(596.80,218.50) rotate(-45)"><text x="-41.00" y="0" font-size="11.7" textLength="41.0" lengthAdjust="spacingAndGlyphs">F656F1</text></g>
<g transform="translate(632.80,218.50) rotate(-45)"><text x="-41.00" y="0" font-size="11.7" textLength="41.0" lengthAdjust="spacingAndGlyphs">F656F2</text></g>
<line x1="393.10" y1="87.60" x2="393.10" y2="94.00" stroke="#000" stroke-width="2.0" />
<line x1="389.50" y1="87.60" x2="396.70" y2="87.60" stroke="#000" stroke-width="2.1" />
<line x1="389.50" y1="94.00" x2="396.70" y2="94.00" stroke="#000" stroke-width="2.1" />
<path d="M393.10,87.50 L396.50,90.90 L393.10,94.30 L389.70,90.90Z" fill="#000"/>
<line x1="431.50" y1="91.10" x2="431.50" y2="100.60" stroke="#ff0000" stroke-width="2.0" />
<line x1="427.90" y1="91.10" x2="435.10" y2="91.10" stroke="#ff0000" stroke-width="2.1" />
<line x1="427.90" y1="100.60" x2="435.10" y2="100.60" stroke="#ff0000" stroke-width="2.1" />
<circle cx="431.50" cy="95.85" r="3.55" fill="#ff0000"/>
<line x1="470.00" y1="97.00" x2="470.00" y2="103.40" stroke="#0000ff" stroke-width="2.0" />
<line x1="466.40" y1="97.00" x2="473.60" y2="97.00" stroke="#0000ff" stroke-width="2.1" />
<line x1="466.40" y1="103.40" x2="473.60" y2="103.40" stroke="#0000ff" stroke-width="2.1" />
<rect x="466.45" y="96.65" width="7.1" height="7.1" fill="#0000ff"/>
<line x1="508.45" y1="91.90" x2="508.45" y2="101.90" stroke="#008000" stroke-width="2.0" />
<line x1="504.85" y1="91.90" x2="512.05" y2="91.90" stroke="#008000" stroke-width="2.1" />
<line x1="504.85" y1="101.90" x2="512.05" y2="101.90" stroke="#008000" stroke-width="2.1" />
<circle cx="508.45" cy="96.90" r="3.55" fill="#008000"/>
<line x1="546.90" y1="96.40" x2="546.90" y2="113.40" stroke="#ff0000" stroke-width="2.0" />
<line x1="543.30" y1="96.40" x2="550.50" y2="96.40" stroke="#ff0000" stroke-width="2.1" />
<line x1="543.30" y1="113.40" x2="550.50" y2="113.40" stroke="#ff0000" stroke-width="2.1" />
<rect x="543.35" y="101.15" width="7.1" height="7.1" fill="#ff0000"/>
<line x1="585.30" y1="116.80" x2="585.30" y2="135.80" stroke="#0000ff" stroke-width="2.0" />
<line x1="581.70" y1="116.80" x2="588.90" y2="116.80" stroke="#0000ff" stroke-width="2.1" />
<line x1="581.70" y1="135.80" x2="588.90" y2="135.80" stroke="#0000ff" stroke-width="2.1" />
<rect x="581.75" y="122.95" width="7.1" height="7.1" fill="#0000ff"/>
<line x1="623.50" y1="140.10" x2="623.50" y2="157.90" stroke="#008000" stroke-width="2.0" />
<line x1="619.90" y1="140.10" x2="627.10" y2="140.10" stroke="#008000" stroke-width="2.1" />
<line x1="619.90" y1="157.90" x2="627.10" y2="157.90" stroke="#008000" stroke-width="2.1" />
<rect x="619.95" y="145.35" width="7.1" height="7.1" fill="#008000"/>
<path d="M611.4,142.3 L611.4,149.7 M608.2,144.15 L614.6,147.85 M608.2,147.85 L614.6,144.15" stroke="#000" stroke-width="1.7" fill="none"/>
<text transform="translate(339,141.7) rotate(-90)" font-size="17.5" font-weight="bold">V<tspan font-size="12" dy="4.5">0.5</tspan><tspan dy="-4.5"> (mV)</tspan></text>
<text x="312.60" y="286.00" font-size="19.5" font-weight="bold" textLength="12.00" lengthAdjust="spacingAndGlyphs" stroke="#000" stroke-width="0.3">C</text>
<line x1="277.90" y1="475.80" x2="577.60" y2="475.80" stroke="#000" stroke-width="2.2" />
<line x1="514.80" y1="277.70" x2="514.80" y2="476.90" stroke="#000" stroke-width="2.2" />
<line x1="509.10" y1="287.20" x2="514.80" y2="287.20" stroke="#000" stroke-width="1.8" />
<text x="506.60" y="291.80" font-size="12.5" textLength="18.30" lengthAdjust="spacingAndGlyphs" text-anchor="end" >1.0</text>
<line x1="509.10" y1="376.95" x2="514.80" y2="376.95" stroke="#000" stroke-width="1.8" />
<text x="506.60" y="381.55" font-size="12.5" textLength="18.30" lengthAdjust="spacingAndGlyphs" text-anchor="end" >0.5</text>
<line x1="509.10" y1="466.70" x2="514.80" y2="466.70" stroke="#000" stroke-width="1.8" />
<text x="506.60" y="471.30" font-size="12.5" textLength="18.30" lengthAdjust="spacingAndGlyphs" text-anchor="end" >0.0</text>
<line x1="390.80" y1="475.80" x2="390.80" y2="480.90" stroke="#000" stroke-width="1.8" />
<line x1="514.80" y1="475.80" x2="514.80" y2="480.90" stroke="#000" stroke-width="1.8" />
<text x="387.40" y="491.30" font-size="12.5" textLength="19.20" lengthAdjust="spacingAndGlyphs" text-anchor="middle" >-50</text>
<text x="511.90" y="491.30" font-size="12.5" text-anchor="middle" >0</text>
<text x="419.50" y="513.00" font-size="17.5" font-weight="bold" textLength="55.50" lengthAdjust="spacingAndGlyphs" >V (mV)</text>
<g transform="translate(532.6,388.3) rotate(-90)"><text x="0" y="0" font-size="17" font-weight="bold" textLength="17.2" lengthAdjust="spacingAndGlyphs">I/I</text><text x="19.0" y="5.2" font-size="12.5" font-weight="bold" textLength="22" lengthAdjust="spacingAndGlyphs">max</text></g>
<path d="M291.60,458.50 L295.10,462.00 L291.60,465.50 L288.10,462.00Z" fill="#000"/>
<path d="M316.40,458.50 L319.90,462.00 L316.40,465.50 L312.90,462.00Z" fill="#000"/>
<path d="M341.20,458.00 L344.70,461.50 L341.20,465.00 L337.70,461.50Z" fill="#000"/>
<path d="M366.00,457.50 L369.50,461.00 L366.00,464.50 L362.50,461.00Z" fill="#000"/>
<path d="M390.80,453.20 L394.30,456.70 L390.80,460.20 L387.30,456.70Z" fill="#000"/>
<path d="M415.60,435.80 L419.10,439.30 L415.60,442.80 L412.10,439.30Z" fill="#000"/>
<path d="M440.40,400.90 L443.90,404.40 L440.40,407.90 L436.90,404.40Z" fill="#000"/>
<path d="M465.20,345.50 L468.70,349.00 L465.20,352.50 L461.70,349.00Z" fill="#000"/>
<path d="M490.00,299.50 L493.50,303.00 L490.00,306.50 L486.50,303.00Z" fill="#000"/>
<path d="M514.80,284.00 L518.30,287.50 L514.80,291.00 L511.30,287.50Z" fill="#000"/>
<path d="M539.60,287.00 L543.10,290.50 L539.60,294.00 L536.10,290.50Z" fill="#000"/>
<path d="M564.40,287.50 L567.90,291.00 L564.40,294.50 L560.90,291.00Z" fill="#000"/>
<rect x="312.40" y="467.50" width="8.0" height="8.0" fill="#ff0000"/>
<rect x="337.20" y="465.00" width="8.0" height="8.0" fill="#ff0000"/>
<rect x="362.00" y="459.60" width="8.0" height="8.0" fill="#ff0000"/>
<rect x="386.80" y="448.00" width="8.0" height="8.0" fill="#ff0000"/>
<line x1="415.60" y1="425.50" x2="415.60" y2="433.50" stroke="#ff0000" stroke-width="2.0" />
<line x1="412.00" y1="425.50" x2="419.20" y2="425.50" stroke="#ff0000" stroke-width="2.0" />
<line x1="412.00" y1="433.50" x2="419.20" y2="433.50" stroke="#ff0000" stroke-width="2.0" />
<rect x="411.60" y="425.50" width="8.0" height="8.0" fill="#ff0000"/>
<line x1="440.40" y1="381.30" x2="440.40" y2="395.30" stroke="#ff0000" stroke-width="2.0" />
<line x1="436.80" y1="381.30" x2="444.00" y2="381.30" stroke="#ff0000" stroke-width="2.0" />
<line x1="436.80" y1="395.30" x2="444.00" y2="395.30" stroke="#ff0000" stroke-width="2.0" />
<rect x="436.40" y="384.30" width="8.0" height="8.0" fill="#ff0000"/>
<line x1="465.20" y1="332.00" x2="465.20" y2="344.00" stroke="#ff0000" stroke-width="2.0" />
<line x1="461.60" y1="332.00" x2="468.80" y2="332.00" stroke="#ff0000" stroke-width="2.0" />
<line x1="461.60" y1="344.00" x2="468.80" y2="344.00" stroke="#ff0000" stroke-width="2.0" />
<rect x="461.20" y="334.00" width="8.0" height="8.0" fill="#ff0000"/>
<line x1="490.00" y1="306.80" x2="490.00" y2="312.80" stroke="#ff0000" stroke-width="2.0" />
<line x1="486.40" y1="306.80" x2="493.60" y2="306.80" stroke="#ff0000" stroke-width="2.0" />
<line x1="486.40" y1="312.80" x2="493.60" y2="312.80" stroke="#ff0000" stroke-width="2.0" />
<rect x="486.00" y="305.80" width="8.0" height="8.0" fill="#ff0000"/>
<line x1="514.80" y1="295.50" x2="514.80" y2="299.50" stroke="#ff0000" stroke-width="2.0" />
<line x1="511.20" y1="295.50" x2="518.40" y2="295.50" stroke="#ff0000" stroke-width="2.0" />
<line x1="511.20" y1="299.50" x2="518.40" y2="299.50" stroke="#ff0000" stroke-width="2.0" />
<rect x="510.80" y="293.50" width="8.0" height="8.0" fill="#ff0000"/>
<line x1="291.60" y1="461.20" x2="291.60" y2="465.20" stroke="#0000ff" stroke-width="2.0" />
<line x1="288.00" y1="461.20" x2="295.20" y2="461.20" stroke="#0000ff" stroke-width="2.0" />
<line x1="288.00" y1="465.20" x2="295.20" y2="465.20" stroke="#0000ff" stroke-width="2.0" />
<rect x="287.60" y="459.20" width="8.0" height="8.0" fill="#0000ff"/>
<rect x="312.40" y="458.60" width="8.0" height="8.0" fill="#0000ff"/>
<rect x="337.20" y="455.00" width="8.0" height="8.0" fill="#0000ff"/>
<rect x="386.80" y="441.00" width="8.0" height="8.0" fill="#0000ff"/>
<line x1="415.60" y1="404.80" x2="415.60" y2="420.80" stroke="#0000ff" stroke-width="2.0" />
<line x1="412.00" y1="404.80" x2="419.20" y2="404.80" stroke="#0000ff" stroke-width="2.0" />
<line x1="412.00" y1="420.80" x2="419.20" y2="420.80" stroke="#0000ff" stroke-width="2.0" />
<rect x="411.60" y="408.80" width="8.0" height="8.0" fill="#0000ff"/>
<line x1="440.40" y1="356.00" x2="440.40" y2="372.00" stroke="#0000ff" stroke-width="2.0" />
<line x1="436.80" y1="356.00" x2="444.00" y2="356.00" stroke="#0000ff" stroke-width="2.0" />
<line x1="436.80" y1="372.00" x2="444.00" y2="372.00" stroke="#0000ff" stroke-width="2.0" />
<rect x="436.40" y="360.00" width="8.0" height="8.0" fill="#0000ff"/>
<line x1="465.20" y1="315.50" x2="465.20" y2="325.50" stroke="#0000ff" stroke-width="2.0" />
<line x1="461.60" y1="315.50" x2="468.80" y2="315.50" stroke="#0000ff" stroke-width="2.0" />
<line x1="461.60" y1="325.50" x2="468.80" y2="325.50" stroke="#0000ff" stroke-width="2.0" />
<rect x="461.20" y="316.50" width="8.0" height="8.0" fill="#0000ff"/>
<line x1="490.00" y1="294.00" x2="490.00" y2="302.00" stroke="#0000ff" stroke-width="2.0" />
<line x1="486.40" y1="294.00" x2="493.60" y2="294.00" stroke="#0000ff" stroke-width="2.0" />
<line x1="486.40" y1="302.00" x2="493.60" y2="302.00" stroke="#0000ff" stroke-width="2.0" />
<rect x="486.00" y="294.00" width="8.0" height="8.0" fill="#0000ff"/>
<line x1="514.80" y1="289.00" x2="514.80" y2="295.00" stroke="#0000ff" stroke-width="2.0" />
<line x1="511.20" y1="289.00" x2="518.40" y2="289.00" stroke="#0000ff" stroke-width="2.0" />
<line x1="511.20" y1="295.00" x2="518.40" y2="295.00" stroke="#0000ff" stroke-width="2.0" />
<rect x="510.80" y="288.00" width="8.0" height="8.0" fill="#0000ff"/>
<line x1="539.60" y1="292.80" x2="539.60" y2="296.80" stroke="#0000ff" stroke-width="2.0" />
<line x1="536.00" y1="292.80" x2="543.20" y2="292.80" stroke="#0000ff" stroke-width="2.0" />
<line x1="536.00" y1="296.80" x2="543.20" y2="296.80" stroke="#0000ff" stroke-width="2.0" />
<rect x="535.60" y="290.80" width="8.0" height="8.0" fill="#0000ff"/>
<line x1="564.40" y1="292.50" x2="564.40" y2="302.50" stroke="#0000ff" stroke-width="2.0" />
<line x1="560.80" y1="292.50" x2="568.00" y2="292.50" stroke="#0000ff" stroke-width="2.0" />
<line x1="560.80" y1="302.50" x2="568.00" y2="302.50" stroke="#0000ff" stroke-width="2.0" />
<rect x="560.40" y="293.50" width="8.0" height="8.0" fill="#0000ff"/>
<rect x="287.60" y="467.80" width="8.0" height="8.0" fill="#008000"/>
<rect x="312.40" y="463.50" width="8.0" height="8.0" fill="#008000"/>
<rect x="337.20" y="460.00" width="8.0" height="8.0" fill="#008000"/>
<line x1="366.00" y1="452.20" x2="366.00" y2="456.20" stroke="#008000" stroke-width="2.0" />
<line x1="362.40" y1="452.20" x2="369.60" y2="452.20" stroke="#008000" stroke-width="2.0" />
<line x1="362.40" y1="456.20" x2="369.60" y2="456.20" stroke="#008000" stroke-width="2.0" />
<rect x="362.00" y="450.20" width="8.0" height="8.0" fill="#008000"/>
<line x1="390.80" y1="432.80" x2="390.80" y2="438.80" stroke="#008000" stroke-width="2.0" />
<line x1="387.20" y1="432.80" x2="394.40" y2="432.80" stroke="#008000" stroke-width="2.0" />
<line x1="387.20" y1="438.80" x2="394.40" y2="438.80" stroke="#008000" stroke-width="2.0" />
<rect x="386.80" y="431.80" width="8.0" height="8.0" fill="#008000"/>
<line x1="415.60" y1="390.50" x2="415.60" y2="408.50" stroke="#008000" stroke-width="2.0" />
<line x1="412.00" y1="390.50" x2="419.20" y2="390.50" stroke="#008000" stroke-width="2.0" />
<line x1="412.00" y1="408.50" x2="419.20" y2="408.50" stroke="#008000" stroke-width="2.0" />
<rect x="411.60" y="395.50" width="8.0" height="8.0" fill="#008000"/>
<line x1="440.40" y1="337.00" x2="440.40" y2="363.00" stroke="#008000" stroke-width="2.0" />
<line x1="436.80" y1="337.00" x2="444.00" y2="337.00" stroke="#008000" stroke-width="2.0" />
<line x1="436.80" y1="363.00" x2="444.00" y2="363.00" stroke="#008000" stroke-width="2.0" />
<rect x="436.40" y="346.00" width="8.0" height="8.0" fill="#008000"/>
<line x1="465.20" y1="305.80" x2="465.20" y2="321.80" stroke="#008000" stroke-width="2.0" />
<line x1="461.60" y1="305.80" x2="468.80" y2="305.80" stroke="#008000" stroke-width="2.0" />
<line x1="461.60" y1="321.80" x2="468.80" y2="321.80" stroke="#008000" stroke-width="2.0" />
<rect x="461.20" y="309.80" width="8.0" height="8.0" fill="#008000"/>
<line x1="490.00" y1="293.60" x2="490.00" y2="301.60" stroke="#008000" stroke-width="2.0" />
<line x1="486.40" y1="293.60" x2="493.60" y2="293.60" stroke="#008000" stroke-width="2.0" />
<line x1="486.40" y1="301.60" x2="493.60" y2="301.60" stroke="#008000" stroke-width="2.0" />
<rect x="486.00" y="293.60" width="8.0" height="8.0" fill="#008000"/>
<line x1="514.80" y1="289.50" x2="514.80" y2="295.50" stroke="#008000" stroke-width="2.0" />
<line x1="511.20" y1="289.50" x2="518.40" y2="289.50" stroke="#008000" stroke-width="2.0" />
<line x1="511.20" y1="295.50" x2="518.40" y2="295.50" stroke="#008000" stroke-width="2.0" />
<rect x="510.80" y="288.50" width="8.0" height="8.0" fill="#008000"/>
<line x1="539.60" y1="287.00" x2="539.60" y2="291.00" stroke="#008000" stroke-width="2.0" />
<line x1="536.00" y1="287.00" x2="543.20" y2="287.00" stroke="#008000" stroke-width="2.0" />
<line x1="536.00" y1="291.00" x2="543.20" y2="291.00" stroke="#008000" stroke-width="2.0" />
<rect x="535.60" y="285.00" width="8.0" height="8.0" fill="#008000"/>
<line x1="564.40" y1="284.00" x2="564.40" y2="292.00" stroke="#008000" stroke-width="2.0" />
<line x1="560.80" y1="284.00" x2="568.00" y2="284.00" stroke="#008000" stroke-width="2.0" />
<line x1="560.80" y1="292.00" x2="568.00" y2="292.00" stroke="#008000" stroke-width="2.0" />
<rect x="560.40" y="284.00" width="8.0" height="8.0" fill="#008000"/>
<path d="M291.60,461.12 L292.84,461.12 L294.08,461.12 L295.32,461.12 L296.56,461.12 L297.80,461.12 L299.04,461.12 L300.28,461.11 L301.52,461.11 L302.76,461.11 L304.00,461.11 L305.24,461.11 L306.48,461.10 L307.72,461.10 L308.96,461.10 L310.20,461.10 L311.44,461.09 L312.68,461.09 L313.92,461.09 L315.16,461.08 L316.40,461.08 L317.64,461.08 L318.88,461.07 L320.12,461.07 L321.36,461.06 L322.60,461.05 L323.84,461.05 L325.08,461.04 L326.32,461.03 L327.56,461.03 L328.80,461.02 L330.04,461.01 L331.28,461.00 L332.52,460.99 L333.76,460.98 L335.00,460.97 L336.24,460.95 L337.48,460.94 L338.72,460.93 L339.96,460.91 L341.20,460.89 L342.44,460.87 L343.68,460.85 L344.92,460.83 L346.16,460.81 L347.40,460.79 L348.64,460.76 L349.88,460.73 L351.12,460.70 L352.36,460.67 L353.60,460.63 L354.84,460.59 L356.08,460.55 L357.32,460.51 L358.56,460.46 L359.80,460.41 L361.04,460.35 L362.28,460.29 L363.52,460.23 L364.76,460.16 L366.00,460.09 L367.24,460.01 L368.48,459.92 L369.72,459.83 L370.96,459.73 L372.20,459.63 L373.44,459.51 L374.68,459.39 L375.92,459.26 L377.16,459.12 L378.40,458.97 L379.64,458.81 L380.88,458.63 L382.12,458.44 L383.36,458.24 L384.60,458.03 L385.84,457.79 L387.08,457.55 L388.32,457.28 L389.56,456.99 L390.80,456.69 L392.04,456.36 L393.28,456.00 L394.52,455.63 L395.76,455.22 L397.00,454.79 L398.24,454.32 L399.48,453.83 L400.72,453.30 L401.96,452.73 L403.20,452.13 L404.44,451.48 L405.68,450.79 L406.92,450.05 L408.16,449.27 L409.40,448.43 L410.64,447.54 L411.88,446.60 L413.12,445.59 L414.36,444.53 L415.60,443.39 L416.84,442.19 L418.08,440.92 L419.32,439.58 L420.56,438.16 L421.80,436.66 L423.04,435.08 L424.28,433.42 L425.52,431.68 L426.76,429.85 L428.00,427.93 L429.24,425.93 L430.48,423.83 L431.72,421.65 L432.96,419.38 L434.20,417.03 L435.44,414.58 L436.68,412.06 L437.92,409.46 L439.16,406.78 L440.40,404.02 L441.64,401.20 L442.88,398.32 L444.12,395.38 L445.36,392.39 L446.60,389.36 L447.84,386.29 L449.08,383.19 L450.32,380.07 L451.56,376.95 L452.80,373.81 L454.04,370.69 L455.28,367.57 L456.52,364.48 L457.76,361.42 L459.00,358.40 L460.24,355.42 L461.48,352.49 L462.72,349.62 L463.96,346.81 L465.20,344.07 L466.44,341.40 L467.68,338.82 L468.92,336.31 L470.16,333.88 L471.40,331.54 L472.64,329.29 L473.88,327.13 L475.12,325.05 L476.36,323.06 L477.60,321.16 L478.84,319.35 L480.08,317.62 L481.32,315.98 L482.56,314.42 L483.80,312.94 L485.04,311.53 L486.28,310.20 L487.52,308.95 L488.76,307.76 L490.00,306.64 L491.24,305.59 L492.48,304.59 L493.72,303.66 L494.96,302.78 L496.20,301.96 L497.44,301.18 L498.68,300.46 L499.92,299.77 L501.16,299.14 L502.40,298.54 L503.64,297.98 L504.88,297.46 L506.12,296.97 L507.36,296.51 L508.60,296.08 L509.84,295.68 L511.08,295.31 L512.32,294.96 L513.56,294.64 L514.80,294.34 L516.04,294.05 L517.28,293.79 L518.52,293.54 L519.76,293.32 L521.00,293.10 L522.24,292.90 L523.48,292.72 L524.72,292.55 L525.96,292.39 L527.20,292.24 L528.44,292.10 L529.68,291.97 L530.92,291.85 L532.16,291.74 L533.40,291.63 L534.64,291.54 L535.88,291.45 L537.12,291.36 L538.36,291.28 L539.60,291.21 L540.84,291.14 L542.08,291.08 L543.32,291.02 L544.56,290.97 L545.80,290.92 L547.04,290.87 L548.28,290.83 L549.52,290.79 L550.76,290.75 L552.00,290.71 L553.24,290.68 L554.48,290.65 L555.72,290.62 L556.96,290.60 L558.20,290.57 L559.44,290.55 L560.68,290.53 L561.92,290.51 L563.16,290.49 L564.40,290.47" fill="none" stroke="#000" stroke-width="2.0" />
<path d="M291.60,469.92 L292.84,469.90 L294.08,469.89 L295.32,469.88 L296.56,469.87 L297.80,469.85 L299.04,469.84 L300.28,469.82 L301.52,469.81 L302.76,469.79 L304.00,469.77 L305.24,469.75 L306.48,469.73 L307.72,469.71 L308.96,469.68 L310.20,469.66 L311.44,469.63 L312.68,469.61 L313.92,469.58 L315.16,469.55 L316.40,469.52 L317.64,469.48 L318.88,469.45 L320.12,469.41 L321.36,469.37 L322.60,469.32 L323.84,469.28 L325.08,469.23 L326.32,469.18 L327.56,469.13 L328.80,469.07 L330.04,469.01 L331.28,468.95 L332.52,468.88 L333.76,468.81 L335.00,468.74 L336.24,468.66 L337.48,468.58 L338.72,468.49 L339.96,468.40 L341.20,468.30 L342.44,468.20 L343.68,468.09 L344.92,467.98 L346.16,467.86 L347.40,467.73 L348.64,467.60 L349.88,467.45 L351.12,467.30 L352.36,467.15 L353.60,466.98 L354.84,466.80 L356.08,466.62 L357.32,466.42 L358.56,466.21 L359.80,465.99 L361.04,465.76 L362.28,465.52 L363.52,465.26 L364.76,464.99 L366.00,464.71 L367.24,464.41 L368.48,464.09 L369.72,463.76 L370.96,463.41 L372.20,463.04 L373.44,462.65 L374.68,462.24 L375.92,461.81 L377.16,461.36 L378.40,460.88 L379.64,460.38 L380.88,459.85 L382.12,459.30 L383.36,458.71 L384.60,458.10 L385.84,457.46 L387.08,456.79 L388.32,456.09 L389.56,455.35 L390.80,454.57 L392.04,453.76 L393.28,452.91 L394.52,452.02 L395.76,451.09 L397.00,450.12 L398.24,449.11 L399.48,448.05 L400.72,446.95 L401.96,445.79 L403.20,444.60 L404.44,443.35 L405.68,442.05 L406.92,440.70 L408.16,439.30 L409.40,437.85 L410.64,436.34 L411.88,434.78 L413.12,433.17 L414.36,431.50 L415.60,429.78 L416.84,428.00 L418.08,426.17 L419.32,424.29 L420.56,422.35 L421.80,420.36 L423.04,418.32 L424.28,416.23 L425.52,414.10 L426.76,411.92 L428.00,409.69 L429.24,407.42 L430.48,405.12 L431.72,402.77 L432.96,400.40 L434.20,397.99 L435.44,395.55 L436.68,393.09 L437.92,390.61 L439.16,388.12 L440.40,385.61 L441.64,383.09 L442.88,380.56 L444.12,378.04 L445.36,375.51 L446.60,372.99 L447.84,370.49 L449.08,367.99 L450.32,365.52 L451.56,363.06 L452.80,360.63 L454.04,358.23 L455.28,355.86 L456.52,353.52 L457.76,351.23 L459.00,348.97 L460.24,346.75 L461.48,344.58 L462.72,342.45 L463.96,340.37 L465.20,338.34 L466.44,336.37 L467.68,334.44 L468.92,332.57 L470.16,330.75 L471.40,328.98 L472.64,327.27 L473.88,325.61 L475.12,324.01 L476.36,322.46 L477.60,320.96 L478.84,319.52 L480.08,318.13 L481.32,316.79 L482.56,315.50 L483.80,314.27 L485.04,313.08 L486.28,311.94 L487.52,310.84 L488.76,309.79 L490.00,308.79 L491.24,307.82 L492.48,306.90 L493.72,306.02 L494.96,305.18 L496.20,304.38 L497.44,303.61 L498.68,302.88 L499.92,302.18 L501.16,301.51 L502.40,300.88 L503.64,300.27 L504.88,299.70 L506.12,299.15 L507.36,298.63 L508.60,298.13 L509.84,297.66 L511.08,297.21 L512.32,296.78 L513.56,296.38 L514.80,295.99 L516.04,295.63 L517.28,295.28 L518.52,294.95 L519.76,294.64 L521.00,294.34 L522.24,294.06 L523.48,293.79 L524.72,293.54 L525.96,293.29 L527.20,293.07 L528.44,292.85 L529.68,292.65 L530.92,292.45 L532.16,292.27 L533.40,292.09 L534.64,291.93 L535.88,291.77 L537.12,291.62 L538.36,291.48 L539.60,291.35 L540.84,291.22 L542.08,291.10 L543.32,290.99 L544.56,290.88 L545.80,290.78 L547.04,290.68 L548.28,290.59 L549.52,290.51 L550.76,290.43 L552.00,290.35 L553.24,290.28 L554.48,290.21 L555.72,290.14 L556.96,290.08 L558.20,290.02 L559.44,289.97 L560.68,289.91 L561.92,289.86 L563.16,289.82 L564.40,289.77" fill="none" stroke="#ff0000" stroke-width="2.0" />
<path d="M291.60,462.09 L292.84,462.08 L294.08,462.07 L295.32,462.06 L296.56,462.05 L297.80,462.04 L299.04,462.03 L300.28,462.02 L301.52,462.01 L302.76,461.99 L304.00,461.98 L305.24,461.96 L306.48,461.95 L307.72,461.93 L308.96,461.91 L310.20,461.89 L311.44,461.87 L312.68,461.85 L313.92,461.83 L315.16,461.80 L316.40,461.78 L317.64,461.75 L318.88,461.72 L320.12,461.68 L321.36,461.65 L322.60,461.61 L323.84,461.58 L325.08,461.53 L326.32,461.49 L327.56,461.44 L328.80,461.39 L330.04,461.34 L331.28,461.28 L332.52,461.22 L333.76,461.16 L335.00,461.09 L336.24,461.02 L337.48,460.94 L338.72,460.86 L339.96,460.77 L341.20,460.68 L342.44,460.58 L343.68,460.48 L344.92,460.37 L346.16,460.25 L347.40,460.12 L348.64,459.99 L349.88,459.85 L351.12,459.69 L352.36,459.53 L353.60,459.36 L354.84,459.18 L356.08,458.99 L357.32,458.78 L358.56,458.56 L359.80,458.33 L361.04,458.08 L362.28,457.82 L363.52,457.54 L364.76,457.25 L366.00,456.94 L367.24,456.61 L368.48,456.25 L369.72,455.88 L370.96,455.49 L372.20,455.07 L373.44,454.62 L374.68,454.15 L375.92,453.65 L377.16,453.13 L378.40,452.57 L379.64,451.98 L380.88,451.36 L382.12,450.70 L383.36,450.00 L384.60,449.27 L385.84,448.50 L387.08,447.68 L388.32,446.82 L389.56,445.92 L390.80,444.96 L392.04,443.96 L393.28,442.91 L394.52,441.80 L395.76,440.64 L397.00,439.43 L398.24,438.15 L399.48,436.82 L400.72,435.43 L401.96,433.97 L403.20,432.46 L404.44,430.88 L405.68,429.23 L406.92,427.52 L408.16,425.74 L409.40,423.90 L410.64,422.00 L411.88,420.03 L413.12,417.99 L414.36,415.89 L415.60,413.73 L416.84,411.51 L418.08,409.23 L419.32,406.90 L420.56,404.51 L421.80,402.08 L423.04,399.59 L424.28,397.07 L425.52,394.51 L426.76,391.91 L428.00,389.28 L429.24,386.63 L430.48,383.96 L431.72,381.27 L432.96,378.57 L434.20,375.87 L435.44,373.17 L436.68,370.48 L437.92,367.80 L439.16,365.13 L440.40,362.49 L441.64,359.87 L442.88,357.29 L444.12,354.74 L445.36,352.23 L446.60,349.77 L447.84,347.35 L449.08,344.98 L450.32,342.67 L451.56,340.42 L452.80,338.22 L454.04,336.08 L455.28,334.01 L456.52,332.00 L457.76,330.06 L459.00,328.18 L460.24,326.36 L461.48,324.61 L462.72,322.93 L463.96,321.31 L465.20,319.75 L466.44,318.26 L467.68,316.83 L468.92,315.46 L470.16,314.15 L471.40,312.90 L472.64,311.71 L473.88,310.57 L475.12,309.49 L476.36,308.46 L477.60,307.47 L478.84,306.54 L480.08,305.65 L481.32,304.81 L482.56,304.01 L483.80,303.25 L485.04,302.54 L486.28,301.86 L487.52,301.21 L488.76,300.60 L490.00,300.03 L491.24,299.48 L492.48,298.97 L493.72,298.48 L494.96,298.02 L496.20,297.59 L497.44,297.18 L498.68,296.79 L499.92,296.43 L501.16,296.08 L502.40,295.76 L503.64,295.45 L504.88,295.17 L506.12,294.89 L507.36,294.64 L508.60,294.40 L509.84,294.17 L511.08,293.96 L512.32,293.76 L513.56,293.57 L514.80,293.39 L516.04,293.22 L517.28,293.07 L518.52,292.92 L519.76,292.78 L521.00,292.65 L522.24,292.53 L523.48,292.41 L524.72,292.30 L525.96,292.20 L527.20,292.10 L528.44,292.01 L529.68,291.93 L530.92,291.85 L532.16,291.77 L533.40,291.70 L534.64,291.64 L535.88,291.57 L537.12,291.52 L538.36,291.46 L539.60,291.41 L540.84,291.36 L542.08,291.32 L543.32,291.27 L544.56,291.23 L545.80,291.19 L547.04,291.16 L548.28,291.13 L549.52,291.09 L550.76,291.06 L552.00,291.04 L553.24,291.01 L554.48,290.99 L555.72,290.96 L556.96,290.94 L558.20,290.92 L559.44,290.90 L560.68,290.89 L561.92,290.87 L563.16,290.85 L564.40,290.84" fill="none" stroke="#0000ff" stroke-width="2.0" />
<path d="M291.60,468.86 L292.84,468.83 L294.08,468.80 L295.32,468.77 L296.56,468.74 L297.80,468.70 L299.04,468.66 L300.28,468.62 L301.52,468.58 L302.76,468.53 L304.00,468.49 L305.24,468.44 L306.48,468.38 L307.72,468.33 L308.96,468.27 L310.20,468.21 L311.44,468.14 L312.68,468.07 L313.92,468.00 L315.16,467.92 L316.40,467.84 L317.64,467.76 L318.88,467.67 L320.12,467.57 L321.36,467.47 L322.60,467.37 L323.84,467.25 L325.08,467.14 L326.32,467.01 L327.56,466.88 L328.80,466.75 L330.04,466.60 L331.28,466.45 L332.52,466.29 L333.76,466.12 L335.00,465.94 L336.24,465.75 L337.48,465.55 L338.72,465.34 L339.96,465.12 L341.20,464.89 L342.44,464.65 L343.68,464.39 L344.92,464.12 L346.16,463.84 L347.40,463.54 L348.64,463.22 L349.88,462.89 L351.12,462.55 L352.36,462.18 L353.60,461.80 L354.84,461.39 L356.08,460.97 L357.32,460.52 L358.56,460.06 L359.80,459.57 L361.04,459.05 L362.28,458.51 L363.52,457.94 L364.76,457.35 L366.00,456.73 L367.24,456.07 L368.48,455.39 L369.72,454.67 L370.96,453.93 L372.20,453.14 L373.44,452.33 L374.68,451.47 L375.92,450.58 L377.16,449.65 L378.40,448.67 L379.64,447.66 L380.88,446.60 L382.12,445.50 L383.36,444.36 L384.60,443.17 L385.84,441.93 L387.08,440.65 L388.32,439.31 L389.56,437.93 L390.80,436.50 L392.04,435.02 L393.28,433.49 L394.52,431.91 L395.76,430.27 L397.00,428.59 L398.24,426.85 L399.48,425.07 L400.72,423.23 L401.96,421.34 L403.20,419.41 L404.44,417.43 L405.68,415.40 L406.92,413.33 L408.16,411.22 L409.40,409.06 L410.64,406.86 L411.88,404.63 L413.12,402.37 L414.36,400.07 L415.60,397.74 L416.84,395.38 L418.08,393.01 L419.32,390.61 L420.56,388.19 L421.80,385.77 L423.04,383.33 L424.28,380.88 L425.52,378.43 L426.76,375.99 L428.00,373.55 L429.24,371.11 L430.48,368.69 L431.72,366.28 L432.96,363.89 L434.20,361.52 L435.44,359.18 L436.68,356.86 L437.92,354.57 L439.16,352.32 L440.40,350.10 L441.64,347.92 L442.88,345.78 L444.12,343.68 L445.36,341.63 L446.60,339.62 L447.84,337.66 L449.08,335.74 L450.32,333.88 L451.56,332.06 L452.80,330.30 L454.04,328.58 L455.28,326.92 L456.52,325.30 L457.76,323.74 L459.00,322.23 L460.24,320.77 L461.48,319.36 L462.72,318.00 L463.96,316.68 L465.20,315.42 L466.44,314.20 L467.68,313.03 L468.92,311.90 L470.16,310.82 L471.40,309.78 L472.64,308.78 L473.88,307.83 L475.12,306.91 L476.36,306.03 L477.60,305.19 L478.84,304.39 L480.08,303.62 L481.32,302.88 L482.56,302.18 L483.80,301.51 L485.04,300.87 L486.28,300.26 L487.52,299.68 L488.76,299.12 L490.00,298.59 L491.24,298.08 L492.48,297.60 L493.72,297.14 L494.96,296.71 L496.20,296.29 L497.44,295.90 L498.68,295.52 L499.92,295.16 L501.16,294.82 L502.40,294.50 L503.64,294.19 L504.88,293.90 L506.12,293.62 L507.36,293.35 L508.60,293.10 L509.84,292.86 L511.08,292.64 L512.32,292.42 L513.56,292.22 L514.80,292.02 L516.04,291.84 L517.28,291.66 L518.52,291.50 L519.76,291.34 L521.00,291.19 L522.24,291.05 L523.48,290.91 L524.72,290.79 L525.96,290.66 L527.20,290.55 L528.44,290.44 L529.68,290.34 L530.92,290.24 L532.16,290.15 L533.40,290.06 L534.64,289.97 L535.88,289.89 L537.12,289.82 L538.36,289.75 L539.60,289.68 L540.84,289.62 L542.08,289.56 L543.32,289.50 L544.56,289.44 L545.80,289.39 L547.04,289.34 L548.28,289.30 L549.52,289.25 L550.76,289.21 L552.00,289.17 L553.24,289.13 L554.48,289.10 L555.72,289.06 L556.96,289.03 L558.20,289.00 L559.44,288.97 L560.68,288.95 L561.92,288.92 L563.16,288.90 L564.40,288.87" fill="none" stroke="#008000" stroke-width="2.0" />
<line x1="592.00" y1="292.00" x2="613.50" y2="292.00" stroke="#000" stroke-width="2.0" />
<path d="M602.60,288.50 L606.10,292.00 L602.60,295.50 L599.10,292.00Z" fill="#000"/>
<text x="616.50" y="294.60" font-size="12.8" textLength="20.00" lengthAdjust="spacingAndGlyphs" >WT</text>
<line x1="592.00" y1="314.60" x2="613.50" y2="314.60" stroke="#ff0000" stroke-width="2.0" />
<rect x="598.60" y="310.60" width="8.0" height="8.0" fill="#ff0000"/>
<text x="616.8" y="318.6" font-size="12.8" textLength="35.2" lengthAdjust="spacingAndGlyphs">F656F</text>
<text x="652.6" y="316.00" font-size="11" stroke="#000" stroke-width="0.25">*</text>
<line x1="592.00" y1="337.20" x2="613.50" y2="337.20" stroke="#0000ff" stroke-width="2.0" />
<rect x="598.60" y="333.20" width="8.0" height="8.0" fill="#0000ff"/>
<text x="616.50" y="340.30" font-size="12.8" textLength="41.50" lengthAdjust="spacingAndGlyphs" >F656F1</text>
<line x1="592.00" y1="358.40" x2="613.50" y2="358.40" stroke="#008000" stroke-width="2.0" />
<rect x="598.60" y="354.40" width="8.0" height="8.0" fill="#008000"/>
<text x="616.50" y="360.90" font-size="12.8" textLength="41.50" lengthAdjust="spacingAndGlyphs" >F656F2</text>
</svg>
</body></html>
